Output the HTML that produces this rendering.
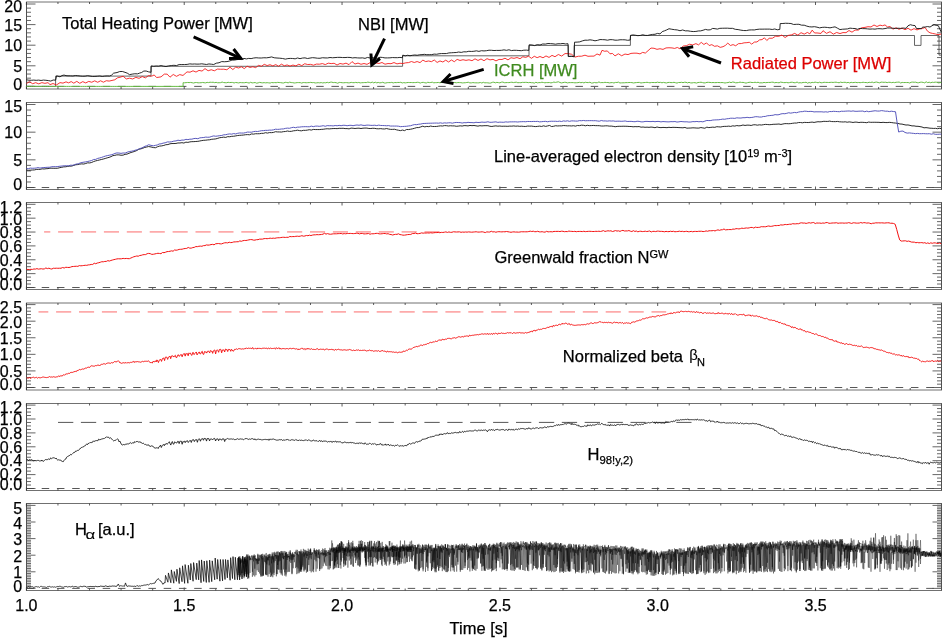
<!DOCTYPE html>
<html><head><meta charset="utf-8"><style>
html,body{margin:0;padding:0;background:#fff;}
svg{display:block;}
text{font-family:"Liberation Sans", sans-serif;stroke:currentColor;stroke-width:0.25px;}
</style></head><body>
<svg width="942" height="643" viewBox="0 0 942 643" font-family="Liberation Sans, sans-serif" style="will-change:transform">
<rect width="942" height="643" fill="#fff"/>
<path d="M26.00 2.00H942.00M26.00 89.00H942.00" fill="none" stroke="#707070" stroke-width="1"/>
<path d="M26.50 2.00V89.00M941.50 2.00V89.00" fill="none" stroke="#505050" stroke-width="1"/>
<path d="M26.50 86.40h9.00M941.50 86.40h-9.00M26.50 82.28h4.50M941.50 82.28h-4.50M26.50 78.16h4.50M941.50 78.16h-4.50M26.50 74.04h4.50M941.50 74.04h-4.50M26.50 69.92h4.50M941.50 69.92h-4.50M26.50 65.80h9.00M941.50 65.80h-9.00M26.50 61.68h4.50M941.50 61.68h-4.50M26.50 57.56h4.50M941.50 57.56h-4.50M26.50 53.44h4.50M941.50 53.44h-4.50M26.50 49.32h4.50M941.50 49.32h-4.50M26.50 45.20h9.00M941.50 45.20h-9.00M26.50 41.08h4.50M941.50 41.08h-4.50M26.50 36.96h4.50M941.50 36.96h-4.50M26.50 32.84h4.50M941.50 32.84h-4.50M26.50 28.72h4.50M941.50 28.72h-4.50M26.50 24.60h9.00M941.50 24.60h-9.00M26.50 20.48h4.50M941.50 20.48h-4.50M26.50 16.36h4.50M941.50 16.36h-4.50M26.50 12.24h4.50M941.50 12.24h-4.50M26.50 8.12h4.50M941.50 8.12h-4.50M26.50 4.00h9.00M941.50 4.00h-9.00" stroke="#555" stroke-width="0.9" fill="none"/>
<path d="M26.40 89.00v-3.00M26.40 2.00v3.00M57.96 89.00v-2.00M57.96 2.00v2.00M89.53 89.00v-2.00M89.53 2.00v2.00M121.09 89.00v-2.00M121.09 2.00v2.00M152.66 89.00v-2.00M152.66 2.00v2.00M184.22 89.00v-3.00M184.22 2.00v3.00M215.78 89.00v-2.00M215.78 2.00v2.00M247.35 89.00v-2.00M247.35 2.00v2.00M278.91 89.00v-2.00M278.91 2.00v2.00M310.48 89.00v-2.00M310.48 2.00v2.00M342.04 89.00v-3.00M342.04 2.00v3.00M373.60 89.00v-2.00M373.60 2.00v2.00M405.17 89.00v-2.00M405.17 2.00v2.00M436.73 89.00v-2.00M436.73 2.00v2.00M468.30 89.00v-2.00M468.30 2.00v2.00M499.86 89.00v-3.00M499.86 2.00v3.00M531.42 89.00v-2.00M531.42 2.00v2.00M562.99 89.00v-2.00M562.99 2.00v2.00M594.55 89.00v-2.00M594.55 2.00v2.00M626.12 89.00v-2.00M626.12 2.00v2.00M657.68 89.00v-3.00M657.68 2.00v3.00M689.24 89.00v-2.00M689.24 2.00v2.00M720.81 89.00v-2.00M720.81 2.00v2.00M752.37 89.00v-2.00M752.37 2.00v2.00M783.94 89.00v-2.00M783.94 2.00v2.00M815.50 89.00v-3.00M815.50 2.00v3.00M847.06 89.00v-2.00M847.06 2.00v2.00M878.63 89.00v-2.00M878.63 2.00v2.00M910.19 89.00v-2.00M910.19 2.00v2.00" stroke="#333" stroke-width="0.8" fill="none"/>
<path d="M26.00 102.50H942.00M26.00 189.50H942.00" fill="none" stroke="#707070" stroke-width="1"/>
<path d="M26.50 102.50V189.50M941.50 102.50V189.50" fill="none" stroke="#505050" stroke-width="1"/>
<path d="M26.50 187.50h9.00M941.50 187.50h-9.00M26.50 181.97h4.50M941.50 181.97h-4.50M26.50 176.43h4.50M941.50 176.43h-4.50M26.50 170.90h4.50M941.50 170.90h-4.50M26.50 165.37h4.50M941.50 165.37h-4.50M26.50 159.84h9.00M941.50 159.84h-9.00M26.50 154.30h4.50M941.50 154.30h-4.50M26.50 148.77h4.50M941.50 148.77h-4.50M26.50 143.24h4.50M941.50 143.24h-4.50M26.50 137.70h4.50M941.50 137.70h-4.50M26.50 132.17h9.00M941.50 132.17h-9.00M26.50 126.64h4.50M941.50 126.64h-4.50M26.50 121.10h4.50M941.50 121.10h-4.50M26.50 115.57h4.50M941.50 115.57h-4.50M26.50 110.04h4.50M941.50 110.04h-4.50M26.50 104.50h9.00M941.50 104.50h-9.00" stroke="#555" stroke-width="0.9" fill="none"/>
<path d="M26.40 189.50v-3.00M26.40 102.50v3.00M57.96 189.50v-2.00M57.96 102.50v2.00M89.53 189.50v-2.00M89.53 102.50v2.00M121.09 189.50v-2.00M121.09 102.50v2.00M152.66 189.50v-2.00M152.66 102.50v2.00M184.22 189.50v-3.00M184.22 102.50v3.00M215.78 189.50v-2.00M215.78 102.50v2.00M247.35 189.50v-2.00M247.35 102.50v2.00M278.91 189.50v-2.00M278.91 102.50v2.00M310.48 189.50v-2.00M310.48 102.50v2.00M342.04 189.50v-3.00M342.04 102.50v3.00M373.60 189.50v-2.00M373.60 102.50v2.00M405.17 189.50v-2.00M405.17 102.50v2.00M436.73 189.50v-2.00M436.73 102.50v2.00M468.30 189.50v-2.00M468.30 102.50v2.00M499.86 189.50v-3.00M499.86 102.50v3.00M531.42 189.50v-2.00M531.42 102.50v2.00M562.99 189.50v-2.00M562.99 102.50v2.00M594.55 189.50v-2.00M594.55 102.50v2.00M626.12 189.50v-2.00M626.12 102.50v2.00M657.68 189.50v-3.00M657.68 102.50v3.00M689.24 189.50v-2.00M689.24 102.50v2.00M720.81 189.50v-2.00M720.81 102.50v2.00M752.37 189.50v-2.00M752.37 102.50v2.00M783.94 189.50v-2.00M783.94 102.50v2.00M815.50 189.50v-3.00M815.50 102.50v3.00M847.06 189.50v-2.00M847.06 102.50v2.00M878.63 189.50v-2.00M878.63 102.50v2.00M910.19 189.50v-2.00M910.19 102.50v2.00" stroke="#333" stroke-width="0.8" fill="none"/>
<path d="M26.00 202.50H942.00M26.00 289.50H942.00" fill="none" stroke="#707070" stroke-width="1"/>
<path d="M26.50 202.50V289.50M941.50 202.50V289.50" fill="none" stroke="#505050" stroke-width="1"/>
<path d="M26.50 287.50h9.00M941.50 287.50h-9.00M26.50 284.03h4.50M941.50 284.03h-4.50M26.50 280.57h4.50M941.50 280.57h-4.50M26.50 277.10h4.50M941.50 277.10h-4.50M26.50 273.63h9.00M941.50 273.63h-9.00M26.50 270.17h4.50M941.50 270.17h-4.50M26.50 266.70h4.50M941.50 266.70h-4.50M26.50 263.23h4.50M941.50 263.23h-4.50M26.50 259.77h9.00M941.50 259.77h-9.00M26.50 256.30h4.50M941.50 256.30h-4.50M26.50 252.84h4.50M941.50 252.84h-4.50M26.50 249.37h4.50M941.50 249.37h-4.50M26.50 245.90h9.00M941.50 245.90h-9.00M26.50 242.44h4.50M941.50 242.44h-4.50M26.50 238.97h4.50M941.50 238.97h-4.50M26.50 235.50h4.50M941.50 235.50h-4.50M26.50 232.04h9.00M941.50 232.04h-9.00M26.50 228.57h4.50M941.50 228.57h-4.50M26.50 225.10h4.50M941.50 225.10h-4.50M26.50 221.64h4.50M941.50 221.64h-4.50M26.50 218.17h9.00M941.50 218.17h-9.00M26.50 214.70h4.50M941.50 214.70h-4.50M26.50 211.24h4.50M941.50 211.24h-4.50M26.50 207.77h4.50M941.50 207.77h-4.50M26.50 204.30h9.00M941.50 204.30h-9.00" stroke="#555" stroke-width="0.9" fill="none"/>
<path d="M26.40 289.50v-3.00M26.40 202.50v3.00M57.96 289.50v-2.00M57.96 202.50v2.00M89.53 289.50v-2.00M89.53 202.50v2.00M121.09 289.50v-2.00M121.09 202.50v2.00M152.66 289.50v-2.00M152.66 202.50v2.00M184.22 289.50v-3.00M184.22 202.50v3.00M215.78 289.50v-2.00M215.78 202.50v2.00M247.35 289.50v-2.00M247.35 202.50v2.00M278.91 289.50v-2.00M278.91 202.50v2.00M310.48 289.50v-2.00M310.48 202.50v2.00M342.04 289.50v-3.00M342.04 202.50v3.00M373.60 289.50v-2.00M373.60 202.50v2.00M405.17 289.50v-2.00M405.17 202.50v2.00M436.73 289.50v-2.00M436.73 202.50v2.00M468.30 289.50v-2.00M468.30 202.50v2.00M499.86 289.50v-3.00M499.86 202.50v3.00M531.42 289.50v-2.00M531.42 202.50v2.00M562.99 289.50v-2.00M562.99 202.50v2.00M594.55 289.50v-2.00M594.55 202.50v2.00M626.12 289.50v-2.00M626.12 202.50v2.00M657.68 289.50v-3.00M657.68 202.50v3.00M689.24 289.50v-2.00M689.24 202.50v2.00M720.81 289.50v-2.00M720.81 202.50v2.00M752.37 289.50v-2.00M752.37 202.50v2.00M783.94 289.50v-2.00M783.94 202.50v2.00M815.50 289.50v-3.00M815.50 202.50v3.00M847.06 289.50v-2.00M847.06 202.50v2.00M878.63 289.50v-2.00M878.63 202.50v2.00M910.19 289.50v-2.00M910.19 202.50v2.00" stroke="#333" stroke-width="0.8" fill="none"/>
<path d="M26.00 303.00H942.00M26.00 390.00H942.00" fill="none" stroke="#707070" stroke-width="1"/>
<path d="M26.50 303.00V390.00M941.50 303.00V390.00" fill="none" stroke="#505050" stroke-width="1"/>
<path d="M26.50 387.50h9.00M941.50 387.50h-9.00M26.50 384.18h4.50M941.50 384.18h-4.50M26.50 380.87h4.50M941.50 380.87h-4.50M26.50 377.55h4.50M941.50 377.55h-4.50M26.50 374.24h4.50M941.50 374.24h-4.50M26.50 370.92h9.00M941.50 370.92h-9.00M26.50 367.60h4.50M941.50 367.60h-4.50M26.50 364.29h4.50M941.50 364.29h-4.50M26.50 360.97h4.50M941.50 360.97h-4.50M26.50 357.66h4.50M941.50 357.66h-4.50M26.50 354.34h9.00M941.50 354.34h-9.00M26.50 351.02h4.50M941.50 351.02h-4.50M26.50 347.71h4.50M941.50 347.71h-4.50M26.50 344.39h4.50M941.50 344.39h-4.50M26.50 341.08h4.50M941.50 341.08h-4.50M26.50 337.76h9.00M941.50 337.76h-9.00M26.50 334.44h4.50M941.50 334.44h-4.50M26.50 331.13h4.50M941.50 331.13h-4.50M26.50 327.81h4.50M941.50 327.81h-4.50M26.50 324.50h4.50M941.50 324.50h-4.50M26.50 321.18h9.00M941.50 321.18h-9.00M26.50 317.86h4.50M941.50 317.86h-4.50M26.50 314.55h4.50M941.50 314.55h-4.50M26.50 311.23h4.50M941.50 311.23h-4.50M26.50 307.92h4.50M941.50 307.92h-4.50M26.50 304.60h9.00M941.50 304.60h-9.00" stroke="#555" stroke-width="0.9" fill="none"/>
<path d="M26.40 390.00v-3.00M26.40 303.00v3.00M57.96 390.00v-2.00M57.96 303.00v2.00M89.53 390.00v-2.00M89.53 303.00v2.00M121.09 390.00v-2.00M121.09 303.00v2.00M152.66 390.00v-2.00M152.66 303.00v2.00M184.22 390.00v-3.00M184.22 303.00v3.00M215.78 390.00v-2.00M215.78 303.00v2.00M247.35 390.00v-2.00M247.35 303.00v2.00M278.91 390.00v-2.00M278.91 303.00v2.00M310.48 390.00v-2.00M310.48 303.00v2.00M342.04 390.00v-3.00M342.04 303.00v3.00M373.60 390.00v-2.00M373.60 303.00v2.00M405.17 390.00v-2.00M405.17 303.00v2.00M436.73 390.00v-2.00M436.73 303.00v2.00M468.30 390.00v-2.00M468.30 303.00v2.00M499.86 390.00v-3.00M499.86 303.00v3.00M531.42 390.00v-2.00M531.42 303.00v2.00M562.99 390.00v-2.00M562.99 303.00v2.00M594.55 390.00v-2.00M594.55 303.00v2.00M626.12 390.00v-2.00M626.12 303.00v2.00M657.68 390.00v-3.00M657.68 303.00v3.00M689.24 390.00v-2.00M689.24 303.00v2.00M720.81 390.00v-2.00M720.81 303.00v2.00M752.37 390.00v-2.00M752.37 303.00v2.00M783.94 390.00v-2.00M783.94 303.00v2.00M815.50 390.00v-3.00M815.50 303.00v3.00M847.06 390.00v-2.00M847.06 303.00v2.00M878.63 390.00v-2.00M878.63 303.00v2.00M910.19 390.00v-2.00M910.19 303.00v2.00" stroke="#333" stroke-width="0.8" fill="none"/>
<path d="M26.00 403.50H942.00M26.00 490.50H942.00" fill="none" stroke="#707070" stroke-width="1"/>
<path d="M26.50 403.50V490.50M941.50 403.50V490.50" fill="none" stroke="#505050" stroke-width="1"/>
<path d="M26.50 488.50h9.00M941.50 488.50h-9.00M26.50 485.02h4.50M941.50 485.02h-4.50M26.50 481.55h4.50M941.50 481.55h-4.50M26.50 478.07h4.50M941.50 478.07h-4.50M26.50 474.60h9.00M941.50 474.60h-9.00M26.50 471.12h4.50M941.50 471.12h-4.50M26.50 467.65h4.50M941.50 467.65h-4.50M26.50 464.18h4.50M941.50 464.18h-4.50M26.50 460.70h9.00M941.50 460.70h-9.00M26.50 457.23h4.50M941.50 457.23h-4.50M26.50 453.75h4.50M941.50 453.75h-4.50M26.50 450.27h4.50M941.50 450.27h-4.50M26.50 446.80h9.00M941.50 446.80h-9.00M26.50 443.32h4.50M941.50 443.32h-4.50M26.50 439.85h4.50M941.50 439.85h-4.50M26.50 436.38h4.50M941.50 436.38h-4.50M26.50 432.90h9.00M941.50 432.90h-9.00M26.50 429.43h4.50M941.50 429.43h-4.50M26.50 425.95h4.50M941.50 425.95h-4.50M26.50 422.48h4.50M941.50 422.48h-4.50M26.50 419.00h9.00M941.50 419.00h-9.00M26.50 415.52h4.50M941.50 415.52h-4.50M26.50 412.05h4.50M941.50 412.05h-4.50M26.50 408.57h4.50M941.50 408.57h-4.50M26.50 405.10h9.00M941.50 405.10h-9.00" stroke="#555" stroke-width="0.9" fill="none"/>
<path d="M26.40 490.50v-3.00M26.40 403.50v3.00M57.96 490.50v-2.00M57.96 403.50v2.00M89.53 490.50v-2.00M89.53 403.50v2.00M121.09 490.50v-2.00M121.09 403.50v2.00M152.66 490.50v-2.00M152.66 403.50v2.00M184.22 490.50v-3.00M184.22 403.50v3.00M215.78 490.50v-2.00M215.78 403.50v2.00M247.35 490.50v-2.00M247.35 403.50v2.00M278.91 490.50v-2.00M278.91 403.50v2.00M310.48 490.50v-2.00M310.48 403.50v2.00M342.04 490.50v-3.00M342.04 403.50v3.00M373.60 490.50v-2.00M373.60 403.50v2.00M405.17 490.50v-2.00M405.17 403.50v2.00M436.73 490.50v-2.00M436.73 403.50v2.00M468.30 490.50v-2.00M468.30 403.50v2.00M499.86 490.50v-3.00M499.86 403.50v3.00M531.42 490.50v-2.00M531.42 403.50v2.00M562.99 490.50v-2.00M562.99 403.50v2.00M594.55 490.50v-2.00M594.55 403.50v2.00M626.12 490.50v-2.00M626.12 403.50v2.00M657.68 490.50v-3.00M657.68 403.50v3.00M689.24 490.50v-2.00M689.24 403.50v2.00M720.81 490.50v-2.00M720.81 403.50v2.00M752.37 490.50v-2.00M752.37 403.50v2.00M783.94 490.50v-2.00M783.94 403.50v2.00M815.50 490.50v-3.00M815.50 403.50v3.00M847.06 490.50v-2.00M847.06 403.50v2.00M878.63 490.50v-2.00M878.63 403.50v2.00M910.19 490.50v-2.00M910.19 403.50v2.00" stroke="#333" stroke-width="0.8" fill="none"/>
<path d="M26.00 503.50H942.00M26.00 590.50H942.00" fill="none" stroke="#707070" stroke-width="1"/>
<path d="M26.50 503.50V590.50M941.50 503.50V590.50" fill="none" stroke="#505050" stroke-width="1"/>
<path d="M26.50 588.40h9.00M941.50 588.40h-9.00M26.50 586.74h4.50M941.50 586.74h-4.50M26.50 585.08h4.50M941.50 585.08h-4.50M26.50 583.42h4.50M941.50 583.42h-4.50M26.50 581.76h4.50M941.50 581.76h-4.50M26.50 580.10h4.50M941.50 580.10h-4.50M26.50 578.44h4.50M941.50 578.44h-4.50M26.50 576.78h4.50M941.50 576.78h-4.50M26.50 575.12h4.50M941.50 575.12h-4.50M26.50 573.46h4.50M941.50 573.46h-4.50M26.50 571.80h9.00M941.50 571.80h-9.00M26.50 570.14h4.50M941.50 570.14h-4.50M26.50 568.48h4.50M941.50 568.48h-4.50M26.50 566.82h4.50M941.50 566.82h-4.50M26.50 565.16h4.50M941.50 565.16h-4.50M26.50 563.50h4.50M941.50 563.50h-4.50M26.50 561.84h4.50M941.50 561.84h-4.50M26.50 560.18h4.50M941.50 560.18h-4.50M26.50 558.52h4.50M941.50 558.52h-4.50M26.50 556.86h4.50M941.50 556.86h-4.50M26.50 555.20h9.00M941.50 555.20h-9.00M26.50 553.54h4.50M941.50 553.54h-4.50M26.50 551.88h4.50M941.50 551.88h-4.50M26.50 550.22h4.50M941.50 550.22h-4.50M26.50 548.56h4.50M941.50 548.56h-4.50M26.50 546.90h4.50M941.50 546.90h-4.50M26.50 545.24h4.50M941.50 545.24h-4.50M26.50 543.58h4.50M941.50 543.58h-4.50M26.50 541.92h4.50M941.50 541.92h-4.50M26.50 540.26h4.50M941.50 540.26h-4.50M26.50 538.60h9.00M941.50 538.60h-9.00M26.50 536.94h4.50M941.50 536.94h-4.50M26.50 535.28h4.50M941.50 535.28h-4.50M26.50 533.62h4.50M941.50 533.62h-4.50M26.50 531.96h4.50M941.50 531.96h-4.50M26.50 530.30h4.50M941.50 530.30h-4.50M26.50 528.64h4.50M941.50 528.64h-4.50M26.50 526.98h4.50M941.50 526.98h-4.50M26.50 525.32h4.50M941.50 525.32h-4.50M26.50 523.66h4.50M941.50 523.66h-4.50M26.50 522.00h9.00M941.50 522.00h-9.00M26.50 520.34h4.50M941.50 520.34h-4.50M26.50 518.68h4.50M941.50 518.68h-4.50M26.50 517.02h4.50M941.50 517.02h-4.50M26.50 515.36h4.50M941.50 515.36h-4.50M26.50 513.70h4.50M941.50 513.70h-4.50M26.50 512.04h4.50M941.50 512.04h-4.50M26.50 510.38h4.50M941.50 510.38h-4.50M26.50 508.72h4.50M941.50 508.72h-4.50M26.50 507.06h4.50M941.50 507.06h-4.50M26.50 505.40h9.00M941.50 505.40h-9.00M26.50 503.74h4.50M941.50 503.74h-4.50" stroke="#555" stroke-width="0.9" fill="none"/>
<path d="M26.40 590.50v-3.00M26.40 503.50v3.00M57.96 590.50v-2.00M57.96 503.50v2.00M89.53 590.50v-2.00M89.53 503.50v2.00M121.09 590.50v-2.00M121.09 503.50v2.00M152.66 590.50v-2.00M152.66 503.50v2.00M184.22 590.50v-3.00M184.22 503.50v3.00M215.78 590.50v-2.00M215.78 503.50v2.00M247.35 590.50v-2.00M247.35 503.50v2.00M278.91 590.50v-2.00M278.91 503.50v2.00M310.48 590.50v-2.00M310.48 503.50v2.00M342.04 590.50v-3.00M342.04 503.50v3.00M373.60 590.50v-2.00M373.60 503.50v2.00M405.17 590.50v-2.00M405.17 503.50v2.00M436.73 590.50v-2.00M436.73 503.50v2.00M468.30 590.50v-2.00M468.30 503.50v2.00M499.86 590.50v-3.00M499.86 503.50v3.00M531.42 590.50v-2.00M531.42 503.50v2.00M562.99 590.50v-2.00M562.99 503.50v2.00M594.55 590.50v-2.00M594.55 503.50v2.00M626.12 590.50v-2.00M626.12 503.50v2.00M657.68 590.50v-3.00M657.68 503.50v3.00M689.24 590.50v-2.00M689.24 503.50v2.00M720.81 590.50v-2.00M720.81 503.50v2.00M752.37 590.50v-2.00M752.37 503.50v2.00M783.94 590.50v-2.00M783.94 503.50v2.00M815.50 590.50v-3.00M815.50 503.50v3.00M847.06 590.50v-2.00M847.06 503.50v2.00M878.63 590.50v-2.00M878.63 503.50v2.00M910.19 590.50v-2.00M910.19 503.50v2.00" stroke="#333" stroke-width="0.8" fill="none"/>
<path d="M26.45 86.40H941.50" stroke="#444" stroke-width="0.9" stroke-dasharray="7.5 7.75" fill="none"/>
<path d="M26.45 187.50H941.50" stroke="#444" stroke-width="0.9" stroke-dasharray="7.5 7.75" fill="none"/>
<path d="M26.45 287.50H941.50" stroke="#444" stroke-width="0.9" stroke-dasharray="7.5 7.75" fill="none"/>
<path d="M26.45 387.50H941.50" stroke="#444" stroke-width="0.9" stroke-dasharray="7.5 7.75" fill="none"/>
<path d="M26.45 488.50H941.50" stroke="#444" stroke-width="0.9" stroke-dasharray="7.5 7.75" fill="none"/>
<path d="M26.45 588.40H941.50" stroke="#444" stroke-width="0.9" stroke-dasharray="7.5 7.75" fill="none"/>
<polyline points="26.50,86.40 55.60,86.40 55.60,76.10 151.00,76.10 151.00,66.30 402.60,66.30 402.60,55.80 529.00,55.80 529.00,45.40 568.30,45.40 568.30,56.30 574.20,56.30 574.20,45.40 630.40,45.40 630.40,35.50 914.50,35.50 914.50,45.40 921.00,45.40 921.00,35.50 939.00,35.50 939.00,55.10 941.20,55.10" fill="none" stroke="#333" stroke-width="0.75"/>
<polyline points="26.50,86.40 28.51,86.40 30.52,86.40 32.52,86.40 34.53,86.40 36.54,86.40 38.55,86.40 40.55,86.40 42.56,86.40 44.57,86.40 46.58,86.40 48.58,86.40 50.59,86.40 52.60,86.40 54.61,86.40 56.62,86.40 58.62,86.40 60.63,86.40 62.64,86.40 64.65,86.40 66.65,86.40 68.66,86.40 70.67,86.40 72.68,86.40 74.68,86.40 76.69,86.40 78.70,86.40 80.71,86.40 82.72,86.40 84.72,86.40 86.73,86.40 88.74,86.40 90.75,86.40 92.75,86.40 94.76,86.40 96.77,86.40 98.78,86.40 100.78,86.40 102.79,86.40 104.80,86.40 106.81,86.40 108.82,86.40 110.82,86.40 112.83,86.40 114.84,86.40 116.85,86.40 118.85,86.40 120.86,86.40 122.87,86.40 124.88,86.40 126.88,86.40 128.89,86.40 130.90,86.40 132.91,86.40 134.92,86.40 136.92,86.40 138.93,86.40 140.94,86.40 142.95,86.40 144.95,86.40 146.96,86.40 148.97,86.40 150.98,86.40 152.98,86.40 154.99,86.40 157.00,86.40 159.01,86.40 161.02,86.40 163.02,86.40 165.03,86.40 167.04,86.40 169.05,86.40 171.05,86.40 173.06,86.40 175.07,86.40 177.08,86.40 179.08,86.40 181.09,86.40 183.10,86.40 183.10,82.70 184.60,82.77 186.10,82.63 187.60,82.48 189.10,82.58 190.61,82.45 192.11,82.71 193.61,83.03 195.11,82.57 196.61,82.54 198.11,82.82 199.61,82.78 201.11,82.72 202.62,82.46 204.12,82.69 205.62,82.87 207.12,82.36 208.62,82.58 210.12,82.22 211.62,82.37 213.12,82.23 214.62,82.63 216.13,82.37 217.63,82.76 219.13,82.73 220.63,82.64 222.13,82.06 223.63,82.55 225.13,82.68 226.63,82.72 228.14,82.31 229.64,82.57 231.14,82.44 232.64,82.48 234.14,82.95 235.64,82.48 237.14,82.68 238.64,82.91 240.15,82.54 241.65,82.66 243.15,82.71 244.65,82.70 246.15,82.38 247.65,82.70 249.15,83.02 250.65,82.30 252.15,82.90 253.66,82.71 255.16,82.52 256.66,83.18 258.16,82.87 259.66,82.38 261.16,82.70 262.66,82.82 264.16,82.63 265.67,82.85 267.17,82.66 268.67,82.84 270.17,83.04 271.67,82.51 273.17,82.73 274.67,82.56 276.17,82.71 277.67,82.38 279.18,82.53 280.68,82.63 282.18,82.90 283.68,82.96 285.18,82.34 286.68,82.47 288.18,82.83 289.68,82.17 291.19,82.56 292.69,82.65 294.19,82.98 295.69,82.84 297.19,82.59 298.69,82.58 300.19,82.61 301.69,83.05 303.20,82.56 304.70,82.59 306.20,82.76 307.70,82.64 309.20,82.62 310.70,82.39 312.20,82.66 313.70,82.55 315.20,82.96 316.71,82.83 318.21,82.66 319.71,82.83 321.21,82.58 322.71,82.93 324.21,82.66 325.71,82.81 327.21,82.34 328.72,82.75 330.22,82.24 331.72,82.15 333.22,82.58 334.72,82.44 336.22,82.70 337.72,83.22 339.22,82.45 340.72,82.50 342.23,82.71 343.73,82.78 345.23,82.61 346.73,82.61 348.23,82.83 349.73,82.79 351.23,82.40 352.73,82.64 354.24,82.66 355.74,82.39 357.24,82.72 358.74,82.44 360.24,82.90 361.74,82.70 363.24,82.67 364.74,82.50 366.24,82.62 367.75,82.15 369.25,82.37 370.75,82.74 372.25,82.12 373.75,82.86 375.25,82.21 376.75,82.84 378.25,82.44 379.76,82.84 381.26,82.68 382.76,82.26 384.26,82.96 385.76,83.01 387.26,82.63 388.76,82.58 390.26,82.61 391.77,82.40 393.27,82.92 394.77,82.51 396.27,82.63 397.77,82.45 399.27,82.49 400.77,82.32 402.27,82.96 403.77,82.60 405.28,82.88 406.78,82.64 408.28,82.47 409.78,82.56 411.28,82.50 412.78,82.64 414.28,82.55 415.78,82.56 417.29,82.29 418.79,82.44 420.29,83.05 421.79,82.47 423.29,82.37 424.79,82.72 426.29,82.99 427.79,82.27 429.29,82.58 430.80,82.48 432.30,82.19 433.80,82.82 435.30,82.63 436.80,82.65 438.30,82.44 439.80,82.75 441.30,82.50 442.81,82.60 444.31,82.35 445.81,82.33 447.31,82.96 448.81,82.50 450.31,82.70 451.81,82.62 453.31,82.52 454.82,82.50 456.32,82.79 457.82,82.55 459.32,82.59 460.82,82.63 462.32,82.92 463.82,82.80 465.32,82.72 466.82,82.48 468.33,82.28 469.83,82.86 471.33,82.87 472.83,82.59 474.33,82.76 475.83,82.82 477.33,82.83 478.83,82.85 480.34,82.51 481.84,83.00 483.34,82.31 484.84,82.84 486.34,82.74 487.84,82.84 489.34,83.09 490.84,82.99 492.34,82.33 493.85,82.20 495.35,82.82 496.85,82.36 498.35,82.61 499.85,82.83 501.35,82.21 502.85,82.09 504.35,82.68 505.86,82.63 507.36,82.55 508.86,82.62 510.36,82.40 511.86,82.23 513.36,82.57 514.86,82.37 516.36,82.20 517.86,82.74 519.37,82.60 520.87,82.71 522.37,82.36 523.87,82.45 525.37,82.36 526.87,82.39 528.37,82.66 529.87,82.41 531.38,82.70 532.88,82.69 534.38,83.11 535.88,82.26 537.38,82.83 538.88,82.58 540.38,82.60 541.88,82.24 543.39,82.49 544.89,82.79 546.39,82.58 547.89,82.62 549.39,82.53 550.89,82.89 552.39,82.60 553.89,82.05 555.39,82.43 556.90,82.11 558.40,81.79 559.90,82.47 561.40,82.93 562.90,82.61 564.40,82.31 565.90,82.36 567.40,82.88 568.91,82.64 570.41,82.61 571.91,82.58 573.41,82.61 574.91,82.80 576.41,82.73 577.91,82.65 579.41,82.33 580.91,82.72 582.42,82.42 583.92,82.87 585.42,82.28 586.92,82.56 588.42,82.59 589.92,82.26 591.42,83.02 592.92,82.96 594.43,82.48 595.93,82.78 597.43,82.69 598.93,81.94 600.43,82.65 601.93,82.57 603.43,82.61 604.93,82.32 606.44,82.52 607.94,82.54 609.44,82.88 610.94,82.67 612.44,82.59 613.94,82.97 615.44,82.45 616.94,82.49 618.44,82.13 619.95,82.98 621.45,82.83 622.95,82.81 624.45,82.75 625.95,82.61 627.45,82.64 628.95,82.52 630.45,82.53 631.96,82.60 633.46,82.96 634.96,82.72 636.46,82.57 637.96,82.44 639.46,82.42 640.96,82.98 642.46,82.71 643.96,82.60 645.47,82.49 646.97,82.30 648.47,82.56 649.97,82.80 651.47,82.48 652.97,82.52 654.47,82.52 655.97,82.60 657.48,82.18 658.98,82.52 660.48,82.36 661.98,82.79 663.48,82.38 664.98,82.72 666.48,82.95 667.98,82.49 669.48,82.42 670.99,82.62 672.49,82.57 673.99,82.32 675.49,82.69 676.99,83.07 678.49,82.50 679.99,82.52 681.49,82.31 683.00,82.65 684.50,82.26 686.00,82.29 687.50,82.89 689.00,82.34 690.50,82.84 692.00,82.95 693.50,82.63 695.01,82.70 696.51,83.05 698.01,82.51 699.51,82.42 701.01,82.23 702.51,82.57 704.01,82.93 705.51,82.80 707.01,82.33 708.52,82.35 710.02,82.43 711.52,82.63 713.02,82.51 714.52,82.61 716.02,82.63 717.52,82.48 719.02,82.55 720.53,82.61 722.03,82.54 723.53,82.68 725.03,83.02 726.53,82.70 728.03,82.57 729.53,82.13 731.03,82.65 732.53,82.07 734.04,82.20 735.54,82.77 737.04,82.73 738.54,82.52 740.04,82.13 741.54,82.46 743.04,82.38 744.54,82.71 746.05,83.12 747.55,82.61 749.05,82.36 750.55,82.26 752.05,82.54 753.55,82.51 755.05,82.26 756.55,82.58 758.06,82.26 759.56,82.83 761.06,82.81 762.56,82.82 764.06,82.43 765.56,82.67 767.06,82.51 768.56,82.45 770.06,82.46 771.57,82.22 773.07,82.18 774.57,82.74 776.07,82.50 777.57,82.60 779.07,82.79 780.57,82.11 782.07,82.35 783.58,82.59 785.08,82.64 786.58,82.45 788.08,82.80 789.58,82.59 791.08,82.24 792.58,82.31 794.08,82.74 795.58,82.65 797.09,82.06 798.59,82.87 800.09,82.69 801.59,82.87 803.09,82.44 804.59,82.46 806.09,82.25 807.59,83.17 809.10,82.49 810.60,82.93 812.10,82.37 813.60,82.57 815.10,82.12 816.60,82.44 818.10,82.78 819.60,82.22 821.10,82.80 822.61,82.62 824.11,82.27 825.61,82.41 827.11,82.42 828.61,82.52 830.11,82.40 831.61,82.32 833.11,82.45 834.62,82.27 836.12,82.21 837.62,82.52 839.12,82.75 840.62,82.14 842.12,82.53 843.62,82.36 845.12,82.28 846.63,82.74 848.13,82.40 849.63,82.90 851.13,82.33 852.63,82.62 854.13,82.47 855.63,82.33 857.13,82.67 858.63,82.48 860.14,82.67 861.64,82.51 863.14,82.25 864.64,82.49 866.14,82.53 867.64,82.76 869.14,82.29 870.64,82.51 872.15,82.09 873.65,82.68 875.15,82.25 876.65,82.07 878.15,82.50 879.65,82.79 881.15,82.13 882.65,82.24 884.15,82.33 885.66,82.23 887.16,82.61 888.66,82.31 890.16,82.33 891.66,82.66 893.16,82.32 894.66,82.62 896.16,82.27 897.67,82.21 899.17,82.05 900.67,82.98 902.17,82.43 903.67,82.57 905.17,82.50 906.67,82.55 908.17,82.52 909.68,82.99 911.18,82.25 912.68,82.12 914.18,82.25 915.68,82.17 917.18,82.69 918.68,82.71 920.18,82.27 921.68,82.16 923.19,82.42 924.69,82.85 926.19,81.80 927.69,82.64 929.19,82.23 930.69,82.76 932.19,82.23 933.69,82.43 935.20,82.13 936.70,82.26 938.20,82.85 939.70,82.71 941.20,82.40" fill="none" stroke="#66bb44" stroke-width="1.0"/>
<polyline points="26.50,83.46 29.57,81.75 32.64,83.70 35.71,82.68 38.79,83.86 41.86,82.65 44.93,83.34 48.00,82.67 50.00,84.58 53.00,83.55 56.50,84.93 60.00,82.63 63.00,83.12 66.00,81.87 68.60,82.83 71.20,81.60 73.80,83.17 76.79,81.38 79.78,83.30 82.76,81.65 85.75,82.93 88.74,81.41 91.72,82.24 94.71,80.83 97.70,82.28 100.56,80.77 103.42,82.20 106.28,80.72 109.14,81.08 112.00,80.43 114.80,79.78 117.60,77.79 120.00,77.25 123.10,76.26 126.30,78.95 129.50,78.18 132.68,78.96 135.86,77.37 139.04,78.33 142.22,76.57 145.40,77.87 148.60,75.57 151.80,76.15 154.20,74.95 156.60,77.52 161.00,76.87 164.30,74.13 167.15,74.13 170.00,77.18 173.25,74.47 176.50,76.33 179.75,74.62 183.00,75.44 187.00,71.89 190.00,72.19 193.00,70.80 196.00,72.07 199.00,70.38 202.00,71.09 205.00,68.64 208.12,70.76 211.25,69.76 214.38,70.77 217.50,69.07 220.62,69.26 223.75,69.20 226.88,69.74 230.00,67.23 232.86,69.55 235.71,67.07 238.57,68.02 241.43,66.81 244.29,68.62 247.14,66.26 250.00,67.44 252.86,66.75 255.71,67.64 258.57,65.36 261.43,66.26 264.29,64.33 267.14,65.58 270.00,64.71 272.86,65.91 275.71,64.58 278.57,66.24 281.43,64.17 284.29,65.74 287.14,64.95 290.00,66.09 292.94,65.06 295.88,65.85 298.82,64.22 301.76,65.68 304.71,63.72 307.65,64.52 310.59,64.36 313.53,65.16 316.47,64.07 319.41,64.19 322.35,63.58 325.29,64.58 328.24,63.17 331.18,63.60 334.12,63.29 337.06,65.03 340.00,63.49 343.00,64.12 346.00,63.13 349.00,64.64 352.00,61.60 355.00,64.04 358.00,63.09 361.00,64.28 364.00,63.51 367.00,64.35 370.00,62.66 373.00,63.86 376.00,62.91 379.00,63.46 382.00,62.52 385.00,64.20 388.00,63.54 391.00,63.69 394.00,62.56 397.00,63.89 400.00,63.27 402.86,63.54 405.71,62.85 408.57,62.59 411.43,61.54 414.29,62.49 417.14,61.54 420.00,62.62 422.86,60.12 425.71,61.59 428.57,60.98 431.43,61.66 434.29,60.00 437.14,62.45 440.00,60.95 442.86,62.00 445.71,60.18 448.57,61.99 451.43,60.01 454.29,61.73 457.14,59.39 460.00,60.47 463.00,59.72 466.00,60.39 469.00,59.80 472.00,60.71 475.00,58.84 478.00,60.46 481.00,58.96 484.00,60.72 487.00,58.66 490.00,59.88 493.00,59.35 496.00,60.90 499.00,59.42 502.00,59.49 505.00,58.21 508.00,59.91 511.00,57.72 514.00,58.33 517.00,57.52 520.00,58.73 522.86,56.76 525.71,57.42 528.57,56.20 531.43,58.32 534.29,56.28 537.14,57.66 540.00,56.51 543.00,57.77 546.00,55.95 549.00,57.43 552.00,55.39 555.00,56.72 558.33,54.49 561.67,56.07 565.00,53.59 568.00,53.63 571.50,54.22 575.00,57.09 578.33,56.25 581.67,56.20 585.00,55.18 588.00,56.29 591.00,56.13 594.00,56.12 597.00,53.96 600.00,55.16 602.00,50.33 604.67,51.28 607.33,50.92 610.00,53.81 612.50,53.45 615.00,55.94 618.33,53.75 621.67,55.76 625.00,54.05 628.00,54.60 631.00,53.38 634.00,53.15 637.00,53.20 640.00,53.90 642.67,52.38 645.33,53.07 648.00,50.73 651.00,48.05 654.00,48.28 657.00,49.33 660.00,48.73 663.00,49.40 666.00,47.93 669.00,47.75 672.00,47.91 674.67,48.43 677.33,47.46 680.00,48.89 683.20,46.04 686.40,45.67 689.60,44.25 692.75,44.90 695.90,43.65 698.57,44.87 701.23,42.37 703.90,44.47 706.53,42.88 709.17,45.52 711.80,44.65 714.60,46.32 717.40,45.81 720.20,47.36 723.00,46.69 725.40,45.41 727.80,43.09 730.43,45.49 733.07,44.62 735.70,45.76 738.50,43.65 741.30,43.56 744.10,42.82 746.90,42.67 749.30,42.27 751.70,44.15 754.33,42.08 756.97,41.95 759.60,39.86 762.00,39.61 764.40,37.81 766.80,40.49 769.20,38.27 772.37,38.21 775.53,36.23 778.70,36.35 781.90,35.04 785.10,37.50 788.30,35.41 791.50,34.83 794.68,33.40 797.86,35.16 801.04,32.68 804.22,34.10 807.40,32.44 809.80,33.85 812.20,30.12 814.60,33.01 817.00,32.94 821.00,33.43 823.00,30.70 826.50,33.35 830.00,31.71 833.33,34.14 836.67,32.49 840.00,33.57 843.00,32.59 846.00,32.68 849.00,30.52 852.00,32.19 855.00,30.05 858.33,30.08 861.67,27.79 865.00,27.36 868.00,26.71 871.00,26.94 874.00,24.99 877.00,26.50 880.00,25.14 882.50,25.74 885.00,24.92 887.50,26.98 890.00,26.51 893.00,29.19 896.00,27.72 899.00,29.30 902.00,28.11 905.00,29.72 908.00,28.30 911.00,30.18 914.00,28.65 917.00,29.92 920.00,28.80 922.50,28.52 925.00,27.42 927.50,31.17 930.00,32.80 932.67,33.45 935.33,33.98 938.00,34.65 941.20,34.09" fill="none" stroke="#f41010" stroke-width="0.85"/>
<polyline points="26.50,79.79 28.93,80.22 31.35,80.27 33.77,80.08 36.20,80.33 38.62,80.11 41.05,80.47 43.48,80.08 45.90,80.29 48.33,80.59 50.75,81.07 53.17,80.00 55.60,80.16 56.60,75.85 60.00,76.84 62.00,75.56 64.00,75.05 66.00,75.64 68.00,75.81 70.45,75.82 72.89,75.98 75.34,75.51 77.79,75.71 80.24,76.03 82.68,76.22 85.13,76.13 87.58,75.66 90.02,76.07 92.47,76.46 94.92,76.40 97.36,76.22 99.81,75.99 102.26,76.45 104.71,76.10 107.15,75.94 109.60,76.06 111.60,75.13 113.60,73.17 117.00,72.55 119.65,71.56 122.30,71.48 125.00,72.32 127.25,73.15 129.50,74.65 132.17,74.13 134.83,73.75 137.50,73.87 139.60,73.10 141.70,72.46 143.80,71.05 146.20,71.04 148.60,71.85 151.00,72.30 151.20,65.93 153.67,66.30 156.13,66.00 158.60,66.14 161.07,65.57 163.53,66.16 166.00,66.53 168.63,65.92 171.27,65.54 173.90,65.30 176.53,65.57 179.17,64.54 181.80,64.57 184.47,64.54 187.13,64.42 189.80,63.87 192.19,64.12 194.58,63.98 196.97,64.13 199.36,64.08 201.75,63.81 204.14,64.17 206.53,64.47 208.92,63.95 211.31,64.20 213.70,64.50 216.37,63.18 219.03,62.75 221.70,61.58 224.33,61.74 226.97,61.59 229.60,61.01 232.00,60.07 234.40,60.09 236.80,59.64 239.20,59.36 241.60,59.53 244.00,58.40 246.38,58.92 248.75,58.39 251.12,58.62 253.50,58.06 256.09,57.74 258.68,57.96 261.26,58.03 263.85,57.76 266.44,57.83 269.02,57.47 271.61,56.92 274.20,57.77 277.00,58.03 279.80,58.19 282.60,58.50 285.40,59.11 287.83,58.58 290.27,58.42 292.70,58.49 295.13,58.82 297.57,57.97 300.00,58.66 302.50,58.06 305.00,57.87 307.50,58.53 310.00,58.07 312.50,57.66 315.00,57.89 317.50,58.23 320.00,58.26 322.50,57.72 325.00,57.92 327.50,57.96 330.00,57.51 332.50,57.76 335.00,57.59 337.50,57.39 340.00,57.35 342.50,57.54 345.00,57.55 347.50,57.39 350.00,57.45 352.50,57.93 355.00,57.68 357.50,57.90 360.00,58.01 362.50,57.85 365.00,58.37 367.50,57.46 370.00,57.97 372.50,57.65 375.00,58.32 377.50,58.29 380.00,57.21 382.49,57.46 384.98,57.91 387.47,57.90 389.96,57.84 392.44,57.56 394.93,57.67 397.42,57.68 399.91,57.42 402.40,57.71 402.80,55.12 405.20,55.88 407.60,55.27 410.00,55.76 412.40,55.29 414.80,54.98 417.20,55.25 419.60,54.76 422.00,54.65 424.40,54.34 426.80,54.69 429.25,54.66 431.71,54.64 434.16,54.10 436.62,54.28 439.07,53.78 441.52,53.56 443.98,53.58 446.43,53.54 448.88,52.94 451.34,52.78 453.79,52.62 456.25,52.51 458.70,52.03 461.23,52.42 463.76,51.80 466.29,51.87 468.82,51.29 471.35,51.46 473.88,51.28 476.41,50.84 478.94,51.39 481.47,50.70 484.00,50.93 486.50,50.69 489.00,50.20 491.50,50.29 494.00,50.53 496.50,50.42 499.00,50.41 501.50,50.31 504.00,49.86 506.50,50.33 508.98,49.77 511.46,50.58 513.93,50.28 516.41,50.32 518.89,50.50 521.37,50.68 523.84,50.20 526.32,50.14 528.80,50.38 529.20,44.79 531.90,44.96 534.60,45.58 537.30,44.63 540.00,45.00 542.67,43.99 545.33,44.09 548.00,43.50 550.50,43.61 553.00,43.82 555.50,44.20 558.00,43.76 560.50,43.76 563.00,43.46 565.50,43.95 568.00,43.73 568.30,56.55 571.25,56.29 574.20,56.82 574.50,42.21 577.12,42.11 579.75,41.86 582.38,40.89 585.00,40.16 587.50,40.24 590.00,39.82 592.50,40.19 595.00,40.80 597.50,40.33 600.00,39.57 602.50,39.64 605.00,39.78 607.50,40.20 610.00,39.65 612.50,39.69 615.00,40.17 617.50,40.16 620.00,39.79 622.55,39.76 625.10,39.84 627.65,40.29 630.20,40.03 630.60,35.32 633.02,34.91 635.45,35.24 637.88,35.66 640.30,35.45 642.73,34.75 645.15,35.36 647.58,35.45 650.00,34.88 652.50,34.41 655.00,34.27 657.50,33.42 660.00,33.94 662.25,31.60 664.50,30.82 666.75,29.89 669.00,28.73 671.75,29.25 674.50,29.68 677.25,29.94 680.00,30.74 682.65,29.97 685.30,30.83 687.95,30.84 690.60,31.31 693.25,31.55 695.90,31.43 698.30,30.98 700.70,30.89 703.10,30.23 705.50,29.40 707.88,29.96 710.27,29.79 712.65,28.41 715.03,28.69 717.42,29.10 719.80,28.34 722.34,28.25 724.88,28.20 727.42,28.18 729.96,28.36 732.50,28.33 735.30,29.32 738.10,29.58 740.90,30.17 743.70,30.54 746.35,30.57 749.00,30.00 751.65,29.90 754.30,29.95 756.95,29.43 759.60,29.15 762.12,29.16 764.65,29.12 767.17,29.11 769.70,29.11 772.23,29.48 774.75,28.97 777.27,29.75 779.80,29.41 780.20,23.58 782.90,23.49 785.60,23.26 788.30,23.35 790.95,23.50 793.60,24.48 796.25,24.32 798.90,24.28 801.55,25.16 804.20,25.20 806.76,26.11 809.32,26.76 811.88,26.95 814.44,26.68 817.00,27.17 819.60,27.87 822.20,27.38 824.80,27.22 827.40,27.48 830.00,27.84 832.50,27.34 835.00,26.84 837.50,28.21 840.00,29.59 842.50,29.22 845.00,29.08 847.50,28.92 850.00,28.12 852.50,28.43 855.00,28.53 857.50,29.25 860.00,28.34 862.50,28.61 865.00,28.65 867.50,28.88 870.00,29.11 872.50,28.95 875.00,29.15 877.50,28.69 880.00,28.69 882.50,28.91 885.00,28.55 887.50,28.01 890.00,27.99 892.67,28.21 895.33,28.45 898.00,28.22 900.67,28.42 903.33,28.05 906.00,28.35 908.00,25.79 910.33,24.71 912.67,25.33 915.00,25.57 916.50,28.59 919.00,28.46 921.50,28.68 922.50,27.10 925.00,27.08 927.50,26.54 930.00,27.06 932.00,25.74 934.00,24.74 936.20,25.32 938.40,25.79 941.20,32.07" fill="none" stroke="#111" stroke-width="0.9"/>
<polyline points="26.50,170.10 28.46,170.25 30.41,170.16 32.37,170.01 34.33,169.93 36.28,169.48 38.24,169.34 40.19,169.40 42.15,168.83 44.11,169.00 46.06,168.72 48.02,168.61 49.97,168.20 51.93,168.23 53.89,168.27 55.84,168.32 57.80,168.20 59.79,167.66 61.79,167.31 63.78,166.86 65.78,166.78 67.77,166.33 69.76,166.17 71.76,166.08 73.75,165.39 75.74,164.78 77.74,164.58 79.73,164.13 81.72,163.86 83.72,164.04 85.71,163.50 87.71,162.82 89.70,162.93 91.64,162.48 93.57,161.59 95.51,160.95 97.44,160.45 99.38,160.00 101.31,159.50 103.25,159.04 105.19,158.47 107.12,157.89 109.06,157.36 110.99,156.65 112.93,155.64 114.86,155.35 116.80,154.86 118.90,154.86 121.00,155.25 123.10,155.13 125.06,154.33 127.02,154.12 128.98,153.28 130.95,152.51 132.91,151.96 134.87,151.30 136.83,150.48 138.79,149.23 140.75,148.90 142.72,148.26 144.68,147.47 146.64,147.02 148.60,146.54 151.00,146.95 153.40,147.57 155.47,147.72 157.55,146.73 159.62,146.09 161.70,145.90 163.78,145.45 165.85,144.73 167.93,144.55 170.00,143.80 171.99,143.52 173.97,143.54 175.96,143.45 177.95,142.97 179.94,142.97 181.93,142.68 183.91,143.06 185.90,142.16 187.89,142.38 189.88,141.89 191.86,141.67 193.85,141.64 195.84,141.48 197.83,141.35 199.81,140.97 201.80,140.58 203.79,140.29 205.79,140.20 207.78,139.92 209.78,139.78 211.77,139.28 213.76,139.11 215.76,138.90 217.75,138.33 219.74,137.70 221.74,137.46 223.73,137.11 225.72,137.42 227.72,136.63 229.71,136.75 231.71,136.32 233.70,136.24 235.69,135.92 237.67,135.52 239.66,135.32 241.65,135.19 243.64,135.03 245.62,134.71 247.61,134.62 249.60,134.77 251.59,133.93 253.57,134.14 255.56,133.72 257.55,133.76 259.54,133.71 261.52,133.35 263.51,133.34 265.50,132.68 267.49,133.07 269.49,132.57 271.48,132.66 273.48,132.41 275.47,131.70 277.46,131.91 279.46,131.95 281.45,132.06 283.44,131.65 285.44,131.49 287.43,131.00 289.42,131.41 291.42,131.33 293.41,130.82 295.41,130.61 297.40,130.18 299.39,130.58 301.38,130.84 303.36,130.34 305.35,130.35 307.34,130.11 309.32,129.70 311.31,130.07 313.30,129.45 315.29,129.56 317.27,129.56 319.26,129.58 321.25,129.38 323.24,129.28 325.22,128.95 327.21,128.74 329.20,128.91 331.19,128.71 333.18,128.55 335.16,128.52 337.15,128.63 339.14,128.31 341.12,128.37 343.11,128.27 345.10,128.59 347.09,128.59 349.07,128.86 351.06,128.12 353.05,128.24 355.04,128.51 357.02,128.24 359.01,128.18 361.00,128.54 362.97,128.19 364.94,128.08 366.91,128.10 368.88,128.48 370.85,128.53 372.82,128.25 374.78,128.38 376.75,128.74 378.72,128.80 380.69,128.61 382.66,128.92 384.63,128.96 386.60,128.54 388.59,129.04 390.58,129.38 392.56,129.39 394.55,129.27 396.54,129.84 398.52,130.25 400.51,130.62 402.50,130.06 404.53,130.64 406.55,129.51 408.58,129.55 410.61,129.22 412.64,128.79 414.66,128.24 416.69,127.59 418.72,127.57 420.75,126.92 422.77,126.18 424.80,126.87 426.77,126.42 428.73,126.61 430.70,126.04 432.66,126.49 434.63,126.49 436.59,126.45 438.56,126.11 440.52,125.85 442.49,126.03 444.45,125.60 446.42,125.67 448.38,126.01 450.35,125.76 452.31,125.90 454.28,125.89 456.24,126.27 458.21,126.12 460.17,125.82 462.14,126.05 464.10,125.62 466.07,125.68 468.03,125.91 470.00,125.45 471.99,125.67 473.98,125.49 475.97,125.80 477.96,126.13 479.94,125.68 481.93,125.90 483.92,125.70 485.91,125.68 487.90,125.69 489.89,126.25 491.88,126.46 493.87,126.11 495.86,125.89 497.84,126.20 499.83,126.02 501.82,126.28 503.81,126.20 505.80,126.22 507.79,126.31 509.78,126.10 511.77,126.16 513.76,125.93 515.74,126.21 517.73,126.04 519.72,126.32 521.71,126.18 523.70,126.42 525.69,126.46 527.68,126.06 529.67,126.15 531.66,126.10 533.65,126.41 535.64,126.57 537.63,126.37 539.62,126.11 541.62,126.44 543.61,125.82 545.60,126.39 547.59,125.93 549.58,125.48 551.57,126.54 553.56,126.29 555.55,125.74 557.54,125.96 559.53,125.85 561.52,125.89 563.51,125.54 565.50,125.67 567.49,125.87 569.48,125.80 571.48,125.96 573.47,125.71 575.46,126.14 577.45,125.50 579.44,125.66 581.43,125.20 583.42,125.31 585.41,125.79 587.40,125.31 589.39,125.66 591.38,125.59 593.36,125.44 595.35,125.63 597.34,125.65 599.32,125.70 601.31,126.00 603.30,126.03 605.29,125.83 607.27,125.82 609.26,126.11 611.25,126.08 613.24,126.36 615.23,126.73 617.21,126.42 619.20,126.29 621.19,126.32 623.17,126.23 625.16,126.27 627.15,126.30 629.14,126.47 631.12,126.51 633.11,126.80 635.10,126.62 637.09,126.71 639.08,126.56 641.06,127.18 643.05,127.00 645.04,127.31 647.02,127.16 649.01,127.35 651.00,127.05 653.00,127.28 654.99,127.72 656.99,126.97 658.98,127.49 660.98,127.63 662.98,127.41 664.97,127.52 666.97,127.66 668.96,127.30 670.96,127.56 672.95,127.33 674.95,127.41 676.95,127.46 678.94,127.60 680.94,127.69 682.93,127.79 684.93,127.45 686.92,128.18 688.92,128.05 690.92,128.00 692.91,127.81 694.91,127.91 696.90,128.07 698.90,128.08 700.89,127.54 702.88,127.91 704.86,128.24 706.85,127.15 708.84,127.61 710.83,127.36 712.81,127.15 714.80,127.33 716.79,126.69 718.77,126.85 720.76,126.99 722.75,126.53 724.74,126.37 726.73,126.36 728.71,126.13 730.70,126.42 732.75,125.82 734.79,126.09 736.84,125.56 738.89,125.86 740.93,125.61 742.98,125.01 745.03,125.45 747.07,125.13 749.12,125.17 751.17,125.48 753.21,124.84 755.26,124.76 757.31,125.18 759.35,124.82 761.40,125.02 763.35,124.70 765.31,124.39 767.26,124.50 769.22,124.70 771.17,124.58 773.13,124.32 775.08,124.26 777.04,124.17 778.99,124.01 780.95,124.46 782.90,124.00 784.85,123.63 786.79,123.63 788.74,123.74 790.68,123.59 792.63,123.29 794.57,123.04 796.52,123.05 798.46,122.56 800.41,122.51 802.35,122.80 804.30,122.40 806.25,122.48 808.21,122.55 810.16,122.33 812.12,122.10 814.07,122.44 816.03,122.04 817.98,121.73 819.94,121.85 821.89,121.68 823.85,121.32 825.80,121.42 827.75,121.43 829.69,121.12 831.64,121.56 833.58,121.60 835.53,121.63 837.47,121.44 839.42,121.77 841.36,121.90 843.31,121.99 845.25,121.80 847.20,122.23 849.15,121.89 851.11,122.13 853.06,122.48 855.02,122.10 856.97,122.18 858.93,122.54 860.88,122.28 862.84,122.33 864.79,122.47 866.75,122.68 868.70,122.05 870.75,122.33 872.80,122.29 874.85,122.28 876.90,122.32 878.95,122.33 881.00,122.56 883.05,122.32 885.10,122.53 887.15,122.58 889.20,122.35 891.25,122.53 893.30,122.84 895.53,123.07 897.77,123.37 900.00,123.99 902.00,124.09 904.00,124.62 906.00,125.02 908.00,124.95 910.00,125.36 912.00,125.91 914.00,125.86 916.00,126.28 918.00,126.31 920.00,126.63 922.00,127.00 924.00,127.84 926.00,127.62 928.00,127.89 930.00,128.19 931.87,128.27 933.73,128.43 935.60,128.34 937.47,128.71 939.33,128.34 941.20,128.59" fill="none" stroke="#111" stroke-width="0.9"/>
<polyline points="26.50,168.66 28.43,168.62 30.35,168.11 32.27,168.27 34.20,168.19 36.12,168.05 38.05,167.57 39.97,168.08 41.90,167.72 43.89,167.55 45.88,167.42 47.86,167.27 49.85,167.23 51.84,166.73 53.82,166.64 55.81,166.72 57.80,166.53 59.93,166.24 62.07,166.02 64.20,165.78 66.33,165.75 68.47,165.82 70.60,165.19 72.51,165.27 74.42,164.71 76.33,164.02 78.24,163.84 80.15,162.96 82.06,162.47 83.97,162.13 85.88,161.88 87.79,161.46 89.70,161.00 91.69,160.52 93.67,159.47 95.66,159.40 97.65,158.42 99.64,157.97 101.62,157.42 103.61,156.67 105.60,156.03 107.47,155.57 109.33,155.23 111.20,154.82 113.07,154.28 114.93,153.43 116.80,152.94 118.90,153.02 121.00,153.39 123.10,152.99 125.16,153.09 127.21,152.19 129.27,151.57 131.33,151.24 133.39,150.82 135.44,150.13 137.50,149.71 139.35,148.73 141.20,148.15 143.05,147.35 144.90,146.28 146.75,145.79 148.60,144.73 151.00,145.37 153.40,145.82 155.32,145.36 157.24,145.00 159.16,144.00 161.08,143.81 163.00,143.17 165.17,142.79 167.33,141.93 169.50,141.98 171.67,141.76 173.83,141.11 176.00,140.92 177.98,140.19 179.97,140.56 181.95,140.05 183.94,140.12 185.92,139.34 187.91,139.61 189.89,139.18 191.88,139.15 193.86,138.57 195.85,138.39 197.83,138.73 199.82,137.87 201.80,137.66 203.79,137.49 205.79,137.08 207.78,137.27 209.78,137.12 211.77,136.38 213.76,135.92 215.76,136.24 217.75,135.97 219.74,135.66 221.74,135.47 223.73,134.81 225.72,134.69 227.72,134.19 229.71,133.93 231.71,134.15 233.70,133.57 235.69,133.96 237.67,133.31 239.66,132.97 241.65,133.06 243.64,133.06 245.62,132.60 247.61,132.06 249.60,132.17 251.59,132.18 253.57,131.60 255.56,131.35 257.55,131.50 259.54,131.13 261.52,130.68 263.51,130.62 265.50,130.35 267.49,130.36 269.49,130.12 271.48,130.13 273.48,129.84 275.47,129.19 277.46,129.38 279.46,129.28 281.45,128.99 283.44,128.91 285.44,128.39 287.43,128.11 289.42,128.29 291.42,127.69 293.41,127.27 295.41,127.71 297.40,127.16 299.39,127.14 301.38,126.82 303.36,126.73 305.35,126.67 307.34,126.73 309.32,126.77 311.31,126.14 313.30,126.65 315.29,126.16 317.27,126.09 319.26,126.34 321.25,126.09 323.24,125.69 325.22,126.27 327.21,125.63 329.20,125.75 331.19,125.70 333.18,125.91 335.16,125.50 337.15,125.75 339.14,125.36 341.12,125.70 343.11,125.28 345.10,125.33 347.09,125.74 349.07,125.39 351.06,125.31 353.05,125.70 355.04,125.28 357.02,125.01 359.01,125.28 361.00,124.86 362.97,125.37 364.94,125.43 366.91,125.12 368.88,125.16 370.85,125.37 372.82,125.38 374.78,125.23 376.75,125.58 378.72,125.11 380.69,125.47 382.66,125.53 384.63,125.60 386.60,125.76 388.59,125.58 390.58,126.07 392.56,126.04 394.55,126.07 396.54,126.05 398.52,126.21 400.51,126.65 402.50,126.51 404.53,126.39 406.55,126.28 408.58,125.95 410.61,125.74 412.64,125.05 414.66,124.57 416.69,124.68 418.72,124.22 420.75,124.06 422.77,123.52 424.80,123.44 426.77,123.34 428.73,123.28 430.70,123.21 432.66,123.16 434.63,123.09 436.59,123.06 438.56,123.18 440.52,122.85 442.49,123.27 444.45,122.87 446.42,123.06 448.38,122.82 450.35,122.76 452.31,123.18 454.28,122.68 456.24,122.46 458.21,122.54 460.17,122.59 462.14,123.05 464.10,122.63 466.07,122.75 468.03,122.33 470.00,122.57 471.99,122.60 473.98,122.80 475.97,122.27 477.96,122.50 479.94,122.41 481.93,122.12 483.92,122.29 485.91,122.21 487.90,121.77 489.89,122.32 491.88,122.28 493.87,122.06 495.86,121.85 497.84,122.38 499.83,122.11 501.82,122.23 503.81,122.28 505.80,121.86 507.79,122.10 509.78,121.86 511.77,121.87 513.76,121.83 515.74,121.82 517.73,122.01 519.72,121.78 521.71,121.70 523.70,121.64 525.69,121.74 527.68,121.46 529.67,121.51 531.66,121.56 533.65,121.43 535.64,121.49 537.63,121.36 539.62,121.85 541.62,121.68 543.61,121.48 545.60,121.35 547.59,121.76 549.58,121.36 551.57,121.25 553.56,121.29 555.55,121.26 557.54,121.45 559.53,121.13 561.52,121.53 563.51,120.90 565.50,121.18 567.49,120.81 569.48,121.34 571.48,120.88 573.47,120.91 575.46,121.07 577.45,121.11 579.44,120.60 581.43,120.72 583.42,120.48 585.41,120.76 587.40,120.68 589.39,120.66 591.38,120.63 593.36,120.72 595.35,120.68 597.34,120.96 599.32,121.19 601.31,120.53 603.30,120.93 605.29,120.90 607.27,121.11 609.26,120.85 611.25,121.05 613.24,120.90 615.23,121.28 617.21,121.19 619.20,121.17 621.19,121.31 623.17,121.21 625.16,120.98 627.15,121.44 629.14,121.41 631.12,121.36 633.11,121.62 635.10,121.69 637.09,121.26 639.08,121.36 641.06,121.85 643.05,121.86 645.04,121.46 647.02,121.40 649.01,121.54 651.00,121.60 653.00,121.38 654.99,121.71 656.99,121.44 658.98,121.46 660.98,121.88 662.98,121.56 664.97,121.69 666.97,121.83 668.96,121.86 670.96,121.63 672.95,121.71 674.95,121.53 676.95,122.05 678.94,121.83 680.94,121.48 682.93,121.70 684.93,121.84 686.92,121.80 688.92,122.07 690.92,121.97 692.91,121.59 694.91,121.68 696.90,121.44 698.90,121.75 700.89,121.53 702.88,121.84 704.86,121.12 706.85,120.48 708.84,120.57 710.83,120.52 712.81,120.05 714.80,119.93 716.79,119.83 718.77,119.77 720.76,119.47 722.75,119.12 724.74,119.26 726.73,118.79 728.71,118.60 730.70,118.22 732.75,118.22 734.79,118.39 736.84,117.82 738.89,118.01 740.93,118.04 742.98,117.70 745.03,117.71 747.07,117.32 749.12,117.68 751.17,117.52 753.21,117.23 755.26,116.71 757.31,116.73 759.35,117.02 761.40,117.04 763.35,116.50 765.31,116.44 767.26,115.81 769.22,115.64 771.17,115.43 773.13,115.26 775.08,114.61 777.04,114.85 778.99,114.67 780.95,113.92 782.90,113.63 784.85,113.74 786.79,113.31 788.74,112.74 790.68,113.15 792.63,112.79 794.57,112.44 796.52,112.73 798.46,112.11 800.41,111.70 802.35,111.65 804.30,111.19 806.25,111.28 808.21,111.55 810.16,111.40 812.12,111.46 814.07,111.92 816.03,111.79 817.98,111.82 819.94,111.80 821.89,111.82 823.85,112.05 825.80,111.80 827.75,112.12 829.69,111.50 831.64,111.59 833.58,111.31 835.53,111.46 837.47,111.58 839.42,111.71 841.36,111.23 843.31,111.31 845.25,111.18 847.20,111.05 849.15,110.98 851.11,111.25 853.06,110.91 855.02,111.29 856.97,111.30 858.93,111.18 860.88,111.13 862.84,111.07 864.79,111.74 866.75,111.11 868.70,111.71 870.84,111.38 872.98,111.05 875.12,110.75 877.26,111.05 879.40,111.05 881.39,110.61 883.37,110.84 885.36,111.21 887.34,111.17 889.33,111.60 891.31,111.19 893.30,111.51 895.50,111.75 897.10,122.52 898.70,132.05 900.85,131.21 903.00,131.07 905.00,132.47 907.20,133.12 909.40,132.90 911.60,133.20 913.57,133.39 915.55,133.66 917.52,133.41 919.49,133.70 921.47,133.67 923.44,133.58 925.41,133.73 927.39,133.79 929.36,133.68 931.33,134.18 933.31,133.73 935.28,134.31 937.25,134.34 939.23,134.21 941.20,134.15" fill="none" stroke="#4646b4" stroke-width="0.9"/>
<path d="M44.1 231.9H440" stroke="#fdaaaa" stroke-width="1.7" stroke-dasharray="15.1 7.8" stroke-dashoffset="8.9" fill="none"/>
<polyline points="26.50,269.34 27.99,269.46 29.48,269.47 30.97,269.30 32.46,269.42 33.95,268.97 35.44,269.12 36.93,268.61 38.42,269.13 39.91,268.92 41.40,268.72 42.90,269.06 44.39,268.89 45.88,267.95 47.37,268.61 48.86,268.18 50.35,268.75 51.84,269.05 53.33,268.24 54.82,268.33 56.31,268.19 57.80,268.29 59.40,268.22 61.00,268.24 62.60,267.52 64.20,268.02 65.80,267.25 67.40,267.41 69.00,267.49 70.48,267.19 71.96,266.59 73.44,266.47 74.91,266.34 76.39,266.26 77.87,266.37 79.35,265.58 80.83,265.83 82.31,265.68 83.79,265.48 85.26,265.27 86.74,265.35 88.22,264.91 89.70,264.81 91.21,264.44 92.72,264.45 94.23,263.23 95.74,263.72 97.25,263.03 98.76,262.73 100.27,262.26 101.78,261.73 103.29,261.80 104.81,261.43 106.32,261.42 107.83,260.63 109.34,261.06 110.85,260.47 112.36,260.04 113.87,259.62 115.38,259.30 116.89,258.92 118.40,258.76 119.98,258.85 121.57,258.76 123.15,258.40 124.73,258.63 126.32,258.43 127.90,258.64 129.38,258.70 130.86,258.03 132.34,257.43 133.81,256.74 135.29,256.42 136.77,255.99 138.25,256.23 139.73,255.49 141.21,255.34 142.69,254.80 144.16,254.62 145.64,254.58 147.12,253.69 148.60,253.41 150.20,253.63 151.80,254.39 153.40,254.24 154.91,253.93 156.43,253.57 157.94,253.28 159.46,253.46 160.97,253.69 162.49,252.51 164.00,252.70 165.51,252.24 167.03,251.61 168.54,251.53 170.06,251.25 171.57,250.84 173.09,251.21 174.60,249.96 176.11,250.24 177.63,249.94 179.14,249.42 180.66,249.31 182.17,249.20 183.69,248.73 185.20,248.50 186.72,248.36 188.24,247.46 189.76,248.13 191.28,248.11 192.80,247.57 194.31,247.37 195.83,246.55 197.35,246.66 198.87,246.27 200.39,246.11 201.91,246.28 203.43,245.63 204.95,245.58 206.47,244.92 207.99,245.15 209.50,244.99 211.02,244.58 212.54,244.36 214.06,244.80 215.58,243.81 217.10,243.64 218.61,243.52 220.13,243.84 221.64,243.88 223.16,243.26 224.67,242.82 226.19,242.71 227.70,242.90 229.21,242.22 230.73,242.63 232.24,242.44 233.76,241.93 235.27,241.89 236.79,241.74 238.30,241.76 239.81,240.92 241.33,241.30 242.84,240.73 244.36,240.45 245.87,240.49 247.39,240.23 248.90,239.85 250.42,239.58 251.94,239.63 253.46,240.11 254.98,240.11 256.50,239.67 258.01,239.68 259.53,239.14 261.05,239.13 262.57,239.10 264.09,238.64 265.61,238.54 267.13,238.70 268.65,238.47 270.17,238.17 271.69,238.41 273.20,238.13 274.72,238.33 276.24,237.96 277.76,237.76 279.28,237.75 280.80,237.56 282.31,237.32 283.81,237.27 285.32,237.44 286.83,237.29 288.33,237.34 289.84,236.48 291.35,236.69 292.85,236.56 294.36,236.59 295.87,236.32 297.37,236.19 298.88,236.40 300.39,236.13 301.89,235.68 303.40,236.18 304.91,235.98 306.41,235.47 307.92,235.71 309.43,235.20 310.93,235.55 312.44,235.10 313.95,234.83 315.45,234.82 316.96,234.61 318.47,234.73 319.97,234.61 321.48,234.46 322.99,234.19 324.49,233.30 326.00,234.12 327.52,233.58 329.04,234.08 330.55,234.26 332.07,234.00 333.59,233.80 335.11,233.81 336.62,233.78 338.14,233.63 339.66,233.58 341.18,233.46 342.69,233.94 344.21,233.60 345.73,233.80 347.25,233.46 348.76,233.50 350.28,233.40 351.80,233.52 353.32,233.63 354.84,233.50 356.36,233.29 357.88,233.28 359.40,233.91 360.91,233.44 362.43,233.46 363.95,233.92 365.47,233.84 366.99,233.72 368.51,233.51 370.03,234.22 371.55,233.75 373.07,233.80 374.59,233.64 376.10,233.35 377.62,233.39 379.14,233.84 380.66,233.86 382.18,233.72 383.70,233.51 385.18,233.53 386.66,233.89 388.14,233.69 389.61,234.37 391.09,234.52 392.57,235.02 394.05,234.62 395.53,234.34 397.01,234.35 398.49,233.79 399.96,234.59 401.44,234.78 402.92,235.16 404.40,235.15 405.99,234.92 407.57,234.60 409.16,234.48 410.74,234.45 412.33,233.59 413.91,233.51 415.50,233.05 417.02,233.75 418.54,233.61 420.06,233.42 421.58,232.87 423.10,233.16 424.61,233.00 426.13,233.02 427.65,232.90 429.17,233.02 430.69,232.73 432.21,232.99 433.73,232.77 435.25,232.58 436.77,232.57 438.29,232.43 439.80,232.69 441.32,232.36 442.84,232.45 444.36,232.22 445.88,231.89 447.40,232.43 448.91,231.93 450.43,232.35 451.94,232.28 453.46,231.75 454.97,231.92 456.49,232.01 458.00,231.93 459.51,231.83 461.03,232.30 462.54,232.04 464.06,232.19 465.57,231.98 467.09,232.15 468.60,231.88 470.11,232.05 471.63,232.19 473.14,232.05 474.66,231.91 476.17,231.75 477.69,232.05 479.20,232.09 480.71,231.93 482.23,231.79 483.74,232.11 485.26,232.58 486.77,231.88 488.29,232.03 489.80,232.03 491.31,231.28 492.83,231.95 494.34,231.73 495.86,232.24 497.37,231.82 498.89,231.68 500.40,231.81 501.91,231.90 503.43,231.71 504.94,231.82 506.46,231.49 507.97,231.76 509.49,232.00 511.00,232.29 512.48,231.97 513.97,231.85 515.45,232.08 516.93,232.03 518.42,232.18 519.90,232.03 521.39,231.72 522.87,231.81 524.35,231.78 525.84,231.81 527.32,231.77 528.80,231.52 530.29,231.18 531.77,231.53 533.26,231.19 534.74,231.71 536.22,231.68 537.71,231.26 539.19,231.84 540.67,231.88 542.16,231.68 543.64,232.06 545.13,232.11 546.61,231.33 548.09,231.88 549.58,231.73 551.06,231.72 552.54,231.84 554.03,231.42 555.51,231.44 557.00,231.38 558.48,231.39 559.96,231.55 561.45,231.20 562.93,231.29 564.41,231.69 565.90,231.52 567.38,231.63 568.87,231.06 570.35,231.32 571.83,231.38 573.32,231.52 574.80,231.35 576.31,231.71 577.81,231.45 579.32,231.44 580.83,231.42 582.33,231.58 583.84,231.26 585.35,231.64 586.85,231.46 588.36,231.36 589.87,231.31 591.37,231.41 592.88,231.51 594.39,231.48 595.89,231.31 597.40,231.42 598.91,231.21 600.41,231.47 601.92,231.13 603.43,230.60 604.93,231.43 606.44,231.11 607.95,230.77 609.45,230.99 610.96,230.80 612.47,231.53 613.97,231.10 615.48,230.57 616.99,231.08 618.49,230.82 620.00,231.38 621.49,230.66 622.97,230.39 624.46,230.99 625.95,230.92 627.43,230.93 628.92,230.52 630.41,231.19 631.90,231.53 633.38,230.66 634.87,231.45 636.36,231.04 637.84,231.80 639.33,231.35 640.82,231.22 642.30,231.57 643.79,231.45 645.28,231.20 646.77,231.55 648.25,231.27 649.74,230.97 651.23,231.96 652.71,231.39 654.20,231.35 655.68,231.58 657.16,231.11 658.64,231.16 660.12,231.38 661.60,231.37 663.08,231.52 664.56,231.78 666.04,231.38 667.52,231.62 669.00,231.65 670.48,231.23 671.96,231.56 673.44,231.26 674.92,231.77 676.40,231.61 677.88,231.50 679.36,231.17 680.84,231.53 682.32,231.31 683.80,231.68 685.28,231.47 686.76,231.30 688.24,231.73 689.72,231.68 691.20,231.35 692.68,231.79 694.16,231.43 695.64,231.42 697.12,231.53 698.60,231.31 700.09,231.28 701.58,231.25 703.08,231.57 704.57,231.45 706.06,230.91 707.55,231.27 709.05,230.75 710.54,230.75 712.03,230.77 713.52,230.52 715.02,230.95 716.51,230.30 718.00,229.83 719.49,230.35 720.98,229.82 722.48,229.74 723.97,228.96 725.46,229.86 726.95,229.71 728.45,229.60 729.94,229.54 731.43,229.61 732.92,229.07 734.42,229.21 735.91,228.69 737.40,228.68 738.89,228.93 740.38,228.65 741.88,228.12 743.37,228.44 744.86,228.20 746.35,227.93 747.85,228.14 749.34,227.82 750.83,227.43 752.32,227.44 753.82,228.05 755.31,227.13 756.80,227.46 758.29,227.41 759.79,227.28 761.28,226.67 762.77,226.76 764.27,226.73 765.76,226.76 767.26,226.25 768.75,225.98 770.24,226.39 771.74,226.27 773.23,225.95 774.73,225.56 776.22,225.67 777.71,225.46 779.21,225.50 780.70,224.84 782.19,225.04 783.69,224.83 785.18,224.45 786.67,224.64 788.17,224.46 789.66,224.20 791.16,224.26 792.65,223.67 794.14,223.87 795.64,223.85 797.13,223.67 798.62,223.73 800.12,223.02 801.61,222.80 803.11,223.10 804.60,223.01 806.12,223.43 807.64,223.05 809.16,222.68 810.68,223.10 812.20,222.69 813.72,222.53 815.24,223.55 816.76,222.98 818.27,223.08 819.79,223.04 821.31,223.35 822.83,222.97 824.35,223.20 825.87,222.64 827.39,222.55 828.91,223.26 830.43,223.27 831.95,223.03 833.47,222.96 834.99,222.94 836.51,222.73 838.03,223.28 839.55,223.06 841.07,223.03 842.59,222.99 844.11,223.16 845.62,223.03 847.14,223.09 848.66,222.61 850.18,223.03 851.70,223.45 853.22,222.77 854.74,222.87 856.26,223.12 857.78,223.14 859.30,223.06 860.79,222.51 862.27,223.05 863.76,222.64 865.25,222.75 866.73,223.10 868.22,222.90 869.71,223.19 871.20,223.79 872.68,223.21 874.17,223.21 875.66,222.82 877.14,222.90 878.63,222.80 880.12,222.95 881.60,222.82 883.09,222.94 884.58,223.07 886.07,222.88 887.55,222.79 889.04,222.82 890.53,223.29 892.01,223.20 893.50,223.46 895.20,224.26 896.70,229.35 898.20,235.03 899.70,239.94 901.18,241.07 902.65,241.00 904.12,240.85 905.60,240.81 907.08,241.40 908.55,241.03 910.02,241.51 911.50,242.09 912.98,242.12 914.45,242.18 915.92,242.74 917.40,242.44 918.89,242.81 920.38,242.66 921.86,242.62 923.35,242.99 924.84,242.67 926.33,243.44 927.81,242.86 929.30,243.55 930.79,242.82 932.27,243.29 933.76,242.88 935.25,242.89 936.74,243.31 938.23,243.48 939.71,243.04 941.20,243.70" fill="none" stroke="#f41010" stroke-width="1.0"/>
<path d="M38.5 311.9H666.2" stroke="#fdaaaa" stroke-width="1.7" stroke-dasharray="15.1 7.8" stroke-dashoffset="5.3" fill="none"/>
<polyline points="26.50,377.72 27.25,378.02 27.99,378.09 28.73,378.14 29.48,377.28 30.23,378.45 30.97,378.06 31.71,377.69 32.46,377.46 33.20,377.20 33.95,377.30 34.70,377.94 35.44,377.61 36.19,377.31 36.93,377.50 37.67,378.21 38.42,377.52 39.16,377.41 39.91,378.07 40.66,377.73 41.40,377.57 42.14,377.31 42.89,376.96 43.63,377.07 44.38,377.29 45.12,377.36 45.87,377.54 46.61,377.59 47.36,377.45 48.10,377.42 48.85,376.97 49.59,376.55 50.34,377.10 51.08,376.92 51.83,377.01 52.57,377.12 53.32,376.75 54.06,376.78 54.81,377.11 55.55,377.16 56.30,376.87 57.04,377.05 57.78,376.57 58.53,376.06 59.27,376.21 60.01,376.63 60.75,375.50 61.50,375.92 62.24,375.77 62.98,375.58 63.72,374.55 64.46,375.31 65.21,374.42 65.95,374.06 66.69,373.85 67.43,373.91 68.18,373.49 68.92,373.18 69.66,373.47 70.40,372.54 71.14,372.20 71.89,372.62 72.63,372.36 73.37,372.27 74.11,371.28 74.86,371.81 75.60,371.38 76.34,371.60 77.08,370.32 77.82,370.60 78.57,370.20 79.31,369.52 80.05,369.60 80.79,370.01 81.54,369.23 82.28,368.91 83.02,369.24 83.76,369.06 84.50,368.83 85.25,367.98 85.99,368.01 86.73,368.17 87.47,367.35 88.22,367.09 88.96,367.42 89.70,367.45 90.45,366.36 91.20,365.71 91.95,365.97 92.70,365.98 93.45,366.15 94.20,366.27 94.95,365.86 95.70,365.53 96.45,365.68 97.20,365.15 97.95,365.33 98.70,364.98 99.45,366.00 100.20,365.21 100.95,364.49 101.70,364.29 102.45,364.35 103.20,363.78 103.95,363.96 104.70,363.82 105.45,364.24 106.20,363.64 106.95,363.38 107.70,363.04 108.45,362.96 109.20,363.21 109.95,363.01 110.70,363.34 111.45,362.59 112.20,363.04 112.95,362.61 113.70,362.38 114.45,361.54 115.20,361.65 116.00,361.96 116.80,361.79 117.60,360.97 118.40,360.77 119.20,361.66 120.00,362.97 120.75,362.82 121.51,363.34 122.26,363.06 123.01,362.81 123.76,362.72 124.52,362.98 125.27,362.84 126.02,362.39 126.77,363.23 127.53,362.66 128.28,362.52 129.03,362.99 129.78,362.77 130.54,362.33 131.29,362.50 132.04,361.88 132.79,361.98 133.55,361.36 134.30,362.53 135.05,361.38 135.81,362.23 136.56,361.65 137.31,361.55 138.06,361.77 138.82,361.88 139.57,361.95 140.32,362.30 141.07,361.75 141.83,361.88 142.58,361.31 143.33,361.72 144.08,361.47 144.84,361.20 145.59,361.28 146.34,361.24 147.09,361.27 147.85,361.29 148.60,360.92 149.33,361.51 150.07,362.69 150.80,362.51 151.56,362.59 152.33,363.06 153.09,361.28 153.86,361.70 154.62,361.89 155.39,360.78 156.16,361.98 156.92,359.87 157.69,360.99 158.45,362.55 159.22,360.23 159.98,359.54 160.75,359.46 161.51,361.38 162.28,359.03 163.04,358.07 163.81,358.07 164.57,360.62 165.33,357.20 166.10,357.17 166.86,357.21 167.63,359.40 168.39,357.25 169.16,356.81 169.92,356.01 170.68,358.70 171.45,355.96 172.21,355.85 172.98,355.96 173.74,357.05 174.50,355.97 175.27,355.23 176.03,357.55 176.80,357.53 177.56,355.32 178.32,354.68 179.09,356.36 179.85,355.83 180.62,354.61 181.38,354.59 182.14,356.79 182.91,354.41 183.67,353.89 184.44,353.58 185.20,356.13 185.94,353.42 186.68,353.86 187.43,353.61 188.17,355.81 188.91,352.89 189.65,353.53 190.39,353.09 191.13,354.77 191.88,355.42 192.62,352.62 193.36,352.58 194.10,354.62 194.84,353.42 195.59,352.76 196.33,351.96 197.07,354.93 197.81,353.79 198.55,352.41 199.30,352.06 200.04,353.97 200.78,353.75 201.52,351.83 202.26,351.27 203.00,354.20 203.75,354.37 204.49,351.56 205.23,352.21 205.97,351.60 206.71,353.08 207.46,351.32 208.20,351.13 208.94,351.46 209.68,352.95 210.42,350.51 211.17,351.26 211.91,351.00 212.65,353.33 213.39,350.84 214.13,350.16 214.87,350.11 215.62,353.95 216.36,350.46 217.10,349.80 217.86,350.38 218.61,352.27 219.37,349.52 220.13,349.32 220.89,349.51 221.64,352.82 222.40,349.97 223.16,349.85 223.91,349.99 224.67,352.01 225.43,349.07 226.19,349.65 226.94,349.42 227.70,351.54 228.46,349.43 229.21,349.53 229.97,349.44 230.73,351.30 231.49,349.27 232.24,350.10 233.00,351.30 233.76,350.88 234.51,349.36 235.27,349.42 236.03,349.33 236.79,348.73 237.54,349.43 238.30,348.76 239.06,348.59 239.81,348.73 240.57,348.86 241.33,349.10 242.09,349.03 242.84,348.75 243.60,349.04 244.36,348.70 245.11,348.94 245.87,348.09 246.63,347.98 247.39,348.76 248.14,347.96 248.90,348.29 249.64,348.37 250.38,348.23 251.13,348.24 251.87,348.89 252.61,347.51 253.35,348.71 254.09,349.20 254.83,348.41 255.58,348.39 256.32,348.65 257.06,349.04 257.80,347.98 258.54,348.43 259.29,348.33 260.03,348.60 260.77,348.46 261.51,348.63 262.25,348.25 263.00,348.42 263.74,348.17 264.48,348.17 265.22,348.35 265.96,348.35 266.70,347.99 267.45,348.95 268.19,348.35 268.93,347.92 269.67,348.79 270.41,348.14 271.16,348.58 271.90,348.39 272.64,348.49 273.38,348.46 274.12,348.20 274.87,348.41 275.61,349.11 276.35,347.62 277.09,348.42 277.83,348.55 278.57,348.03 279.32,347.92 280.06,349.16 280.80,348.27 281.55,349.14 282.31,348.62 283.06,348.48 283.81,348.63 284.57,348.71 285.32,348.91 286.07,348.67 286.83,348.58 287.58,348.61 288.33,349.04 289.09,348.87 289.84,348.25 290.59,348.39 291.35,348.75 292.10,348.43 292.85,348.53 293.61,348.35 294.36,348.61 295.11,348.86 295.87,349.08 296.62,348.75 297.37,349.49 298.13,348.76 298.88,349.92 299.63,349.17 300.39,349.01 301.14,348.68 301.89,347.88 302.65,348.83 303.40,348.96 304.15,349.59 304.91,348.45 305.66,349.62 306.41,348.88 307.17,349.24 307.92,348.11 308.67,349.07 309.43,348.91 310.18,349.29 310.93,349.10 311.69,348.68 312.44,349.43 313.19,349.36 313.95,349.34 314.70,349.50 315.45,349.55 316.21,349.18 316.96,348.72 317.71,348.73 318.47,349.71 319.22,349.50 319.97,349.30 320.73,349.13 321.48,349.31 322.23,349.33 322.99,349.22 323.74,349.11 324.49,350.12 325.25,349.46 326.00,349.19 326.76,348.96 327.52,349.18 328.28,349.70 329.04,349.74 329.79,349.41 330.55,349.52 331.31,349.42 332.07,349.15 332.83,350.01 333.59,349.71 334.35,350.46 335.11,349.35 335.86,349.58 336.62,349.96 337.38,349.58 338.14,349.20 338.90,349.37 339.66,349.75 340.42,349.86 341.18,349.72 341.94,350.12 342.69,350.14 343.45,349.92 344.21,349.83 344.97,349.75 345.73,350.05 346.49,350.20 347.25,349.92 348.01,350.07 348.76,349.82 349.52,349.45 350.28,349.61 351.04,350.25 351.80,350.16 352.54,350.58 353.28,350.07 354.03,350.37 354.77,350.56 355.51,350.46 356.25,349.93 356.99,350.10 357.73,350.23 358.48,349.86 359.22,350.40 359.96,350.61 360.70,350.11 361.44,350.99 362.19,350.22 362.93,350.28 363.67,350.29 364.41,350.15 365.15,350.56 365.90,350.45 366.64,351.05 367.38,350.70 368.12,350.70 368.86,350.46 369.60,350.06 370.35,350.55 371.09,350.31 371.83,350.96 372.57,350.64 373.31,351.26 374.06,350.96 374.80,351.01 375.54,350.82 376.28,350.84 377.02,351.02 377.77,351.14 378.51,350.59 379.25,351.03 379.99,351.80 380.73,350.88 381.47,350.84 382.22,350.71 382.96,350.47 383.70,351.42 384.46,351.09 385.22,351.24 385.98,351.84 386.74,352.14 387.50,351.02 388.27,351.76 389.03,351.67 389.79,351.66 390.55,351.75 391.31,351.64 392.07,352.27 392.83,352.00 393.59,351.97 394.35,352.35 395.11,352.29 395.87,352.21 396.63,352.22 397.40,352.79 398.16,352.42 398.92,352.27 399.68,352.07 400.44,352.32 401.20,352.13 401.95,352.25 402.71,352.02 403.46,350.93 404.21,351.37 404.96,351.31 405.72,350.85 406.47,350.18 407.22,350.67 407.97,349.70 408.73,349.23 409.48,349.00 410.23,349.09 410.98,349.15 411.74,348.93 412.49,348.31 413.24,347.54 413.99,347.44 414.75,347.07 415.50,347.04 416.25,346.26 417.00,346.71 417.75,346.68 418.50,346.19 419.25,346.19 420.00,345.48 420.75,345.09 421.50,345.16 422.25,345.57 423.00,345.31 423.75,344.58 424.50,344.95 425.25,344.20 426.00,344.62 426.75,344.05 427.50,343.51 428.25,343.73 429.00,342.96 429.75,342.69 430.50,342.30 431.25,342.68 432.00,342.36 432.75,342.13 433.50,341.80 434.25,342.24 435.00,341.37 435.75,341.05 436.50,341.52 437.25,341.37 438.00,340.78 438.75,339.84 439.50,340.02 440.25,340.23 441.00,339.81 441.75,340.24 442.50,339.11 443.25,339.72 444.00,339.16 444.75,339.73 445.49,339.14 446.24,339.42 446.99,338.73 447.74,338.35 448.49,338.35 449.24,338.42 449.99,338.17 450.74,338.84 451.49,338.79 452.24,338.31 452.98,337.74 453.73,337.96 454.48,337.65 455.23,338.30 455.98,337.79 456.73,337.75 457.48,337.33 458.23,336.66 458.98,336.99 459.73,336.76 460.47,337.18 461.22,336.97 461.97,336.55 462.72,336.59 463.47,337.17 464.22,336.18 464.97,336.09 465.72,336.23 466.47,335.96 467.22,335.94 467.96,336.17 468.71,336.49 469.46,335.15 470.21,335.66 470.96,335.58 471.71,335.43 472.46,335.29 473.21,335.13 473.96,335.49 474.71,334.87 475.45,334.88 476.20,334.82 476.95,334.76 477.70,334.55 478.45,334.86 479.20,334.40 479.94,334.42 480.68,334.31 481.43,333.94 482.17,333.96 482.91,333.85 483.65,334.24 484.39,333.89 485.13,333.73 485.88,334.15 486.62,334.21 487.36,333.37 488.10,334.54 488.84,333.93 489.59,333.84 490.33,334.22 491.07,333.83 491.81,333.56 492.55,334.50 493.30,333.32 494.04,333.62 494.78,333.92 495.52,333.21 496.26,333.51 497.00,333.64 497.75,334.31 498.49,333.12 499.23,333.38 499.97,333.59 500.71,333.35 501.46,332.86 502.20,333.39 502.94,333.25 503.68,333.33 504.42,333.53 505.17,333.45 505.91,333.20 506.65,333.13 507.39,332.60 508.13,332.90 508.87,332.99 509.62,332.73 510.36,332.87 511.10,332.51 511.86,333.34 512.61,333.55 513.37,332.66 514.13,332.94 514.89,332.72 515.64,333.24 516.40,332.95 517.16,332.83 517.91,332.72 518.67,332.84 519.43,332.45 520.19,333.04 520.94,332.55 521.70,332.99 522.46,332.85 523.21,333.18 523.97,332.79 524.73,333.16 525.49,332.48 526.24,333.01 527.00,332.72 527.76,332.67 528.51,332.43 529.27,332.54 530.03,331.31 530.79,331.94 531.54,331.11 532.30,331.86 533.06,330.55 533.81,330.69 534.57,330.26 535.33,331.23 536.09,330.01 536.84,330.30 537.60,329.88 538.36,329.24 539.11,329.56 539.87,329.71 540.63,329.22 541.39,329.42 542.14,328.77 542.90,328.70 543.64,328.38 544.39,328.45 545.13,328.81 545.87,328.09 546.62,327.85 547.36,327.38 548.10,327.15 548.85,327.75 549.59,326.66 550.33,326.55 551.08,326.65 551.82,326.35 552.56,327.00 553.31,325.31 554.05,326.08 554.79,326.02 555.54,325.19 556.28,325.17 557.02,325.37 557.77,325.60 558.51,324.53 559.25,324.11 560.00,324.82 560.74,324.83 561.48,324.00 562.23,323.16 562.97,324.26 563.71,323.50 564.46,323.78 565.20,323.18 565.94,323.25 566.68,323.40 567.42,324.25 568.15,324.41 568.89,323.34 569.63,323.93 570.37,325.06 571.11,324.49 571.85,324.32 572.58,324.97 573.32,325.11 574.06,325.29 574.80,325.33 575.55,325.30 576.30,325.15 577.05,325.33 577.80,324.84 578.55,324.93 579.30,324.88 580.05,325.30 580.80,324.88 581.55,324.61 582.30,324.75 583.05,324.61 583.80,324.75 584.55,324.45 585.30,324.81 586.05,324.56 586.80,323.98 587.55,323.75 588.30,324.11 589.05,323.89 589.80,323.58 590.55,323.01 591.30,322.79 592.05,323.46 592.80,323.51 593.55,323.43 594.30,322.60 595.05,323.32 595.80,322.68 596.55,322.91 597.30,322.82 598.05,322.30 598.80,322.28 599.55,321.67 600.30,321.98 601.06,321.69 601.82,322.50 602.57,322.39 603.33,322.71 604.09,322.54 604.85,322.22 605.60,322.58 606.36,322.35 607.12,322.72 607.88,322.64 608.63,322.21 609.39,322.58 610.15,322.62 610.91,322.52 611.67,322.96 612.42,323.27 613.18,322.56 613.94,322.59 614.70,321.95 615.45,322.72 616.21,322.63 616.97,322.05 617.73,322.93 618.48,323.06 619.24,322.62 620.00,322.77 620.74,322.58 621.47,323.21 622.21,322.43 622.94,322.88 623.68,323.69 624.41,323.05 625.15,323.21 625.89,323.02 626.62,322.68 627.36,323.10 628.09,323.28 628.83,322.80 629.56,323.30 630.30,323.64 631.04,323.34 631.79,322.18 632.53,322.15 633.27,321.70 634.02,322.40 634.76,322.00 635.50,321.80 636.25,321.01 636.99,320.68 637.73,320.88 638.48,320.65 639.22,320.08 639.97,320.20 640.71,320.14 641.45,319.76 642.20,319.08 642.94,318.47 643.68,318.88 644.43,318.80 645.17,318.41 645.91,318.12 646.66,317.79 647.40,318.05 648.16,317.65 648.91,317.58 649.67,317.06 650.42,317.05 651.18,317.19 651.93,316.65 652.69,316.43 653.44,316.62 654.20,317.02 654.96,316.53 655.71,316.84 656.47,316.15 657.22,315.96 657.98,315.45 658.73,315.60 659.49,316.17 660.24,315.65 661.00,315.66 661.76,315.49 662.52,315.09 663.28,314.87 664.04,314.83 664.80,314.88 665.56,314.65 666.31,314.51 667.07,314.24 667.83,313.76 668.59,313.79 669.35,313.40 670.11,313.93 670.87,312.69 671.63,313.20 672.39,313.96 673.15,312.85 673.91,312.42 674.67,312.66 675.43,312.97 676.19,312.31 676.94,312.43 677.70,312.09 678.46,311.78 679.22,312.86 679.98,311.63 680.74,311.26 681.50,311.13 682.25,311.49 683.00,311.55 683.75,311.73 684.50,311.56 685.25,311.06 686.00,311.80 686.75,311.56 687.50,311.62 688.25,311.26 689.00,311.63 689.75,311.63 690.50,311.92 691.25,311.48 692.00,312.06 692.75,312.14 693.50,311.76 694.25,311.98 695.00,311.96 695.75,312.63 696.50,311.48 697.25,312.30 698.00,311.89 698.75,312.37 699.50,312.87 700.25,312.41 701.00,312.73 701.75,312.44 702.50,313.47 703.25,313.16 704.00,313.29 704.75,312.48 705.50,312.61 706.25,313.40 706.99,312.98 707.74,312.98 708.49,313.20 709.23,312.67 709.98,313.40 710.73,313.16 711.48,313.34 712.22,312.96 712.97,313.40 713.72,312.99 714.46,313.60 715.21,313.68 715.96,313.63 716.70,313.51 717.45,313.57 718.20,312.42 718.94,313.69 719.69,313.32 720.44,313.47 721.18,313.36 721.93,312.99 722.68,313.31 723.42,313.76 724.17,314.04 724.92,313.35 725.67,313.27 726.41,314.12 727.16,313.33 727.91,314.38 728.65,313.70 729.40,313.39 730.14,314.11 730.88,314.42 731.62,313.39 732.36,314.51 733.10,313.93 733.84,314.61 734.58,314.02 735.32,313.67 736.06,314.46 736.81,314.67 737.55,315.15 738.29,315.08 739.03,314.79 739.77,314.52 740.51,314.49 741.25,314.63 741.99,314.51 742.73,314.77 743.47,314.04 744.21,315.06 744.95,315.05 745.69,316.03 746.43,315.46 747.17,315.09 747.91,315.52 748.65,314.96 749.39,315.24 750.14,314.86 750.88,316.08 751.62,315.85 752.36,315.30 753.10,315.75 753.84,316.17 754.58,316.08 755.32,316.10 756.06,315.73 756.80,315.88 757.54,316.32 758.28,316.80 759.02,316.38 759.76,316.47 760.50,317.46 761.23,316.92 761.97,317.82 762.71,317.72 763.45,318.13 764.19,318.62 764.93,318.45 765.67,318.67 766.41,318.27 767.15,318.53 767.89,319.19 768.63,319.70 769.37,319.84 770.10,320.35 770.84,319.84 771.58,320.00 772.32,320.47 773.06,320.32 773.80,320.48 774.55,320.40 775.30,321.39 776.04,320.93 776.79,321.76 777.54,321.35 778.29,322.50 779.03,322.03 779.78,322.95 780.53,322.37 781.28,323.04 782.03,323.88 782.77,323.45 783.52,324.03 784.27,324.11 785.02,323.74 785.77,324.92 786.51,325.23 787.26,324.96 788.01,325.82 788.76,325.61 789.50,325.81 790.25,326.43 791.00,326.46 791.76,327.74 792.52,326.63 793.27,327.67 794.03,327.99 794.79,327.19 795.55,327.51 796.31,328.55 797.07,328.42 797.83,328.96 798.58,329.46 799.34,329.17 800.10,329.16 800.86,328.81 801.62,330.08 802.38,329.92 803.13,330.59 803.89,330.79 804.65,330.47 805.41,331.79 806.17,331.80 806.92,331.96 807.68,331.48 808.44,331.99 809.20,332.18 809.96,332.46 810.72,332.45 811.47,333.23 812.23,333.39 812.99,333.68 813.75,333.61 814.51,334.47 815.27,334.32 816.02,333.53 816.78,334.50 817.54,334.94 818.30,335.54 819.05,335.35 819.79,335.62 820.54,335.74 821.29,336.46 822.03,336.32 822.78,336.53 823.53,336.73 824.27,337.44 825.02,337.32 825.77,337.18 826.52,338.24 827.26,338.03 828.01,338.66 828.76,338.92 829.50,339.47 830.25,339.67 831.00,339.35 831.74,339.75 832.49,339.62 833.24,340.91 833.98,340.74 834.73,341.33 835.48,340.98 836.23,340.63 836.97,342.14 837.72,341.90 838.47,342.17 839.21,342.39 839.96,342.86 840.71,343.07 841.45,342.59 842.20,343.78 842.94,343.33 843.69,343.48 844.43,344.36 845.17,344.20 845.92,343.88 846.66,343.47 847.40,344.29 848.15,344.55 848.89,344.45 849.63,344.16 850.38,344.44 851.12,344.40 851.87,345.03 852.61,345.36 853.35,345.55 854.10,345.06 854.84,345.51 855.58,345.75 856.33,345.49 857.07,345.74 857.81,346.65 858.56,346.10 859.30,346.46 860.04,346.12 860.79,346.40 861.53,345.91 862.27,346.62 863.02,347.17 863.76,347.60 864.50,347.41 865.25,347.35 865.99,347.24 866.73,347.14 867.48,347.41 868.22,347.80 868.97,347.43 869.71,348.15 870.45,347.60 871.20,347.44 871.94,347.83 872.68,347.72 873.43,347.94 874.17,348.94 874.91,348.59 875.66,348.86 876.40,349.31 877.14,349.56 877.89,349.17 878.63,350.03 879.37,349.92 880.12,350.01 880.86,350.39 881.60,349.95 882.35,350.40 883.09,350.86 883.83,351.33 884.58,351.21 885.32,351.52 886.07,352.12 886.81,352.50 887.55,352.49 888.30,352.89 889.04,352.53 889.78,352.78 890.53,353.22 891.27,353.23 892.01,353.38 892.76,354.36 893.50,353.93 894.25,353.81 894.99,354.47 895.74,355.09 896.49,354.63 897.23,355.18 897.98,354.75 898.73,354.88 899.48,354.96 900.22,355.30 900.97,356.14 901.72,355.25 902.46,356.37 903.21,355.60 903.96,356.02 904.70,356.54 905.45,356.62 906.20,356.65 906.94,356.12 907.69,356.98 908.44,356.64 909.18,358.05 909.93,357.23 910.68,357.52 911.42,357.20 912.17,357.58 912.92,357.45 913.67,358.39 914.41,358.11 915.16,358.55 915.91,358.26 916.65,358.47 917.40,359.25 918.10,359.00 918.80,359.25 919.50,360.56 920.20,360.56 920.90,361.35 921.65,361.80 922.40,361.17 923.16,361.74 923.91,361.17 924.66,361.91 925.41,361.83 926.16,361.18 926.91,361.25 927.67,361.01 928.42,361.35 929.17,361.66 929.92,360.73 930.67,361.53 931.43,360.73 932.18,360.87 932.93,360.52 933.68,361.86 934.43,361.12 935.19,361.16 935.94,360.82 936.69,361.41 937.44,360.27 938.19,361.00 938.94,361.74 939.70,360.81 940.45,360.93 941.20,361.14" fill="none" stroke="#f41010" stroke-width="0.95"/>
<path d="M58 422.4H691.5" stroke="#555" stroke-width="1" stroke-dasharray="15.3 7.6" fill="none"/>
<polyline points="26.50,459.87 27.23,459.66 27.97,459.64 28.70,460.77 29.43,459.61 30.17,459.87 30.90,460.12 31.63,459.60 32.37,460.17 33.10,460.89 33.83,460.60 34.57,460.53 35.30,460.57 36.03,460.43 36.77,460.82 37.50,460.42 38.23,460.37 38.97,460.63 39.70,461.01 40.43,460.83 41.17,461.02 41.90,459.99 42.63,461.10 43.35,461.37 44.08,460.79 44.81,459.95 45.54,459.55 46.26,459.82 46.99,459.13 47.72,459.64 48.45,458.95 49.17,459.37 49.90,459.34 50.70,457.85 51.50,458.65 52.30,458.12 53.10,457.70 53.90,457.89 54.70,457.91 55.42,458.71 56.14,457.99 56.85,459.32 57.57,460.01 58.29,459.74 59.01,460.02 59.73,460.09 60.45,459.93 61.16,460.91 61.88,461.15 62.60,461.59 63.40,461.60 64.20,460.14 65.00,459.30 65.80,459.02 66.60,457.21 67.40,456.64 68.20,456.30 69.00,455.54 69.80,455.43 70.60,454.37 71.32,454.76 72.04,454.24 72.75,453.50 73.47,452.60 74.19,452.56 74.91,452.21 75.63,451.02 76.35,451.15 77.06,450.86 77.78,450.22 78.50,450.33 79.25,449.71 79.99,448.41 80.74,448.31 81.49,447.45 82.23,447.53 82.98,446.47 83.73,446.71 84.47,446.02 85.22,445.77 85.97,444.84 86.71,443.84 87.46,444.65 88.21,443.39 88.95,443.53 89.70,442.67 90.44,442.56 91.18,442.81 91.92,442.00 92.66,442.21 93.40,440.84 94.14,441.57 94.88,440.91 95.62,440.74 96.36,440.58 97.10,440.51 97.84,440.82 98.58,439.20 99.32,439.74 100.06,439.23 100.80,439.77 101.52,438.89 102.24,439.00 102.96,438.42 103.68,438.61 104.40,438.51 105.12,437.70 105.84,437.64 106.56,436.81 107.28,437.26 108.00,437.24 108.80,437.25 109.60,438.49 110.40,437.78 111.20,438.45 112.00,439.20 112.80,440.13 113.60,440.91 114.40,440.55 115.20,440.23 116.00,440.23 116.80,439.43 117.60,438.79 118.38,439.74 119.17,442.01 119.95,441.16 120.73,442.96 121.52,444.55 122.30,445.09 123.02,444.41 123.74,444.58 124.46,444.77 125.18,444.74 125.90,443.74 126.62,444.24 127.34,443.88 128.06,444.06 128.78,444.02 129.50,443.16 130.23,442.55 130.95,443.11 131.68,443.49 132.41,442.88 133.14,442.53 133.86,443.22 134.59,441.67 135.32,442.28 136.05,441.52 136.77,441.59 137.50,441.44 138.22,442.28 138.94,441.57 139.65,442.00 140.37,441.85 141.09,442.96 141.81,442.85 142.53,443.48 143.25,443.15 143.96,443.71 144.68,444.54 145.40,444.33 146.20,444.91 147.00,445.13 147.80,445.04 148.60,444.82 149.40,446.09 150.11,446.03 150.82,446.63 151.53,445.69 152.24,446.10 152.96,446.18 153.67,446.95 154.38,447.98 155.09,448.06 155.80,448.09 156.59,447.80 157.38,447.69 158.17,448.57 158.96,446.84 159.74,446.38 160.53,445.09 161.32,447.51 162.11,445.80 162.90,444.74 163.61,444.58 164.32,445.70 165.03,443.91 165.74,444.28 166.46,443.46 167.17,444.37 167.88,443.27 168.59,442.54 169.30,441.71 170.06,443.70 170.81,445.07 171.57,442.63 172.33,441.52 173.09,443.89 173.84,444.23 174.60,441.82 175.36,442.37 176.11,442.88 176.87,442.97 177.63,441.35 178.39,441.43 179.14,443.60 179.90,441.23 180.66,441.25 181.41,441.28 182.17,444.28 182.93,441.42 183.69,441.85 184.44,441.17 185.20,442.68 185.96,441.08 186.72,441.18 187.49,440.67 188.25,442.52 189.01,441.53 189.77,440.45 190.53,440.58 191.30,442.48 192.06,440.07 192.82,439.87 193.58,439.65 194.34,441.58 195.10,440.05 195.87,439.67 196.63,439.62 197.39,442.28 198.15,439.72 198.91,438.69 199.68,439.13 200.44,441.23 201.20,439.18 201.96,438.80 202.71,438.63 203.47,440.25 204.23,438.18 204.99,438.88 205.74,438.65 206.50,441.10 207.26,438.48 208.01,438.71 208.77,438.50 209.53,440.88 210.29,439.17 211.04,438.70 211.80,439.06 212.56,439.92 213.31,438.92 214.07,438.21 214.83,438.69 215.59,441.01 216.34,439.12 217.10,438.96 217.86,438.82 218.61,440.75 219.37,438.98 220.13,439.13 220.89,439.23 221.64,440.28 222.40,438.82 223.16,439.07 223.91,438.78 224.67,441.54 225.43,439.40 226.19,439.31 226.94,438.82 227.70,438.47 228.46,438.97 229.21,438.95 229.97,439.44 230.73,438.86 231.49,438.93 232.24,439.32 233.00,438.84 233.76,438.97 234.51,439.73 235.27,439.65 236.03,439.31 236.79,439.17 237.54,438.69 238.30,439.30 239.06,439.11 239.81,439.18 240.57,438.90 241.33,439.10 242.09,439.04 242.84,439.25 243.60,439.70 244.36,439.28 245.11,438.48 245.87,438.77 246.63,438.53 247.39,438.85 248.14,439.40 248.90,439.34 249.64,438.96 250.38,439.32 251.13,438.92 251.87,438.67 252.61,438.69 253.35,438.92 254.09,439.85 254.83,438.76 255.58,439.80 256.32,439.85 257.06,439.26 257.80,439.33 258.54,439.12 259.29,439.37 260.03,439.65 260.77,439.41 261.51,439.82 262.25,439.90 263.00,439.58 263.74,439.59 264.48,439.45 265.22,439.62 265.96,439.06 266.70,439.68 267.45,439.61 268.19,439.20 268.93,440.42 269.67,439.18 270.41,439.24 271.16,439.71 271.90,438.84 272.64,439.31 273.38,439.03 274.12,439.27 274.87,439.61 275.61,439.81 276.35,440.14 277.09,440.03 277.83,440.20 278.57,439.97 279.32,439.56 280.06,440.21 280.80,439.58 281.55,439.55 282.31,440.43 283.06,440.15 283.82,439.94 284.57,440.17 285.32,440.24 286.08,439.37 286.83,439.89 287.58,439.48 288.34,440.02 289.09,439.72 289.85,440.55 290.60,440.24 291.35,439.72 292.11,440.06 292.86,439.60 293.62,440.12 294.37,440.34 295.12,440.25 295.88,439.39 296.63,440.05 297.38,440.40 298.14,440.34 298.89,440.70 299.65,439.74 300.40,440.49 301.15,440.04 301.91,440.39 302.66,440.50 303.42,440.63 304.17,440.14 304.92,440.47 305.68,439.94 306.43,439.87 307.18,440.67 307.94,440.45 308.69,439.84 309.45,440.17 310.20,440.53 310.95,441.17 311.71,440.98 312.46,440.90 313.22,439.89 313.97,440.58 314.72,440.83 315.48,440.82 316.23,440.85 316.98,440.61 317.74,441.42 318.49,441.33 319.25,440.72 320.00,440.38 320.76,441.65 321.51,440.66 322.27,441.41 323.03,441.75 323.79,440.66 324.54,441.21 325.30,441.00 326.06,441.40 326.81,441.38 327.57,442.08 328.33,441.59 329.09,441.40 329.84,441.91 330.60,441.40 331.36,441.42 332.11,442.51 332.87,441.34 333.63,441.52 334.39,441.79 335.14,441.40 335.90,441.03 336.66,442.35 337.41,441.67 338.17,441.82 338.93,441.94 339.69,441.75 340.44,441.76 341.20,442.31 341.96,443.25 342.71,442.64 343.47,442.70 344.23,441.85 344.99,442.50 345.74,442.08 346.50,442.92 347.26,442.57 348.01,442.73 348.77,442.73 349.53,442.59 350.29,442.26 351.04,443.16 351.80,442.42 352.54,442.54 353.28,442.93 354.03,442.81 354.77,443.23 355.51,443.57 356.25,443.30 356.99,443.32 357.73,443.28 358.48,443.65 359.22,442.61 359.96,443.53 360.70,443.05 361.44,442.97 362.19,443.50 362.93,443.38 363.67,443.81 364.41,444.05 365.15,442.72 365.90,443.65 366.64,444.50 367.38,444.10 368.12,444.37 368.86,443.87 369.60,443.30 370.35,443.46 371.09,444.23 371.83,444.36 372.57,443.73 373.31,443.95 374.06,444.20 374.80,443.43 375.54,444.03 376.28,444.85 377.02,445.12 377.77,444.24 378.51,445.05 379.25,444.14 379.99,444.07 380.73,443.53 381.47,444.85 382.22,444.35 382.96,445.48 383.70,444.71 384.46,444.72 385.23,443.98 385.99,445.37 386.76,444.69 387.52,444.83 388.28,444.08 389.05,445.40 389.81,445.48 390.58,444.91 391.34,445.25 392.10,445.44 392.87,445.73 393.63,445.45 394.40,446.16 395.16,445.44 395.92,445.36 396.69,445.48 397.45,444.71 398.22,445.47 398.98,446.26 399.74,446.03 400.51,445.66 401.27,446.19 402.04,445.31 402.80,446.06 403.55,446.16 404.29,446.01 405.04,445.20 405.79,445.65 406.54,445.81 407.28,444.67 408.03,444.91 408.78,443.77 409.52,443.38 410.27,444.19 411.02,443.74 411.76,443.58 412.51,443.04 413.26,442.93 414.01,443.15 414.75,443.29 415.50,442.29 416.26,441.44 417.02,442.34 417.79,441.79 418.55,441.55 419.31,441.07 420.07,441.65 420.83,440.48 421.60,440.38 422.36,439.15 423.12,439.39 423.88,439.07 424.64,439.05 425.40,438.93 426.17,438.21 426.93,438.93 427.69,437.53 428.45,437.50 429.21,437.50 429.98,436.63 430.74,437.08 431.50,436.83 432.26,436.31 433.01,437.04 433.77,436.16 434.53,436.08 435.29,435.43 436.04,435.00 436.80,435.26 437.56,435.23 438.31,435.03 439.07,435.36 439.83,433.95 440.59,434.30 441.34,433.87 442.10,434.98 442.86,434.07 443.61,433.94 444.37,433.55 445.13,434.20 445.89,433.52 446.64,433.62 447.40,432.57 448.16,433.77 448.91,433.39 449.67,433.38 450.43,433.58 451.19,432.93 451.94,432.87 452.70,433.15 453.46,432.96 454.21,432.62 454.97,432.66 455.73,432.37 456.49,432.78 457.24,432.79 458.00,432.35 458.76,433.03 459.51,431.58 460.27,432.03 461.03,432.74 461.79,431.81 462.54,431.26 463.30,432.39 464.06,431.98 464.81,431.20 465.57,431.92 466.33,431.13 467.09,430.92 467.84,431.33 468.60,431.12 469.36,430.80 470.11,431.02 470.87,430.69 471.63,431.04 472.39,430.94 473.14,431.17 473.90,430.62 474.66,430.19 475.41,430.12 476.17,430.48 476.93,431.12 477.69,430.77 478.44,430.10 479.20,430.66 479.94,429.80 480.68,430.65 481.43,430.08 482.17,430.52 482.91,430.45 483.65,430.07 484.39,430.30 485.13,429.72 485.88,430.11 486.62,430.55 487.36,431.75 488.10,430.37 488.84,430.10 489.59,429.65 490.33,430.46 491.07,429.36 491.81,429.68 492.55,430.13 493.30,429.49 494.04,430.57 494.78,430.38 495.52,429.70 496.26,429.68 497.00,429.36 497.75,429.31 498.49,430.04 499.23,430.09 499.97,429.97 500.71,429.92 501.46,429.57 502.20,429.92 502.94,429.17 503.68,429.75 504.42,430.32 505.17,430.24 505.91,429.51 506.65,429.55 507.39,430.22 508.13,430.36 508.87,429.03 509.62,429.44 510.36,429.69 511.10,430.07 511.86,429.21 512.61,429.76 513.37,429.35 514.13,430.38 514.89,429.56 515.64,429.30 516.40,429.18 517.16,429.70 517.91,429.51 518.67,428.77 519.43,429.25 520.19,428.59 520.94,428.78 521.70,428.53 522.46,428.48 523.21,428.70 523.97,428.54 524.73,429.11 525.49,429.18 526.24,428.72 527.00,428.33 527.76,429.07 528.51,427.89 529.27,427.89 530.03,428.92 530.79,428.86 531.54,428.94 532.30,428.43 533.06,427.97 533.81,428.23 534.57,428.63 535.33,428.06 536.09,428.04 536.84,427.73 537.60,427.78 538.36,428.55 539.11,428.36 539.87,427.67 540.63,427.66 541.39,427.83 542.14,428.24 542.90,427.51 543.65,427.77 544.40,426.84 545.15,427.05 545.90,427.59 546.65,427.64 547.40,426.67 548.15,426.68 548.90,427.17 549.65,426.55 550.40,426.35 551.15,426.64 551.90,426.37 552.65,426.59 553.40,426.32 554.15,425.63 554.90,425.68 555.65,425.56 556.40,424.90 557.15,424.91 557.90,425.55 558.65,424.38 559.40,425.28 560.15,424.85 560.90,424.54 561.65,424.67 562.40,424.50 563.15,424.66 563.90,423.87 564.65,423.80 565.40,423.65 566.15,424.36 566.90,423.85 567.65,422.95 568.40,423.05 569.11,423.04 569.82,423.48 570.53,423.70 571.24,424.68 571.96,423.17 572.67,424.46 573.38,424.37 574.09,424.06 574.80,424.42 575.59,424.52 576.38,424.98 577.16,425.60 577.95,424.82 578.74,426.20 579.52,425.76 580.31,426.75 581.10,426.55 581.84,426.78 582.58,426.42 583.32,426.53 584.05,426.02 584.79,425.57 585.53,426.08 586.27,426.00 587.01,426.46 587.75,424.72 588.48,425.35 589.22,425.75 589.96,424.73 590.70,425.04 591.44,425.89 592.18,425.51 592.92,424.50 593.65,425.32 594.39,425.13 595.13,424.87 595.87,424.62 596.61,424.46 597.35,423.92 598.08,423.97 598.82,424.37 599.56,424.04 600.30,424.63 601.03,423.88 601.76,423.17 602.49,424.12 603.22,424.49 603.95,424.66 604.68,424.65 605.42,424.42 606.15,425.47 606.88,424.73 607.61,425.40 608.34,425.13 609.07,424.89 609.80,426.06 610.53,424.42 611.26,425.02 611.99,425.47 612.71,425.09 613.44,425.47 614.17,425.06 614.90,424.86 615.63,425.84 616.36,424.82 617.09,424.78 617.81,424.35 618.54,424.42 619.27,424.92 620.00,424.82 620.74,424.61 621.49,424.35 622.23,424.92 622.97,423.98 623.72,424.54 624.46,424.60 625.20,424.38 625.95,424.79 626.69,424.48 627.43,424.45 628.18,425.51 628.92,425.10 629.67,425.30 630.41,424.86 631.15,425.24 631.90,425.19 632.64,425.38 633.38,425.86 634.13,424.83 634.87,425.05 635.61,424.94 636.36,423.57 637.10,424.44 637.86,424.85 638.62,424.94 639.38,424.30 640.14,424.83 640.91,424.73 641.67,423.90 642.43,424.48 643.19,424.45 643.95,423.78 644.71,423.05 645.47,423.87 646.23,423.07 646.99,422.83 647.76,422.87 648.52,422.45 649.28,422.94 650.04,422.67 650.80,422.69 651.56,422.47 652.31,421.96 653.07,422.25 653.82,422.71 654.58,422.23 655.33,423.60 656.09,422.38 656.84,422.28 657.60,423.01 658.36,422.89 659.11,422.62 659.87,422.57 660.62,422.88 661.38,423.08 662.13,423.09 662.89,422.70 663.64,423.03 664.40,423.24 665.14,423.06 665.89,421.37 666.63,422.10 667.37,422.00 668.12,422.07 668.86,422.08 669.60,422.23 670.35,421.96 671.09,421.52 671.83,421.43 672.58,421.98 673.32,420.88 674.07,421.10 674.81,421.46 675.55,420.82 676.30,419.72 677.04,420.54 677.78,420.08 678.53,420.05 679.27,420.36 680.01,419.98 680.76,419.54 681.50,419.86 682.24,419.69 682.99,419.57 683.73,419.66 684.47,419.65 685.22,419.43 685.96,419.39 686.70,419.60 687.45,419.22 688.19,419.11 688.93,420.15 689.68,419.55 690.42,419.65 691.17,419.62 691.91,419.69 692.65,419.70 693.40,419.73 694.14,419.40 694.88,420.11 695.63,419.47 696.37,420.17 697.11,419.01 697.86,419.36 698.60,420.20 699.35,419.83 700.10,419.71 700.85,420.21 701.60,419.73 702.35,420.27 703.10,419.44 703.85,420.23 704.60,420.24 705.35,420.80 706.10,421.03 706.85,420.42 707.60,421.49 708.35,420.70 709.10,420.20 709.85,420.16 710.60,421.82 711.35,421.25 712.10,421.12 712.85,421.16 713.60,421.11 714.35,422.18 715.10,421.69 715.85,422.53 716.60,421.82 717.35,421.05 718.10,422.41 718.85,422.02 719.60,422.16 720.35,422.96 721.10,422.32 721.85,422.98 722.60,422.60 723.34,422.33 724.09,422.86 724.83,422.44 725.57,423.20 726.32,423.13 727.06,422.79 727.80,423.04 728.55,423.05 729.29,422.74 730.03,423.24 730.78,422.82 731.52,423.19 732.27,422.59 733.01,423.04 733.75,423.19 734.50,422.74 735.24,422.91 735.98,422.90 736.73,423.43 737.47,422.88 738.21,423.37 738.96,423.83 739.70,423.39 740.44,422.64 741.19,423.36 741.93,423.75 742.67,423.25 743.42,423.84 744.16,423.67 744.90,423.62 745.65,423.37 746.39,423.30 747.13,423.43 747.88,423.59 748.62,423.80 749.37,423.79 750.11,423.53 750.85,423.70 751.60,423.86 752.34,423.08 753.08,423.46 753.83,423.47 754.57,423.74 755.31,423.74 756.06,423.77 756.80,423.56 757.54,424.40 758.28,424.47 759.02,423.93 759.76,424.82 760.50,424.59 761.23,425.94 761.97,425.31 762.71,425.56 763.45,425.97 764.19,426.09 764.93,426.37 765.67,427.24 766.41,426.94 767.15,427.41 767.89,427.75 768.63,427.13 769.37,428.43 770.10,428.25 770.84,428.59 771.58,428.08 772.32,428.98 773.06,429.05 773.80,428.89 774.57,430.59 775.33,430.47 776.10,430.71 776.87,431.45 777.63,432.30 778.40,432.96 779.17,433.31 779.93,434.13 780.70,434.80 781.46,433.90 782.22,434.39 782.98,434.40 783.73,435.00 784.49,435.73 785.25,435.60 786.01,435.11 786.77,435.60 787.53,436.32 788.28,435.88 789.04,436.25 789.80,436.60 790.56,435.93 791.32,437.16 792.08,437.18 792.83,437.46 793.59,437.03 794.35,437.30 795.11,437.56 795.87,438.09 796.62,438.20 797.38,438.41 798.14,439.27 798.90,439.26 799.66,438.64 800.42,438.86 801.17,439.99 801.93,439.37 802.69,440.24 803.45,440.51 804.21,439.85 804.97,440.14 805.73,440.47 806.48,440.28 807.24,440.43 808.00,440.85 808.74,441.54 809.48,441.20 810.22,441.48 810.96,441.57 811.70,441.39 812.44,442.72 813.18,441.38 813.92,442.24 814.66,442.91 815.41,442.31 816.15,443.30 816.89,443.75 817.63,443.09 818.37,443.70 819.11,443.36 819.85,444.19 820.59,444.21 821.33,444.45 822.07,445.10 822.81,444.93 823.55,445.46 824.29,445.36 825.03,444.82 825.77,445.59 826.51,445.87 827.25,445.28 827.99,446.58 828.74,446.26 829.48,446.56 830.22,446.24 830.96,446.82 831.70,447.10 832.44,447.03 833.18,447.38 833.92,446.69 834.66,448.27 835.40,447.46 836.14,447.17 836.89,447.79 837.63,447.97 838.37,448.66 839.12,448.21 839.86,448.82 840.60,448.45 841.35,449.85 842.09,449.32 842.83,450.02 843.58,448.96 844.32,449.76 845.07,449.25 845.81,450.00 846.55,450.17 847.30,449.39 848.04,449.71 848.78,449.83 849.53,449.82 850.27,450.27 851.01,450.31 851.76,450.25 852.50,451.00 853.24,451.31 853.99,450.70 854.73,451.13 855.47,451.49 856.22,451.53 856.96,451.47 857.70,452.21 858.45,452.35 859.19,452.42 859.93,452.20 860.68,453.21 861.42,453.24 862.17,452.52 862.91,452.76 863.65,453.42 864.40,452.76 865.14,453.37 865.88,453.36 866.63,453.19 867.37,453.51 868.11,453.11 868.86,453.65 869.60,453.21 870.34,455.02 871.09,454.81 871.83,454.81 872.57,454.54 873.32,454.92 874.06,455.14 874.80,455.14 875.55,455.21 876.29,454.58 877.03,455.22 877.78,454.94 878.52,454.78 879.27,454.90 880.01,455.63 880.75,455.99 881.50,455.12 882.24,456.47 882.98,456.47 883.73,455.83 884.47,455.90 885.21,456.16 885.96,456.69 886.70,456.25 887.44,456.06 888.19,456.75 888.93,455.89 889.67,456.87 890.42,457.39 891.16,457.15 891.90,457.44 892.65,457.43 893.39,457.63 894.13,457.50 894.88,457.22 895.62,457.56 896.37,457.73 897.11,458.36 897.85,458.62 898.60,458.24 899.34,457.87 900.08,457.99 900.83,458.31 901.57,459.04 902.31,458.73 903.06,458.67 903.80,458.49 904.54,459.34 905.29,459.30 906.03,459.35 906.77,459.61 907.52,460.43 908.26,459.88 909.00,460.81 909.75,460.83 910.49,460.54 911.23,461.07 911.98,460.85 912.72,460.76 913.47,461.18 914.21,461.12 914.95,461.87 915.70,461.87 916.44,462.28 917.18,462.57 917.93,461.19 918.67,462.75 919.41,462.10 920.16,463.08 920.90,462.85 921.65,463.22 922.40,463.70 923.16,462.45 923.91,463.19 924.66,463.06 925.41,462.31 926.16,463.30 926.91,463.04 927.67,462.80 928.42,462.69 929.17,464.24 929.92,462.78 930.67,462.19 931.43,462.52 932.18,462.72 932.93,462.69 933.68,462.79 934.43,462.38 935.19,462.99 935.94,462.56 936.69,462.19 937.44,462.38 938.19,462.54 938.94,463.01 939.70,462.84 940.45,462.49 941.20,462.61" fill="none" stroke="#111" stroke-width="0.85"/>
<polyline points="330.00,550.73 332.00,550.15 334.00,549.19 336.00,550.27 338.00,549.82 340.00,550.40 342.00,549.22 344.00,549.39 346.00,550.38 348.00,550.21 350.00,550.29 352.00,549.63 354.00,549.84 356.00,550.22 358.00,549.74 360.00,548.79 362.00,548.86 364.00,548.58 366.00,548.72 368.00,548.55 370.00,549.08 372.00,549.42 374.00,549.77 376.00,549.01 378.00,548.58 380.00,549.74 382.00,549.72 384.00,549.78 386.00,548.21 388.00,549.08 390.00,549.11 392.00,548.92 394.00,548.33 396.00,549.47 398.00,548.81 400.00,547.98 402.00,548.44 404.00,549.01 406.00,548.13 408.00,549.02 410.00,548.07 412.00,548.39" fill="none" stroke="#999" stroke-width="3" stroke-linejoin="round"/>
<polyline points="842.00,546.67 844.00,546.50 846.00,547.81 848.00,547.04 850.00,547.80 852.00,548.13 854.00,547.25 856.00,546.91 858.00,547.84 860.00,547.48 862.00,548.60 864.00,547.56 866.00,548.55 868.00,547.54 870.00,548.03 872.00,548.01 874.00,549.16 876.00,548.86 878.00,549.06 880.00,548.23 882.00,548.69 884.00,549.73 886.00,549.38 888.00,549.71 890.00,549.40 892.00,549.03 894.00,550.26 896.00,549.32 898.00,549.27 900.00,550.14 902.00,549.34 904.00,550.52 906.00,550.54 908.00,550.11 910.00,550.42 912.00,550.48 914.00,549.92 916.00,550.03 918.00,550.56 920.00,550.11" fill="none" stroke="#999" stroke-width="4" stroke-linejoin="round"/>
<polyline points="26.50,587.15 27.49,587.25 28.49,586.51 29.48,587.15 30.47,586.80 31.47,586.72 32.46,586.70 33.45,587.32 34.45,587.19 35.44,586.72 36.43,586.59 37.43,586.93 38.42,586.78 39.41,587.41 40.41,586.47 41.40,586.35 42.39,586.82 43.39,586.89 44.38,586.92 45.37,587.10 46.36,587.49 47.36,586.76 48.35,586.69 49.34,586.32 50.34,586.91 51.33,587.09 52.32,586.75 53.32,587.17 54.31,586.82 55.30,587.26 56.30,586.90 57.29,586.47 58.28,586.59 59.28,586.32 60.27,586.25 61.26,586.84 62.26,587.02 63.25,587.34 64.24,586.73 65.24,586.67 66.23,586.40 67.22,587.02 68.22,586.83 69.21,586.53 70.20,586.91 71.20,586.86 72.19,586.13 73.18,586.91 74.18,586.72 75.17,586.55 76.16,586.54 77.16,587.18 78.15,587.11 79.14,587.19 80.14,586.29 81.13,586.43 82.12,586.89 83.11,586.25 84.11,586.39 85.10,586.06 86.09,587.15 87.09,586.91 88.08,586.72 89.07,586.64 90.07,586.44 91.06,586.44 92.05,586.74 93.05,586.33 94.04,586.91 95.03,586.39 96.03,586.26 97.02,586.91 98.01,586.47 99.01,586.67 100.00,586.38 101.00,585.81 102.00,586.63 103.00,586.04 104.00,586.75 105.00,585.95 106.00,585.83 107.00,586.47 108.00,586.49 109.00,586.37 110.00,585.96 111.00,586.57 112.00,585.85 113.00,586.13 114.00,586.02 115.00,586.12 116.00,586.47 117.00,586.01 118.30,583.97 119.50,586.41 120.50,585.69 121.50,585.85 122.50,586.08 123.50,586.02 124.50,586.29 125.50,582.92 126.25,585.07 127.00,586.42 127.98,586.15 128.97,585.79 129.95,586.20 130.94,586.04 131.92,586.37 132.91,586.17 133.89,586.42 134.88,586.07 135.86,586.63 136.85,585.51 137.83,585.90 138.82,586.35 139.80,585.75 140.80,586.22 141.80,585.43 142.80,585.63 143.80,585.13 144.80,585.07 145.80,585.05 146.80,584.77 147.80,584.49 148.74,584.99 149.68,584.08 150.62,583.53 151.56,583.84 152.50,583.55 153.75,583.27 155.00,583.04 156.03,580.78 157.07,579.95 158.10,578.54 159.07,579.47 160.03,580.81 161.00,581.10 161.95,582.73 162.90,584.34 163.95,582.86 165.00,582.84 165.00,583.00 165.50,575.37 167.92,582.20 168.42,572.94 170.87,582.74 171.37,569.89 173.78,583.21 174.28,571.54 176.43,581.37 176.93,569.23 179.19,583.56 179.69,567.80 182.03,581.71 182.53,565.84 184.61,583.34 185.11,564.57 187.88,583.24 188.38,565.25 190.31,579.94 190.81,563.53 193.08,581.24 193.58,562.58 196.24,579.63 196.74,563.12 198.68,579.85 199.18,560.54 201.05,582.69 201.55,559.91 203.72,581.44 204.22,561.06 206.30,582.46 206.80,560.74 209.11,582.32 209.61,560.17 211.74,581.63 212.24,560.84 214.69,579.77 215.19,558.06 217.17,579.16 217.67,559.49 219.92,581.17 220.42,559.49 222.55,580.83 223.05,559.50 225.02,579.50 225.52,559.51 227.36,577.83 227.86,559.88 230.14,580.29 230.64,557.72 232.51,578.56 233.01,556.61 234.84,579.75 235.34,557.27 237.46,579.75 237.96,558.18 239.62,579.95 240.12,558.25 242.03,578.91 242.53,556.22 244.43,576.37 244.93,557.14 246.42,576.60 246.92,554.54 248.76,578.44" fill="none" stroke="#111" stroke-width="0.8"/>
<polyline points="238.00,575.00 238.60,556.69 239.20,573.03 239.80,556.46 240.40,563.80 241.00,559.16 241.60,559.31 242.20,560.02 242.80,577.21 243.40,558.63 244.00,578.21 244.60,559.07 245.20,571.74 245.80,560.37 246.40,566.58 247.00,557.82 247.60,578.84 248.20,556.99 248.80,574.62 249.40,556.75 250.00,560.25 250.60,557.95 251.20,556.11 251.80,555.24 252.40,576.81 253.00,558.16 253.60,556.87 254.20,554.33 254.80,559.42 255.40,555.37 256.00,560.87 256.60,559.22 257.20,570.39 257.80,554.73 258.40,572.00 259.00,557.21 259.60,557.11 260.20,554.84 260.80,558.14 261.40,554.96 262.00,559.27 262.60,555.95 263.20,575.90 263.80,557.29 264.40,561.80 265.00,554.38 265.60,573.97 266.20,552.97 266.80,574.88 267.40,554.72 268.00,560.55 268.60,555.36 269.20,557.95 269.80,553.90 270.40,577.01 271.00,556.74 271.60,563.39 272.20,555.48 272.80,559.43 273.40,552.42 274.00,575.11 274.60,555.76 275.20,556.45 275.80,554.98 276.40,576.34 277.00,551.54 277.60,565.03 278.20,551.43 278.80,561.44 279.40,553.38 280.00,553.54 280.60,555.13 281.20,569.73 281.80,552.94 282.40,558.24 283.00,553.03 283.60,569.44 284.20,555.86 284.80,572.29 285.40,552.89 286.00,574.51 286.60,554.62 287.20,557.78 287.80,554.22 288.40,571.80 289.00,551.66 289.60,571.83 290.20,550.10 290.80,559.69 291.40,553.52 292.00,573.52 292.60,553.31 293.20,557.40 293.80,555.42 294.40,552.55 295.00,552.52 295.60,552.60 296.20,549.74 296.80,574.16 297.40,553.83 298.00,568.46 298.60,551.27 299.20,552.56 299.80,551.19 300.40,571.62 301.00,552.29 301.60,569.01 302.20,553.83 302.80,567.20 303.40,551.81 304.00,570.47 304.60,549.76 305.20,570.12 305.80,549.87 306.40,572.72 307.00,551.03 307.60,571.90 308.20,551.31 308.80,553.06 309.40,549.67 310.00,557.71 310.60,549.29 311.20,555.03 311.80,553.54 312.40,553.67 313.00,553.68 313.60,569.40 314.20,549.53 314.80,559.73 315.40,550.83 316.00,571.65 316.60,549.41 317.20,568.73 317.80,553.32 318.40,553.87 319.00,549.31 319.60,568.92 320.20,552.34 320.80,554.21 321.40,552.86 322.00,554.66 322.60,552.43 323.20,555.68 323.80,552.89 324.40,561.69 325.00,550.22 325.60,557.16 326.20,552.84 326.80,556.08 327.40,552.39 328.00,569.33 328.60,551.59 329.20,554.98 329.80,550.45 330.40,554.80 330.75,550.21 331.10,548.06 331.45,550.22 331.80,550.46 332.15,548.27 332.50,543.27 332.85,547.24 333.20,547.73 333.55,551.85 333.90,569.04 334.25,548.01 334.60,565.45 334.95,551.83 335.30,562.26 335.65,551.04 336.00,560.95 336.35,550.35 336.70,557.22 337.05,552.74 337.40,544.93 337.75,552.28 338.10,567.92 338.45,546.80 338.80,548.83 339.15,548.44 339.50,546.61 339.85,552.36 340.20,543.39 340.55,548.31 340.90,568.55 341.25,551.88 341.60,541.53 341.95,549.70 342.30,546.33 342.65,552.32 343.00,552.97 343.35,547.68 343.70,566.88 344.05,549.85 344.40,555.24 344.75,547.75 345.10,551.37 345.45,548.70 345.80,549.79 346.15,549.83 346.50,560.60 346.85,548.71 347.20,549.28 347.55,547.80 347.90,567.69 348.25,550.65 348.60,542.10 348.95,549.43 349.30,544.81 349.65,552.56 350.00,542.76 350.35,548.32 350.70,558.66 351.05,546.50 351.40,548.69 351.75,551.01 352.10,550.12 352.45,548.50 352.80,543.26 353.15,550.81 353.50,547.05 353.85,546.39 354.20,550.31 354.55,546.72 354.90,546.45 355.25,550.47 355.60,551.05 355.95,546.69 356.30,552.61 356.65,552.91 357.00,548.20 357.35,552.86 357.70,551.04 358.05,550.62 358.40,565.50 358.75,550.51 359.10,559.62 359.45,546.97 359.80,566.99 360.15,548.64 360.50,564.66 360.85,546.52 361.20,543.73 361.55,546.84 361.90,551.65 362.25,549.86 362.60,541.03 362.95,549.69 363.30,550.48 363.65,550.77 364.00,548.17 364.35,550.13 364.70,542.07 365.05,551.55 365.40,562.66 365.75,550.90 366.10,565.12 366.45,547.55 366.80,548.25 367.15,550.11 367.50,551.57 367.85,549.21 368.20,562.20 368.55,549.92 368.90,541.91 369.25,552.23 369.60,557.11 369.95,550.28 370.30,565.63 370.65,549.19 371.00,540.81 371.35,546.98 371.70,548.27 372.05,548.18 372.40,547.18 372.75,550.08 373.10,552.09 373.45,546.83 373.80,557.90 374.15,550.60 374.50,557.03 374.85,547.59 375.20,543.58 375.55,547.63 375.90,558.14 376.25,548.32 376.60,559.03 376.95,550.61 377.30,562.80 377.65,548.07 378.00,540.60 378.35,551.93 378.70,541.38 379.05,551.65 379.40,541.05 379.75,547.48 380.10,546.41 380.45,552.20 380.80,542.83 381.15,550.98 381.50,549.12 381.85,548.62 382.20,566.09 382.55,548.37 382.90,549.62 383.25,552.27 383.60,556.72 383.95,551.81 384.30,562.11 384.65,549.88 385.00,551.37 385.35,550.40 385.70,544.19 386.05,545.78 386.40,545.49 386.75,550.89 387.10,545.65 387.45,550.73 387.80,546.30 388.15,551.58 388.50,548.68 388.85,552.05 389.20,556.92 389.55,551.66 389.90,563.89 390.25,546.87 390.60,548.26 390.95,549.71 391.30,548.15 391.65,549.01 392.00,546.33 392.35,551.78 392.70,546.82 393.05,546.93 393.40,563.29 393.75,548.96 394.10,563.23 394.45,546.70 394.80,550.60 395.15,546.03 395.50,549.47 395.85,552.10 396.20,559.89 396.55,551.84 396.90,544.49 397.25,547.84 397.60,565.53 397.95,548.00 398.30,557.19 398.65,550.12 399.00,546.92 399.35,548.70 399.70,563.79 400.05,547.73 400.40,551.62 400.75,546.88 401.10,548.61 401.45,549.68 401.80,562.24 402.15,550.25 402.50,551.22 402.85,548.48 403.20,544.57 403.55,549.14 403.90,549.35 404.25,545.44 404.60,555.93 404.95,549.68 405.30,549.76 405.65,550.82 406.00,555.32 406.35,547.98 406.70,558.12 407.05,546.77 407.40,562.02 407.75,549.27 408.10,551.97 408.45,546.73 408.80,550.45 409.15,549.00 409.50,548.65 409.85,545.24 410.20,541.56 410.55,549.91 410.90,549.82 411.25,545.15 411.60,560.57 411.95,549.59 412.30,557.19 412.90,545.32 413.50,551.24 414.10,544.97 414.70,545.87 415.30,544.91 415.90,564.56 416.50,547.50 417.10,548.49 417.70,544.63 418.30,571.34 418.90,543.81 419.50,553.49 420.10,549.05 420.70,568.10 421.30,549.38 421.90,567.24 422.50,544.49 423.10,571.30 423.70,546.71 424.30,548.29 424.90,547.46 425.50,549.85 426.10,547.27 426.70,562.66 427.30,549.03 427.90,568.22 428.50,543.77 429.10,548.61 429.70,546.69 430.30,563.21 430.90,547.46 431.50,570.51 432.10,549.54 432.70,561.25 433.30,547.59 433.90,562.27 434.50,548.44 435.10,572.27 435.70,544.42 436.30,550.66 436.90,549.51 437.50,557.75 438.10,544.32 438.70,570.28 439.30,546.58 439.90,559.04 440.50,545.57 441.10,551.32 441.70,548.14 442.30,552.70 442.90,545.18 443.50,550.06 444.10,547.18 444.70,569.36 445.30,544.13 445.90,548.72 446.50,547.99 447.10,550.89 447.70,544.40 448.30,571.20 448.90,548.14 449.50,556.78 450.10,548.77 450.70,553.20 451.30,548.73 451.90,564.93 452.50,545.20 453.10,567.14 453.70,548.77 454.30,571.84 454.90,546.80 455.50,547.31 456.10,545.95 456.70,571.62 457.30,549.23 457.90,564.61 458.50,545.03 459.10,549.97 459.70,543.94 460.30,570.16 460.90,544.82 461.50,569.82 462.10,543.67 462.70,550.14 463.30,547.98 463.90,549.62 464.50,546.10 465.10,568.09 465.70,545.07 466.30,549.91 466.90,546.78 467.50,569.80 468.10,544.96 468.70,558.56 469.30,547.48 469.90,550.73 470.50,546.59 471.10,548.34 471.70,548.78 472.30,570.83 472.90,547.27 473.50,550.34 474.10,546.27 474.70,570.10 475.30,546.80 475.90,549.92 476.50,544.32 477.10,558.77 477.70,547.13 478.30,552.62 478.90,546.30 479.50,548.28 480.10,548.52 480.70,545.66 481.30,547.72 481.90,553.91 482.50,547.34 483.10,565.74 483.70,547.97 484.30,570.89 484.90,543.17 485.50,545.47 486.10,547.30 486.70,545.86 487.30,547.86 487.90,569.88 488.50,544.88 489.10,569.55 489.70,548.33 490.30,568.89 490.90,547.43 491.50,571.57 492.10,544.83 492.70,560.46 493.30,544.61 493.90,548.19 494.50,546.13 495.10,559.63 495.70,546.87 496.30,563.17 496.90,547.25 497.50,557.56 498.10,545.61 498.70,545.71 499.30,545.30 499.90,545.74 500.50,544.92 501.10,547.47 501.70,542.18 502.30,569.38 502.90,545.84 503.50,546.90 504.10,547.14 504.70,544.63 505.30,545.71 505.90,549.04 506.50,547.47 507.10,569.03 507.70,543.46 508.30,547.18 508.90,545.47 509.50,549.49 510.10,542.20 510.70,565.07 511.30,542.43 511.90,570.55 512.50,546.95 513.10,566.41 513.70,544.70 514.30,548.98 514.90,543.06 515.50,569.55 516.10,546.85 516.70,549.36 517.30,541.89 517.90,549.00 518.50,543.74 519.10,551.44 519.70,543.92 520.30,568.66 520.90,543.57 521.50,550.16 522.10,545.50 522.70,547.06 523.30,542.58 523.90,543.93 524.50,544.42 525.10,543.81 525.70,542.08 526.30,549.74 526.90,543.11 527.50,563.42 528.10,543.48 528.70,548.45 529.30,545.40 529.90,554.97 530.50,541.71 531.10,544.55 531.70,543.40 532.30,544.02 532.90,544.89 533.50,568.65 534.10,545.80 534.70,547.15 535.30,544.26 535.90,568.08 536.50,541.47 537.10,544.65 537.70,545.46 538.30,567.58 538.90,543.06 539.50,549.37 540.10,544.80 540.70,567.53 541.30,543.76 541.90,570.60 542.50,546.99 543.10,568.02 543.70,544.92 544.30,550.32 544.90,545.84 545.50,548.92 546.10,547.51 546.70,545.56 547.30,545.56 547.90,547.28 548.50,542.95 549.10,556.40 549.70,542.12 550.30,551.83 550.90,547.22 551.50,549.97 552.10,545.44 552.70,550.19 553.30,544.22 553.90,565.07 554.50,548.17 555.10,567.59 555.70,542.55 556.30,568.06 556.90,543.20 557.50,558.91 558.10,542.89 558.70,545.81 559.30,545.25 559.90,550.94 560.50,548.37 561.10,567.98 561.70,546.62 562.30,572.04 562.90,544.99 563.50,570.80 564.10,547.43 564.70,563.51 565.30,544.80 565.90,550.32 566.50,548.12 567.10,566.41 567.70,545.46 568.30,571.51 568.90,544.49 569.50,571.68 570.10,543.69 570.70,571.38 571.30,545.25 571.90,546.73 572.50,548.76 573.10,550.51 573.70,543.95 574.30,569.74 574.90,549.49 575.50,552.87 576.10,544.40 576.70,571.98 577.30,547.21 577.90,555.29 578.50,545.74 579.10,572.54 579.70,546.19 580.30,548.66 580.90,546.91 581.50,571.73 582.10,547.44 582.70,572.86 583.30,544.25 583.90,546.57 584.50,546.60 585.10,547.54 585.70,544.50 586.30,562.04 586.90,545.56 587.50,550.99 588.10,546.34 588.70,564.80 589.30,546.62 589.90,569.68 590.50,549.67 591.10,563.21 591.70,549.01 592.30,563.99 592.90,545.91 593.50,553.09 594.10,547.45 594.70,552.17 595.30,550.00 595.90,570.13 596.50,550.10 597.10,573.02 597.70,548.56 598.30,572.63 598.90,548.59 599.50,571.33 600.10,545.81 600.70,556.41 601.30,546.23 601.90,547.07 602.50,545.43 603.10,552.19 603.70,547.58 604.30,548.49 604.90,544.89 605.50,551.96 606.10,546.87 606.70,571.53 607.30,548.26 607.90,549.47 608.50,545.33 609.10,574.09 609.70,549.14 610.30,554.01 610.90,549.04 611.50,551.81 612.10,548.99 612.70,554.90 613.30,546.18 613.90,548.13 614.50,546.38 615.10,550.41 615.70,548.53 616.30,573.20 616.90,548.65 617.50,552.75 618.10,549.18 618.70,573.48 619.30,547.60 619.90,571.23 620.50,549.66 621.10,548.39 621.70,550.14 622.30,566.61 622.90,550.04 623.50,573.63 624.10,546.67 624.70,548.42 625.30,546.07 625.90,571.81 626.50,547.49 627.10,568.90 627.70,547.27 628.30,572.90 628.90,551.28 629.50,572.30 630.10,547.90 630.70,553.47 631.30,550.60 631.90,570.74 632.50,546.71 633.10,572.93 633.70,549.66 634.30,553.86 634.90,551.59 635.50,570.22 636.10,549.44 636.70,571.46 637.30,548.90 637.90,572.61 638.50,552.98 639.10,566.83 639.70,553.23 640.30,559.32 640.90,551.03 641.50,555.60 642.10,548.23 642.70,554.37 643.30,551.64 643.90,554.93 644.50,549.75 645.10,565.56 645.70,549.64 646.30,570.95 646.90,549.57 647.50,574.19 648.10,553.39 648.70,561.88 649.30,552.90 649.90,571.98 650.50,552.88 651.10,570.22 651.70,551.73 652.30,552.96 652.90,554.41 653.50,575.72 654.10,550.75 654.70,575.73 655.30,553.97 655.90,572.66 656.50,556.32 657.10,554.90 657.70,553.16 658.30,559.47 658.90,555.80 659.50,571.54 660.10,554.68 660.70,556.60 661.30,552.54 661.90,555.32 662.50,553.15 663.10,574.67 663.70,551.24 664.30,571.57 664.90,551.80 665.50,552.39 666.10,551.43 666.70,559.14 667.30,553.89 667.90,572.95 668.50,549.48 669.10,551.13 669.70,549.54 670.30,570.03 670.90,550.09 671.50,562.56 672.10,549.09 672.70,551.56 673.30,551.81 673.90,573.94 674.50,552.81 675.10,568.74 675.70,549.70 676.30,571.42 676.90,549.57 677.50,550.79 678.10,552.87 678.70,574.15 679.30,551.69 679.90,573.99 680.50,553.14 681.10,555.01 681.70,552.98 682.30,572.00 682.90,550.01 683.50,576.11 684.10,552.48 684.70,552.86 685.30,551.28 685.90,572.86 686.50,551.00 687.10,555.06 687.70,548.45 688.30,551.69 688.90,551.59 689.50,572.09 690.10,547.14 690.70,572.28 691.30,550.36 691.90,555.06 692.50,549.75 693.10,573.04 693.70,546.65 694.30,559.47 694.90,551.11 695.50,552.34 696.10,551.50 696.70,574.22 697.30,551.55 697.90,574.00 698.50,546.63 699.10,553.30 699.70,547.76 700.30,564.94 700.90,548.20 701.50,571.24 702.10,545.71 702.70,555.18 703.30,550.08 703.90,552.21 704.50,546.95 705.10,558.02 705.70,549.57 706.30,573.54 706.90,546.57 707.50,553.08 708.10,545.16 708.70,554.19 709.30,548.79 709.90,548.78 710.50,548.64 711.10,569.01 711.70,546.31 712.30,552.62 712.90,545.48 713.50,573.15 714.10,544.68 714.70,560.53 715.30,545.73 715.90,570.34 716.50,544.74 717.10,546.14 717.70,545.66 718.30,569.57 718.90,544.34 719.50,570.95 720.10,547.94 720.70,549.48 721.30,546.15 721.90,571.65 722.50,547.87 723.10,547.20 723.70,544.45 724.30,552.78 724.90,547.45 725.50,548.74 726.10,548.11 726.70,548.48 727.30,546.91 727.90,569.90 728.50,545.67 729.10,571.51 729.70,543.98 730.30,548.40 730.90,544.13 731.50,556.72 732.10,546.10 732.70,573.28 733.30,543.16 733.90,572.41 734.50,544.89 735.10,546.17 735.70,546.50 736.30,570.53 736.90,542.89 737.50,547.50 738.10,543.64 738.70,573.00 739.30,545.10 739.90,553.51 740.50,547.33 741.10,569.51 741.70,544.91 742.30,567.73 742.90,546.71 743.50,562.42 744.10,547.92 744.70,568.64 745.30,544.93 745.90,572.68 746.50,543.85 747.10,550.01 747.70,546.37 748.30,545.80 748.90,546.04 749.50,572.93 750.10,542.86 750.70,564.68 751.30,542.12 751.90,570.73 752.50,545.10 753.10,569.47 753.70,544.65 754.30,571.84 754.90,544.17 755.50,545.03 756.10,544.22 756.70,572.01 757.30,547.22 757.90,571.23 758.50,546.73 759.10,571.37 759.70,544.38 760.30,568.12 760.90,541.43 761.50,546.98 762.10,542.34 762.70,546.64 763.30,545.24 763.90,544.79 764.50,546.93 765.10,571.75 765.70,541.23 766.30,548.45 766.90,543.28 767.50,549.41 768.10,545.10 768.70,568.93 769.30,546.15 769.90,571.59 770.50,542.51 771.10,547.15 771.70,544.99 772.30,569.42 772.90,541.64 773.50,573.44 774.10,545.99 774.70,545.79 775.30,542.69 775.90,545.44 776.50,545.12 777.10,543.60 777.70,545.31 778.30,568.86 778.90,544.38 779.50,549.98 780.10,542.08 780.70,545.51 781.30,540.87 781.90,572.01 782.50,544.21 783.10,544.82 783.70,544.88 784.30,571.13 784.90,542.68 785.50,544.92 786.10,541.74 786.70,549.33 787.30,541.26 787.90,571.16 788.50,542.44 789.10,548.42 789.70,541.11 790.30,570.05 790.90,540.97 791.50,543.13 792.10,543.26 792.70,549.75 793.30,543.72 793.90,546.38 794.50,541.38 795.10,562.20 795.70,544.63 796.30,571.35 796.90,543.06 797.50,569.70 798.10,544.15 798.70,561.46 799.30,542.11 799.90,570.97 800.50,544.17 801.10,561.42 801.70,545.28 802.30,560.50 802.90,544.84 803.50,569.45 804.10,542.92 804.70,571.05 805.30,543.04 805.90,571.05 806.50,543.71 807.10,559.18 807.70,541.19 808.30,543.43 808.90,540.00 809.50,567.64 810.10,545.20 810.70,570.18 811.30,540.41 811.90,570.67 812.50,543.36 813.10,552.18 813.70,542.90 814.30,547.80 814.90,545.00 815.50,562.80 816.10,543.97 816.70,556.78 817.30,544.76 817.90,570.50 818.50,542.51 819.10,545.68 819.70,543.66 820.30,568.22 820.90,542.76 821.50,569.78 822.10,541.17 822.70,569.23 823.30,542.21 823.90,546.82 824.50,542.21 825.10,544.75 825.70,539.45 826.30,546.82 826.90,543.00 827.50,547.42 828.10,544.00 828.70,562.45 829.30,542.61 829.90,569.54 830.50,544.26 831.10,553.82 831.70,542.54 832.30,570.54 832.90,541.35 833.50,565.98 834.10,543.03 834.70,547.82 835.30,544.81 835.90,546.68 836.50,540.71 837.10,568.13 837.70,540.84 838.30,550.40 838.90,544.16 839.50,567.62 840.10,539.25 840.70,568.81 841.30,543.84 841.90,562.44 842.50,541.08 843.10,551.39 843.55,549.82 844.00,546.61 844.45,542.91 844.90,558.23 845.35,549.78 845.80,543.50 846.25,547.29 846.70,567.97 847.15,544.13 847.60,561.98 848.05,552.00 848.50,546.31 848.95,550.27 849.40,560.63 849.85,551.34 850.30,542.76 850.75,552.01 851.20,543.16 851.65,550.26 852.10,540.66 852.55,545.11 853.00,563.35 853.45,546.50 853.90,539.63 854.35,545.50 854.80,549.55 855.25,550.14 855.70,551.58 856.15,548.25 856.60,558.56 857.05,550.00 857.50,544.36 857.95,547.89 858.40,548.83 858.85,545.91 859.30,546.77 859.75,543.01 860.20,543.77 860.65,543.85 861.10,543.22 861.55,547.19 862.00,562.82 862.45,543.91 862.90,568.63 863.35,548.29 863.80,569.28 864.25,551.80 864.70,563.03 865.15,543.31 865.60,540.25 866.05,544.31 866.50,549.62 866.95,546.35 867.40,544.91 867.85,552.44 868.30,550.27 868.75,545.14 869.20,567.99 869.65,547.23 870.10,540.81 870.55,551.65 871.00,571.72 871.45,549.05 871.90,543.78 872.35,549.81 872.80,547.07 873.25,552.56 873.70,537.37 874.15,546.65 874.60,551.40 875.05,545.64 875.50,533.21 875.95,545.47 876.40,552.40 876.85,551.72 877.30,564.75 877.75,549.52 878.20,543.81 878.65,545.62 879.10,545.22 879.55,553.24 880.00,541.76 880.45,546.05 880.90,563.94 881.35,550.32 881.80,548.71 882.25,552.97 882.70,553.83 883.15,547.63 883.60,558.30 884.05,547.92 884.50,559.74 884.95,552.45 885.40,559.83 885.85,545.32 886.30,539.80 886.75,549.53 887.20,548.35 887.65,553.90 888.10,564.65 888.55,551.21 889.00,552.89 889.45,553.17 889.90,571.22 890.35,552.63 890.80,569.28 891.25,553.97 891.70,551.83 892.15,552.87 892.60,552.30 893.05,545.31 893.50,559.69 893.95,549.23 894.40,537.96 894.85,553.86 895.30,544.99 895.75,551.49 896.20,570.07 896.65,545.02 897.10,535.91 897.55,544.81 898.00,546.81 898.45,552.00 898.90,549.50 899.35,549.55 899.80,547.98 900.25,553.75 900.70,544.98 901.15,547.91 901.60,545.39 902.05,553.55 902.50,552.57 902.95,553.14 903.40,553.11 903.85,549.75 904.30,567.84 904.75,549.77 905.20,561.71 905.65,549.53 906.10,568.56 906.55,553.05 907.00,553.65 907.45,548.87 907.90,569.73 908.35,547.10 908.80,550.54 909.25,552.00 909.70,552.03 910.15,547.74 910.60,541.57 911.05,554.41 911.50,552.04 911.95,546.39 912.40,566.23 912.85,552.52 913.30,559.30 913.75,555.18 914.20,547.35 914.65,553.84 915.10,547.43 915.55,553.70 916.00,562.68 916.45,547.31 916.90,551.83 917.35,550.86 917.80,540.16 918.25,548.96 918.70,566.98 919.15,547.68 919.60,552.32 920.05,553.77 920.50,564.00 920.85,552.31 921.20,552.31 921.55,553.29 921.90,555.52 922.25,553.82 922.60,555.80 922.95,551.47 923.30,552.54 923.65,551.02 924.00,556.28 924.35,551.18 924.70,554.05 925.05,554.84 925.40,552.02 925.75,556.68 926.10,556.68 926.45,552.23 926.80,551.64 927.15,554.70 927.50,553.89 927.85,554.43 928.20,554.51 928.55,556.54 928.90,555.41 929.25,552.68 929.60,555.28 929.95,553.50 930.30,556.65 930.65,553.66 931.00,550.87 931.35,556.30 931.70,552.46 932.05,555.73 932.40,554.47 932.75,555.27 933.10,555.23 933.45,556.23 933.80,555.80 934.15,554.67 934.50,552.76 934.85,553.76 935.20,552.47 935.55,552.82 935.90,553.56 936.25,553.34 936.60,552.54 936.95,552.63 937.30,552.67 937.65,551.95 938.00,554.30 938.35,551.36 938.70,552.29 939.05,551.82 939.40,555.04 939.75,552.48 940.10,551.40 940.45,555.73 940.80,553.43 941.15,555.63" fill="none" stroke="#000" stroke-opacity="0.6" stroke-width="0.6"/>
<polyline points="238.00,575.00 238.60,557.48 239.20,576.61 239.80,561.15 240.40,574.97 241.00,559.75 241.60,573.06 242.20,557.54 242.80,573.22 243.40,560.63 244.00,575.19 244.60,557.69 245.20,574.20 245.80,559.00 246.40,577.07 247.00,560.19 247.60,574.27 248.20,556.34 248.80,556.61 249.40,555.76 250.00,572.98 250.60,558.16 251.20,556.15 251.80,557.16 252.40,571.80 253.00,555.80 253.60,575.30 254.20,555.61 254.80,568.71 255.40,558.50 256.00,575.15 256.60,558.68 257.20,563.47 257.80,558.87 258.40,563.95 259.00,558.17 259.60,560.64 260.20,555.33 260.80,576.70 261.40,556.57 262.00,576.55 262.60,553.79 263.20,575.69 263.80,556.08 264.40,555.52 265.00,556.61 265.60,562.52 266.20,556.61 266.80,564.44 267.40,556.96 268.00,560.13 268.60,554.28 269.20,574.12 269.80,553.91 270.40,555.05 271.00,556.72 271.60,576.46 272.20,553.91 272.80,573.84 273.40,557.40 274.00,572.79 274.60,553.54 275.20,555.95 275.80,552.60 276.40,574.06 277.00,555.03 277.60,574.15 278.20,555.50 278.80,569.67 279.40,552.15 280.00,560.76 280.60,551.35 281.20,574.64 281.80,551.44 282.40,554.53 283.00,554.51 283.60,558.84 284.20,550.95 284.80,575.65 285.40,551.47 286.00,569.55 286.60,551.88 287.20,572.21 287.80,553.95 288.40,557.21 289.00,555.92 289.60,558.83 290.20,552.76 290.80,554.03 291.40,554.98 292.00,560.14 292.60,554.46 293.20,568.29 293.80,554.56 294.40,556.79 295.00,555.13 295.60,568.10 296.20,553.58 296.80,554.57 297.40,552.40 298.00,555.23 298.60,554.56 299.20,573.20 299.80,551.39 300.40,571.49 301.00,551.20 301.60,571.75 302.20,553.77 302.80,553.00 303.40,552.47 304.00,571.54 304.60,552.67 305.20,554.51 305.80,550.80 306.40,555.69 307.00,550.96 307.60,555.83 308.20,552.86 308.80,565.07 309.40,553.56 310.00,571.07 310.60,549.58 311.20,559.19 311.80,553.80 312.40,553.64 313.00,552.09 313.60,572.21 314.20,548.09 314.80,552.58 315.40,550.34 316.00,556.39 316.60,550.18 317.20,550.19 317.80,551.72 318.40,558.13 319.00,549.65 319.60,571.02 320.20,552.65 320.80,550.85 321.40,550.58 322.00,550.19 322.60,551.66 323.20,566.23 323.80,552.70 324.40,563.41 325.00,548.00 325.60,565.56 326.20,550.77 326.80,566.10 327.40,552.54 328.00,552.71 328.60,550.08 329.20,569.55 329.80,552.70 330.40,568.23 330.75,553.13 331.10,561.16 331.45,553.30 331.80,549.00 332.15,547.62 332.50,560.88 332.85,552.72 333.20,569.49 333.55,553.34 333.90,549.29 334.25,549.16 334.60,565.52 334.95,552.36 335.30,548.61 335.65,551.55 336.00,566.88 336.35,546.48 336.70,551.28 337.05,547.40 337.40,559.70 337.75,549.96 338.10,553.16 338.45,550.57 338.80,544.89 339.15,553.06 339.50,543.33 339.85,550.99 340.20,551.40 340.55,546.35 340.90,559.94 341.25,550.85 341.60,541.38 341.95,547.51 342.30,542.37 342.65,547.70 343.00,557.96 343.35,551.81 343.70,543.86 344.05,550.85 344.40,560.36 344.75,548.91 345.10,564.50 345.45,546.33 345.80,564.77 346.15,546.86 346.50,548.80 346.85,546.45 347.20,547.91 347.55,553.17 347.90,552.38 348.25,552.36 348.60,540.13 348.95,548.97 349.30,560.53 349.65,550.32 350.00,551.67 350.35,552.65 350.70,552.28 351.05,546.76 351.40,542.26 351.75,552.29 352.10,556.46 352.45,546.98 352.80,566.27 353.15,548.44 353.50,552.68 353.85,551.49 354.20,547.86 354.55,547.42 354.90,555.23 355.25,552.56 355.60,562.99 355.95,548.02 356.30,560.49 356.65,551.07 357.00,558.61 357.35,546.98 357.70,565.34 358.05,552.74 358.40,544.23 358.75,551.12 359.10,540.80 359.45,552.03 359.80,566.01 360.15,549.73 360.50,549.49 360.85,546.86 361.20,549.06 361.55,546.43 361.90,552.22 362.25,552.66 362.60,550.00 362.95,547.27 363.30,551.05 363.65,550.57 364.00,551.78 364.35,548.28 364.70,544.96 365.05,546.09 365.40,560.81 365.75,546.13 366.10,565.26 366.45,550.22 366.80,545.97 367.15,548.82 367.50,541.94 367.85,548.53 368.20,558.70 368.55,551.27 368.90,565.61 369.25,548.20 369.60,541.78 369.95,551.88 370.30,564.54 370.65,550.61 371.00,557.22 371.35,546.54 371.70,563.04 372.05,547.80 372.40,545.84 372.75,551.22 373.10,566.50 373.45,546.40 373.80,548.52 374.15,547.70 374.50,541.10 374.85,548.37 375.20,552.46 375.55,546.23 375.90,545.90 376.25,546.39 376.60,549.35 376.95,551.95 377.30,546.77 377.65,550.07 378.00,551.04 378.35,549.59 378.70,561.46 379.05,548.50 379.40,551.85 379.75,548.03 380.10,559.93 380.45,551.65 380.80,559.93 381.15,550.83 381.50,564.58 381.85,549.32 382.20,541.83 382.55,546.57 382.90,559.06 383.25,547.91 383.60,551.81 383.95,550.81 384.30,551.77 384.65,551.93 385.00,564.93 385.35,546.62 385.70,563.73 386.05,546.48 386.40,552.00 386.75,545.47 387.10,551.95 387.45,549.24 387.80,561.43 388.15,549.31 388.50,550.21 388.85,552.12 389.20,541.17 389.55,545.46 389.90,541.01 390.25,551.72 390.60,561.52 390.95,547.58 391.30,546.74 391.65,548.14 392.00,557.31 392.35,545.88 392.70,557.17 393.05,545.52 393.40,547.76 393.75,545.42 394.10,548.69 394.45,550.16 394.80,556.50 395.15,549.79 395.50,564.35 395.85,547.59 396.20,556.98 396.55,547.08 396.90,560.54 397.25,547.88 397.60,546.70 397.95,551.85 398.30,560.10 398.65,551.97 399.00,551.88 399.35,549.01 399.70,562.09 400.05,550.02 400.40,540.54 400.75,551.84 401.10,550.97 401.45,546.52 401.80,547.31 402.15,546.17 402.50,558.65 402.85,545.58 403.20,551.26 403.55,546.54 403.90,551.26 404.25,547.79 404.60,557.52 404.95,548.41 405.30,563.48 405.65,546.24 406.00,544.50 406.35,546.32 406.70,562.25 407.05,547.38 407.40,547.46 407.75,546.46 408.10,544.50 408.45,546.58 408.80,548.27 409.15,551.59 409.50,544.28 409.85,551.90 410.20,545.98 410.55,552.02 410.90,546.50 411.25,551.81 411.60,540.65 411.95,545.11 412.30,547.83 412.90,544.01 413.50,555.30 414.10,547.26 414.70,568.95 415.30,545.15 415.90,569.80 416.50,547.60 417.10,553.94 417.70,544.71 418.30,546.64 418.90,545.11 419.50,570.44 420.10,545.45 420.70,545.78 421.30,548.82 421.90,552.83 422.50,544.86 423.10,554.12 423.70,548.57 424.30,551.95 424.90,544.61 425.50,550.20 426.10,544.55 426.70,561.45 427.30,545.28 427.90,556.35 428.50,544.66 429.10,552.86 429.70,547.66 430.30,547.99 430.90,545.81 431.50,570.97 432.10,548.39 432.70,569.28 433.30,549.60 433.90,560.16 434.50,548.47 435.10,571.22 435.70,545.78 436.30,572.22 436.90,548.09 437.50,564.93 438.10,546.06 438.70,571.06 439.30,545.89 439.90,566.01 440.50,547.22 441.10,566.73 441.70,544.37 442.30,567.55 442.90,547.34 443.50,546.24 444.10,547.01 444.70,564.81 445.30,544.32 445.90,565.87 446.50,547.85 447.10,571.82 447.70,548.95 448.30,555.37 448.90,548.52 449.50,554.56 450.10,547.36 450.70,571.37 451.30,544.79 451.90,550.08 452.50,545.25 453.10,570.56 453.70,548.05 454.30,553.18 454.90,549.36 455.50,565.66 456.10,544.12 456.70,548.00 457.30,546.26 457.90,549.81 458.50,545.37 459.10,546.49 459.70,547.22 460.30,571.82 460.90,547.83 461.50,551.79 462.10,547.44 462.70,552.90 463.30,544.85 463.90,547.01 464.50,546.23 465.10,565.85 465.70,548.78 466.30,546.02 466.90,544.47 467.50,560.11 468.10,549.12 468.70,567.95 469.30,547.84 469.90,557.87 470.50,548.42 471.10,550.19 471.70,547.17 472.30,568.73 472.90,545.11 473.50,568.67 474.10,545.35 474.70,565.56 475.30,546.44 475.90,551.60 476.50,543.72 477.10,568.85 477.70,548.49 478.30,558.41 478.90,548.18 479.50,548.06 480.10,546.41 480.70,563.54 481.30,543.42 481.90,570.87 482.50,545.78 483.10,566.26 483.70,544.53 484.30,569.48 484.90,542.99 485.50,570.83 486.10,547.16 486.70,568.57 487.30,547.62 487.90,546.77 488.50,545.52 489.10,568.30 489.70,544.12 490.30,549.90 490.90,547.25 491.50,568.25 492.10,545.16 492.70,570.09 493.30,544.94 493.90,569.99 494.50,543.92 495.10,544.79 495.70,546.32 496.30,567.80 496.90,542.71 497.50,560.53 498.10,547.74 498.70,561.08 499.30,547.92 499.90,567.50 500.50,542.49 501.10,559.37 501.70,547.12 502.30,555.85 502.90,543.53 503.50,569.21 504.10,546.59 504.70,569.28 505.30,546.38 505.90,569.00 506.50,543.63 507.10,568.68 507.70,542.28 508.30,544.69 508.90,542.63 509.50,548.79 510.10,543.49 510.70,544.80 511.30,546.71 511.90,563.93 512.50,544.85 513.10,548.17 513.70,541.95 514.30,571.04 514.90,547.23 515.50,558.82 516.10,541.40 516.70,567.60 517.30,542.86 517.90,567.08 518.50,545.72 519.10,550.06 519.70,545.38 520.30,570.03 520.90,541.19 521.50,544.30 522.10,546.11 522.70,570.00 523.30,545.18 523.90,547.33 524.50,546.38 525.10,571.00 525.70,544.74 526.30,549.41 526.90,546.27 527.50,570.92 528.10,546.23 528.70,571.18 529.30,544.52 529.90,550.26 530.50,544.78 531.10,549.26 531.70,545.57 532.30,570.23 532.90,540.97 533.50,565.39 534.10,541.82 534.70,543.72 535.30,544.23 535.90,567.97 536.50,541.67 537.10,568.74 537.70,545.73 538.30,550.34 538.90,545.65 539.50,544.06 540.10,547.09 540.70,568.95 541.30,542.58 541.90,569.52 542.50,544.49 543.10,564.03 543.70,546.07 544.30,549.22 544.90,544.33 545.50,566.95 546.10,542.46 546.70,571.12 547.30,546.70 547.90,554.88 548.50,547.35 549.10,551.74 549.70,547.81 550.30,569.98 550.90,543.97 551.50,572.18 552.10,544.88 552.70,571.20 553.30,547.68 553.90,550.10 554.50,546.74 555.10,555.21 555.70,543.43 556.30,571.00 556.90,546.66 557.50,564.42 558.10,546.67 558.70,550.91 559.30,545.50 559.90,572.70 560.50,543.30 561.10,552.21 561.70,543.29 562.30,571.16 562.90,545.75 563.50,561.32 564.10,545.40 564.70,571.59 565.30,548.12 565.90,571.99 566.50,548.36 567.10,569.36 567.70,548.32 568.30,570.63 568.90,543.84 569.50,568.36 570.10,546.76 570.70,552.48 571.30,545.85 571.90,558.57 572.50,548.71 573.10,552.36 573.70,547.40 574.30,563.91 574.90,544.83 575.50,573.34 576.10,544.63 576.70,553.44 577.30,549.73 577.90,571.70 578.50,544.69 579.10,550.56 579.70,547.35 580.30,552.54 580.90,548.23 581.50,568.75 582.10,548.91 582.70,550.27 583.30,547.21 583.90,572.13 584.50,549.56 585.10,546.69 585.70,545.06 586.30,557.63 586.90,548.80 587.50,561.25 588.10,546.66 588.70,573.17 589.30,547.35 589.90,569.97 590.50,546.23 591.10,552.19 591.70,546.19 592.30,564.74 592.90,547.97 593.50,571.97 594.10,546.96 594.70,574.31 595.30,545.27 595.90,572.80 596.50,547.62 597.10,549.52 597.70,546.42 598.30,551.89 598.90,546.45 599.50,572.54 600.10,549.56 600.70,554.81 601.30,550.05 601.90,548.47 602.50,546.78 603.10,571.77 603.70,547.02 604.30,572.97 604.90,548.96 605.50,573.51 606.10,548.62 606.70,553.14 607.30,546.90 607.90,550.47 608.50,545.33 609.10,549.72 609.70,548.73 610.30,571.01 610.90,549.20 611.50,559.74 612.10,549.72 612.70,572.23 613.30,548.63 613.90,572.75 614.50,547.74 615.10,554.56 615.70,545.46 616.30,551.25 616.90,549.58 617.50,548.76 618.10,547.53 618.70,551.44 619.30,550.58 619.90,555.32 620.50,549.23 621.10,559.07 621.70,546.32 622.30,573.69 622.90,549.18 623.50,549.56 624.10,547.67 624.70,549.89 625.30,548.41 625.90,548.46 626.50,548.69 627.10,559.71 627.70,550.36 628.30,562.83 628.90,548.70 629.50,572.43 630.10,551.25 630.70,572.76 631.30,546.75 631.90,570.94 632.50,549.73 633.10,574.35 633.70,547.38 634.30,571.95 634.90,551.55 635.50,554.68 636.10,550.35 636.70,550.87 637.30,550.87 637.90,563.68 638.50,548.84 639.10,555.92 639.70,551.85 640.30,551.18 640.90,551.39 641.50,565.14 642.10,549.49 642.70,572.27 643.30,552.34 643.90,553.99 644.50,550.78 645.10,554.06 645.70,549.39 646.30,552.27 646.90,551.14 647.50,558.98 648.10,552.88 648.70,569.65 649.30,552.29 649.90,571.92 650.50,551.53 651.10,575.34 651.70,549.97 652.30,554.43 652.90,555.36 653.50,570.08 654.10,553.95 654.70,552.67 655.30,554.61 655.90,572.64 656.50,553.82 657.10,559.38 657.70,552.85 658.30,574.02 658.90,554.42 659.50,552.61 660.10,552.97 660.70,557.21 661.30,552.39 661.90,555.33 662.50,551.64 663.10,574.99 663.70,552.58 664.30,569.63 664.90,553.69 665.50,574.67 666.10,551.55 666.70,573.73 667.30,550.79 667.90,563.35 668.50,550.96 669.10,565.57 669.70,549.34 670.30,568.31 670.90,552.23 671.50,560.30 672.10,550.87 672.70,561.77 673.30,554.08 673.90,574.90 674.50,551.44 675.10,570.79 675.70,549.37 676.30,572.99 676.90,549.25 677.50,553.74 678.10,549.30 678.70,573.25 679.30,548.16 679.90,550.69 680.50,552.64 681.10,557.03 681.70,548.60 682.30,554.35 682.90,552.96 683.50,568.95 684.10,548.40 684.70,572.45 685.30,552.16 685.90,563.28 686.50,551.49 687.10,573.70 687.70,550.96 688.30,557.00 688.90,548.43 689.50,550.68 690.10,551.58 690.70,557.70 691.30,551.88 691.90,574.07 692.50,548.17 693.10,573.36 693.70,551.96 694.30,554.06 694.90,547.31 695.50,570.22 696.10,550.61 696.70,574.10 697.30,546.82 697.90,573.55 698.50,546.82 699.10,570.46 699.70,550.16 700.30,572.19 700.90,547.92 701.50,555.95 702.10,548.76 702.70,554.71 703.30,550.70 703.90,571.33 704.50,546.75 705.10,574.91 705.70,546.91 706.30,572.13 706.90,547.84 707.50,571.35 708.10,549.58 708.70,572.27 709.30,545.26 709.90,572.50 710.50,547.80 711.10,553.83 711.70,544.96 712.30,549.73 712.90,548.87 713.50,568.48 714.10,544.29 714.70,546.53 715.30,546.94 715.90,571.18 716.50,547.50 717.10,550.68 717.70,548.71 718.30,563.20 718.90,549.04 719.50,553.97 720.10,548.57 720.70,555.71 721.30,548.01 721.90,568.01 722.50,546.69 723.10,551.65 723.70,543.75 724.30,571.27 724.90,544.13 725.50,545.28 726.10,547.47 726.70,548.06 727.30,545.16 727.90,573.46 728.50,543.83 729.10,572.10 729.70,543.38 730.30,571.31 730.90,544.45 731.50,544.83 732.10,546.56 732.70,550.74 733.30,547.11 733.90,572.57 734.50,543.97 735.10,559.92 735.70,545.29 736.30,556.17 736.90,543.98 737.50,561.18 738.10,548.23 738.70,551.80 739.30,546.38 739.90,570.86 740.50,543.49 741.10,563.73 741.70,543.22 742.30,551.97 742.90,544.96 743.50,564.03 744.10,546.86 744.70,552.45 745.30,545.88 745.90,556.89 746.50,545.44 747.10,553.78 747.70,542.88 748.30,549.86 748.90,543.38 749.50,569.03 750.10,542.67 750.70,545.54 751.30,546.17 751.90,549.68 752.50,543.51 753.10,573.85 753.70,543.95 754.30,571.05 754.90,543.65 755.50,545.56 756.10,544.19 756.70,544.84 757.30,542.36 757.90,550.45 758.50,546.63 759.10,570.79 759.70,542.80 760.30,571.25 760.90,542.35 761.50,571.86 762.10,541.36 762.70,566.06 763.30,544.26 763.90,572.34 764.50,543.08 765.10,569.13 765.70,543.71 766.30,567.32 766.90,546.31 767.50,572.08 768.10,543.28 768.70,548.04 769.30,542.61 769.90,570.60 770.50,543.38 771.10,572.15 771.70,546.50 772.30,567.17 772.90,546.29 773.50,547.88 774.10,543.82 774.70,571.90 775.30,543.94 775.90,548.23 776.50,544.61 777.10,548.85 777.70,545.36 778.30,545.17 778.90,542.11 779.50,561.64 780.10,540.53 780.70,571.48 781.30,545.99 781.90,543.91 782.50,543.47 783.10,547.60 783.70,542.52 784.30,568.16 784.90,545.45 785.50,569.34 786.10,544.18 786.70,542.62 787.30,540.94 787.90,549.38 788.50,542.34 789.10,543.71 789.70,543.63 790.30,570.24 790.90,542.44 791.50,567.66 792.10,543.71 792.70,555.67 793.30,540.77 793.90,568.60 794.50,543.95 795.10,570.51 795.70,545.76 796.30,546.63 796.90,541.77 797.50,562.86 798.10,542.76 798.70,545.70 799.30,544.50 799.90,571.02 800.50,543.29 801.10,542.40 801.70,545.28 802.30,563.07 802.90,540.54 803.50,569.96 804.10,542.65 804.70,557.83 805.30,543.99 805.90,549.55 806.50,540.80 807.10,545.83 807.70,543.52 808.30,569.79 808.90,544.93 809.50,565.74 810.10,539.72 810.70,542.51 811.30,540.87 811.90,552.65 812.50,541.28 813.10,568.35 813.70,542.87 814.30,568.41 814.90,542.06 815.50,544.09 816.10,543.14 816.70,563.20 817.30,545.20 817.90,544.13 818.50,541.82 819.10,544.30 819.70,544.74 820.30,552.75 820.90,543.87 821.50,565.85 822.10,539.59 822.70,561.19 823.30,541.19 823.90,569.18 824.50,541.89 825.10,569.08 825.70,544.34 826.30,548.66 826.90,540.48 827.50,565.00 828.10,540.59 828.70,567.62 829.30,544.62 829.90,569.11 830.50,539.79 831.10,570.58 831.70,540.07 832.30,564.21 832.90,539.25 833.50,547.66 834.10,544.61 834.70,561.54 835.30,543.21 835.90,541.73 836.50,543.99 837.10,546.22 837.70,541.40 838.30,566.85 838.90,542.26 839.50,551.28 840.10,539.30 840.70,566.02 841.30,539.79 841.90,554.70 842.50,544.33 843.10,544.13 843.55,547.92 844.00,551.87 844.45,549.03 844.90,558.61 845.35,548.56 845.80,549.08 846.25,545.67 846.70,548.12 847.15,546.04 847.60,558.43 848.05,549.40 848.50,569.96 848.95,545.54 849.40,568.97 849.85,546.17 850.30,548.03 850.75,551.79 851.20,538.28 851.65,542.59 852.10,547.23 852.55,549.84 853.00,552.18 853.45,550.65 853.90,560.53 854.35,546.44 854.80,563.04 855.25,549.79 855.70,550.94 856.15,544.65 856.60,567.39 857.05,550.06 857.50,551.77 857.95,546.14 858.40,540.22 858.85,546.06 859.30,542.08 859.75,547.98 860.20,551.56 860.65,548.67 861.10,551.05 861.55,548.23 862.00,547.66 862.45,546.88 862.90,549.01 863.35,546.74 863.80,548.40 864.25,544.20 864.70,548.06 865.15,552.42 865.60,544.27 866.05,545.84 866.50,545.18 866.95,551.47 867.40,552.73 867.85,546.78 868.30,549.29 868.75,550.13 869.20,546.84 869.65,545.67 870.10,544.87 870.55,548.92 871.00,551.87 871.45,550.36 871.90,541.82 872.35,548.02 872.80,558.94 873.25,544.98 873.70,538.04 874.15,547.39 874.60,569.46 875.05,544.43 875.50,569.24 875.95,551.97 876.40,548.92 876.85,545.31 877.30,568.21 877.75,551.57 878.20,552.75 878.65,549.46 879.10,552.86 879.55,545.54 880.00,571.83 880.45,546.86 880.90,563.93 881.35,552.43 881.80,537.42 882.25,548.61 882.70,537.02 883.15,552.78 883.60,535.25 884.05,550.16 884.50,551.68 884.95,547.55 885.40,536.33 885.85,552.47 886.30,563.55 886.75,552.03 887.20,545.58 887.65,548.06 888.10,544.55 888.55,551.93 889.00,568.48 889.45,545.99 889.90,552.95 890.35,545.06 890.80,545.46 891.25,544.57 891.70,549.57 892.15,544.84 892.60,549.57 893.05,554.48 893.50,553.32 893.95,549.81 894.40,551.94 894.85,547.35 895.30,547.58 895.75,548.87 896.20,534.23 896.65,549.72 897.10,552.65 897.55,546.32 898.00,547.82 898.45,546.85 898.90,567.52 899.35,554.10 899.80,535.64 900.25,552.37 900.70,548.77 901.15,552.95 901.60,541.52 902.05,547.70 902.50,553.33 902.95,553.40 903.40,551.51 903.85,545.55 904.30,566.76 904.75,547.85 905.20,550.64 905.65,551.83 906.10,548.50 906.55,551.45 907.00,540.18 907.45,553.40 907.90,552.16 908.35,550.90 908.80,569.16 909.25,546.66 909.70,546.42 910.15,552.84 910.60,551.72 911.05,547.13 911.50,567.24 911.95,549.89 912.40,546.32 912.85,549.10 913.30,539.65 913.75,549.51 914.20,553.13 914.65,545.99 915.10,553.65 915.55,554.81 916.00,533.83 916.45,550.14 916.90,546.82 917.35,555.71 917.80,545.89 918.25,553.23 918.70,560.46 919.15,552.46 919.60,552.05 920.05,548.41 920.50,558.84 920.85,551.81 921.20,552.96 921.55,552.83 921.90,551.22 922.25,555.87 922.60,551.92 922.95,551.28 923.30,552.05 923.65,553.45 924.00,554.55 924.35,551.29 924.70,551.71 925.05,550.96 925.40,553.19 925.75,556.80 926.10,555.49 926.45,555.92 926.80,556.28 927.15,552.13 927.50,554.68 927.85,553.30 928.20,552.98 928.55,555.35 928.90,554.17 929.25,554.53 929.60,552.42 929.95,556.44 930.30,554.74 930.65,554.58 931.00,555.36 931.35,556.28 931.70,551.85 932.05,552.38 932.40,556.63 932.75,554.84 933.10,556.13 933.45,552.79 933.80,556.72 934.15,553.39 934.50,555.63 934.85,556.27 935.20,553.90 935.55,553.30 935.90,553.79 936.25,551.57 936.60,551.23 936.95,556.47 937.30,554.71 937.65,551.31 938.00,554.34 938.35,552.29 938.70,555.84 939.05,552.95 939.40,550.90 939.75,554.79 940.10,556.77 940.45,555.22 940.80,556.57 941.15,551.41" fill="none" stroke="#000" stroke-opacity="0.6" stroke-width="0.6"/>
<polyline points="238.00,575.00 238.60,557.31 239.20,561.30 239.80,556.48 240.40,576.67 241.00,559.80 241.60,562.62 242.20,559.49 242.80,559.23 243.40,556.59 244.00,564.00 244.60,558.69 245.20,561.94 245.80,556.44 246.40,573.50 247.00,556.46 247.60,557.59 248.20,554.59 248.80,577.45 249.40,555.76 250.00,559.98 250.60,558.02 251.20,559.56 251.80,558.80 252.40,559.65 253.00,555.52 253.60,561.36 254.20,555.77 254.80,576.50 255.40,558.28 256.00,559.60 256.60,558.71 257.20,564.38 257.80,553.75 258.40,561.16 259.00,554.68 259.60,573.52 260.20,558.22 260.80,575.32 261.40,554.00 262.00,576.07 262.60,558.31 263.20,574.85 263.80,554.62 264.40,556.48 265.00,556.10 265.60,575.09 266.20,556.11 266.80,575.19 267.40,557.89 268.00,576.71 268.60,556.77 269.20,565.38 269.80,555.57 270.40,572.51 271.00,556.06 271.60,575.25 272.20,552.46 272.80,577.24 273.40,555.97 274.00,562.47 274.60,551.81 275.20,560.95 275.80,555.23 276.40,558.66 277.00,551.86 277.60,569.20 278.20,555.40 278.80,569.54 279.40,552.33 280.00,572.58 280.60,553.35 281.20,573.31 281.80,550.95 282.40,575.61 283.00,551.46 283.60,559.28 284.20,556.40 284.80,556.69 285.40,552.82 286.00,576.46 286.60,552.36 287.20,560.01 287.80,555.86 288.40,557.20 289.00,555.99 289.60,561.46 290.20,551.43 290.80,562.95 291.40,554.71 292.00,574.21 292.60,552.13 293.20,559.61 293.80,554.12 294.40,562.23 295.00,551.88 295.60,554.26 296.20,551.36 296.80,567.11 297.40,549.83 298.00,573.36 298.60,554.79 299.20,571.54 299.80,551.81 300.40,569.42 301.00,549.48 301.60,569.88 302.20,551.21 302.80,565.53 303.40,548.84 304.00,556.54 304.60,554.28 305.20,568.71 305.80,552.31 306.40,558.13 307.00,554.40 307.60,571.22 308.20,548.60 308.80,559.67 309.40,551.85 310.00,554.69 310.60,548.36 311.20,572.42 311.80,552.12 312.40,571.30 313.00,552.47 313.60,551.69 314.20,550.10 314.80,554.11 315.40,552.73 316.00,561.32 316.60,551.76 317.20,557.84 317.80,550.07 318.40,554.67 319.00,551.52 319.60,558.75 320.20,553.49 320.80,569.30 321.40,551.57 322.00,568.39 322.60,548.52 323.20,554.60 323.80,549.19 324.40,555.02 325.00,550.30 325.60,555.70 326.20,552.51 326.80,550.15 327.40,552.25 328.00,553.08 328.60,552.43 329.20,565.67 329.80,547.75 330.40,565.89 330.75,550.13 331.10,550.05 331.45,549.72 331.80,540.42 332.15,552.59 332.50,550.41 332.85,552.69 333.20,548.43 333.55,552.50 333.90,547.00 334.25,552.25 334.60,568.09 334.95,552.20 335.30,547.21 335.65,551.55 336.00,568.12 336.35,547.19 336.70,553.20 337.05,549.99 337.40,564.23 337.75,552.65 338.10,544.26 338.45,548.79 338.80,568.03 339.15,547.19 339.50,543.40 339.85,551.43 340.20,565.22 340.55,548.81 340.90,541.31 341.25,547.43 341.60,561.59 341.95,548.98 342.30,548.98 342.65,547.61 343.00,550.76 343.35,552.93 343.70,563.63 344.05,548.55 344.40,548.18 344.75,552.76 345.10,565.81 345.45,550.75 345.80,547.65 346.15,553.20 346.50,556.04 346.85,550.98 347.20,543.24 347.55,551.20 347.90,556.59 348.25,547.12 348.60,551.40 348.95,552.60 349.30,556.32 349.65,550.55 350.00,551.23 350.35,549.57 350.70,564.72 351.05,552.12 351.40,564.41 351.75,551.51 352.10,548.74 352.45,548.85 352.80,540.80 353.15,551.29 353.50,566.81 353.85,548.30 354.20,548.59 354.55,551.35 354.90,557.70 355.25,547.48 355.60,556.51 355.95,552.10 356.30,551.61 356.65,546.05 357.00,551.58 357.35,551.90 357.70,547.46 358.05,548.08 358.40,557.27 358.75,546.18 359.10,548.71 359.45,550.23 359.80,544.29 360.15,551.22 360.50,541.01 360.85,551.15 361.20,540.12 361.55,546.76 361.90,543.87 362.25,551.39 362.60,548.05 362.95,551.39 363.30,546.33 363.65,547.21 364.00,549.85 364.35,548.64 364.70,557.88 365.05,549.97 365.40,544.94 365.75,551.62 366.10,566.53 366.45,550.58 366.80,550.37 367.15,550.74 367.50,551.31 367.85,547.48 368.20,544.60 368.55,550.97 368.90,549.23 369.25,552.43 369.60,540.78 369.95,548.00 370.30,550.64 370.65,549.97 371.00,556.83 371.35,545.87 371.70,540.87 372.05,549.31 372.40,566.30 372.75,552.17 373.10,546.89 373.45,547.93 373.80,543.31 374.15,548.39 374.50,547.91 374.85,551.65 375.20,562.48 375.55,548.16 375.90,547.24 376.25,546.78 376.60,541.91 376.95,550.78 377.30,564.58 377.65,549.74 378.00,560.65 378.35,545.90 378.70,546.96 379.05,546.19 379.40,540.83 379.75,549.94 380.10,558.32 380.45,548.48 380.80,547.39 381.15,547.68 381.50,558.53 381.85,547.64 382.20,552.41 382.55,548.30 382.90,546.29 383.25,548.91 383.60,546.16 383.95,552.51 384.30,560.54 384.65,552.13 385.00,546.97 385.35,548.69 385.70,548.71 386.05,552.06 386.40,565.74 386.75,549.82 387.10,550.25 387.45,547.31 387.80,557.40 388.15,551.08 388.50,556.57 388.85,551.66 389.20,565.36 389.55,548.53 389.90,550.92 390.25,549.02 390.60,551.07 390.95,551.63 391.30,556.40 391.65,546.59 392.00,542.67 392.35,552.02 392.70,548.37 393.05,546.14 393.40,556.98 393.75,548.54 394.10,565.01 394.45,548.10 394.80,545.62 395.15,547.74 395.50,548.44 395.85,545.85 396.20,560.89 396.55,551.98 396.90,555.95 397.25,550.58 397.60,547.72 397.95,548.00 398.30,562.00 398.65,551.31 399.00,564.58 399.35,548.17 399.70,557.69 400.05,545.83 400.40,557.63 400.75,548.28 401.10,563.82 401.45,547.72 401.80,546.98 402.15,548.53 402.50,544.46 402.85,547.64 403.20,549.11 403.55,548.58 403.90,563.52 404.25,548.46 404.60,540.50 404.95,548.66 405.30,547.07 405.65,546.77 406.00,549.91 406.35,546.12 406.70,545.51 407.05,551.00 407.40,545.96 407.75,552.02 408.10,546.34 408.45,549.65 408.80,556.47 409.15,546.50 409.50,561.80 409.85,549.05 410.20,547.19 410.55,548.40 410.90,558.85 411.25,549.11 411.60,549.81 411.95,545.81 412.30,561.28 412.90,547.96 413.50,548.39 414.10,546.20 414.70,568.14 415.30,546.61 415.90,569.03 416.50,547.72 417.10,553.45 417.70,546.51 418.30,569.50 418.90,547.88 419.50,570.51 420.10,548.14 420.70,553.02 421.30,547.46 421.90,561.09 422.50,547.94 423.10,569.39 423.70,545.37 424.30,549.78 424.90,549.09 425.50,571.91 426.10,544.81 426.70,566.89 427.30,548.20 427.90,570.88 428.50,546.15 429.10,546.25 429.70,545.78 430.30,553.17 430.90,544.92 431.50,551.14 432.10,544.93 432.70,566.93 433.30,548.00 433.90,568.01 434.50,547.55 435.10,568.88 435.70,543.91 436.30,568.37 436.90,548.51 437.50,566.66 438.10,546.20 438.70,547.79 439.30,549.10 439.90,568.06 440.50,546.31 441.10,552.48 441.70,547.86 442.30,571.15 442.90,545.72 443.50,569.39 444.10,547.09 444.70,570.53 445.30,544.38 445.90,572.05 446.50,547.96 447.10,572.19 447.70,544.44 448.30,567.90 448.90,544.88 449.50,547.10 450.10,546.98 450.70,546.25 451.30,545.56 451.90,567.27 452.50,547.81 453.10,567.90 453.70,544.76 454.30,554.76 454.90,548.87 455.50,548.95 456.10,545.22 456.70,557.74 457.30,545.22 457.90,561.86 458.50,546.14 459.10,550.01 459.70,548.30 460.30,550.08 460.90,546.20 461.50,552.32 462.10,544.46 462.70,570.01 463.30,545.47 463.90,568.30 464.50,543.56 465.10,562.35 465.70,545.65 466.30,546.35 466.90,543.55 467.50,552.02 468.10,546.56 468.70,556.45 469.30,545.87 469.90,571.46 470.50,546.02 471.10,560.60 471.70,546.41 472.30,567.56 472.90,548.95 473.50,569.17 474.10,548.73 474.70,546.66 475.30,548.56 475.90,570.70 476.50,543.23 477.10,551.23 477.70,547.02 478.30,557.66 478.90,544.95 479.50,552.42 480.10,544.56 480.70,563.25 481.30,544.30 481.90,566.75 482.50,544.71 483.10,558.71 483.70,544.29 484.30,570.45 484.90,545.05 485.50,554.79 486.10,544.83 486.70,548.41 487.30,547.90 487.90,554.36 488.50,548.19 489.10,550.16 489.70,543.76 490.30,551.01 490.90,546.34 491.50,546.55 492.10,547.03 492.70,570.64 493.30,543.65 493.90,553.62 494.50,545.22 495.10,568.85 495.70,544.85 496.30,571.12 496.90,543.57 497.50,552.05 498.10,543.97 498.70,558.32 499.30,542.86 499.90,546.96 500.50,542.09 501.10,553.14 501.70,547.22 502.30,563.35 502.90,546.11 503.50,545.33 504.10,542.54 504.70,570.04 505.30,543.95 505.90,548.67 506.50,545.36 507.10,570.75 507.70,547.54 508.30,563.68 508.90,545.31 509.50,546.56 510.10,542.57 510.70,570.16 511.30,543.94 511.90,546.77 512.50,542.75 513.10,570.46 513.70,544.72 514.30,568.77 514.90,542.76 515.50,551.09 516.10,546.44 516.70,567.36 517.30,546.20 517.90,567.81 518.50,542.37 519.10,569.42 519.70,545.34 520.30,547.69 520.90,544.61 521.50,564.96 522.10,545.04 522.70,543.99 523.30,541.22 523.90,570.15 524.50,542.74 525.10,548.50 525.70,542.28 526.30,567.29 526.90,541.94 527.50,569.62 528.10,544.37 528.70,564.68 529.30,544.08 529.90,549.50 530.50,541.40 531.10,563.63 531.70,543.10 532.30,550.00 532.90,544.21 533.50,561.35 534.10,543.03 534.70,565.97 535.30,541.50 535.90,552.72 536.50,545.12 537.10,569.49 537.70,543.21 538.30,550.26 538.90,544.68 539.50,555.34 540.10,543.36 540.70,547.95 541.30,542.18 541.90,546.78 542.50,543.01 543.10,567.25 543.70,543.46 544.30,554.79 544.90,544.78 545.50,551.23 546.10,545.83 546.70,570.85 547.30,543.47 547.90,570.16 548.50,547.44 549.10,571.47 549.70,543.10 550.30,570.96 550.90,542.75 551.50,549.14 552.10,545.57 552.70,544.61 553.30,545.73 553.90,572.16 554.50,542.78 555.10,571.83 555.70,547.30 556.30,548.85 556.90,543.67 557.50,567.09 558.10,547.97 558.70,549.53 559.30,544.14 559.90,571.34 560.50,543.00 561.10,571.58 561.70,546.20 562.30,546.64 562.90,546.18 563.50,572.97 564.10,544.46 564.70,545.59 565.30,546.31 565.90,546.22 566.50,547.45 567.10,561.69 567.70,548.11 568.30,570.98 568.90,547.14 569.50,571.41 570.10,548.23 570.70,549.07 571.30,544.00 571.90,561.70 572.50,547.55 573.10,568.89 573.70,548.63 574.30,555.77 574.90,549.39 575.50,571.53 576.10,545.19 576.70,549.10 577.30,549.54 577.90,571.78 578.50,547.98 579.10,570.01 579.70,544.42 580.30,548.67 580.90,549.70 581.50,573.16 582.10,546.04 582.70,570.08 583.30,546.30 583.90,569.26 584.50,548.54 585.10,562.26 585.70,548.23 586.30,573.46 586.90,549.40 587.50,570.72 588.10,547.85 588.70,546.68 589.30,545.68 589.90,553.25 590.50,545.66 591.10,571.21 591.70,549.00 592.30,546.98 592.90,548.38 593.50,572.83 594.10,544.71 594.70,559.76 595.30,548.62 595.90,571.34 596.50,544.75 597.10,553.72 597.70,544.66 598.30,551.18 598.90,550.36 599.50,553.89 600.10,549.70 600.70,552.76 601.30,550.04 601.90,568.45 602.50,546.90 603.10,571.93 603.70,549.00 604.30,559.97 604.90,546.20 605.50,554.51 606.10,547.05 606.70,570.42 607.30,550.26 607.90,550.86 608.50,549.97 609.10,573.37 609.70,547.06 610.30,552.97 610.90,545.88 611.50,573.80 612.10,546.03 612.70,564.34 613.30,548.38 613.90,549.73 614.50,549.02 615.10,573.48 615.70,548.13 616.30,554.89 616.90,545.53 617.50,564.86 618.10,547.82 618.70,551.62 619.30,547.76 619.90,552.18 620.50,545.88 621.10,558.55 621.70,548.46 622.30,548.37 622.90,546.62 623.50,574.36 624.10,549.97 624.70,553.91 625.30,546.94 625.90,564.23 626.50,548.90 627.10,568.07 627.70,550.01 628.30,553.85 628.90,549.17 629.50,572.70 630.10,551.78 630.70,556.47 631.30,546.86 631.90,573.50 632.50,549.34 633.10,563.31 633.70,548.08 634.30,570.43 634.90,550.61 635.50,563.14 636.10,548.29 636.70,572.36 637.30,549.17 637.90,574.27 638.50,551.40 639.10,573.19 639.70,549.76 640.30,560.11 640.90,552.56 641.50,571.68 642.10,551.84 642.70,556.63 643.30,548.46 643.90,571.93 644.50,551.07 645.10,572.57 645.70,550.06 646.30,574.61 646.90,553.22 647.50,571.31 648.10,552.43 648.70,570.26 649.30,551.63 649.90,557.31 650.50,550.28 651.10,572.34 651.70,550.79 652.30,575.71 652.90,554.24 653.50,557.46 654.10,552.20 654.70,573.69 655.30,555.59 655.90,575.11 656.50,550.91 657.10,564.03 657.70,552.15 658.30,574.17 658.90,555.79 659.50,571.97 660.10,554.13 660.70,558.62 661.30,550.75 661.90,574.08 662.50,554.57 663.10,571.39 663.70,554.38 664.30,558.13 664.90,551.39 665.50,559.88 666.10,554.07 666.70,554.87 667.30,553.78 667.90,552.69 668.50,554.77 669.10,553.16 669.70,554.56 670.30,574.43 670.90,554.19 671.50,568.65 672.10,551.28 672.70,575.40 673.30,551.88 673.90,556.70 674.50,548.43 675.10,560.28 675.70,549.25 676.30,574.57 676.90,549.57 677.50,550.67 678.10,550.01 678.70,561.05 679.30,552.84 679.90,572.53 680.50,548.48 681.10,565.89 681.70,552.21 682.30,554.97 682.90,551.83 683.50,573.90 684.10,549.99 684.70,565.64 685.30,551.10 685.90,573.72 686.50,552.32 687.10,551.48 687.70,547.19 688.30,574.03 688.90,547.74 689.50,550.38 690.10,546.85 690.70,573.03 691.30,551.02 691.90,558.31 692.50,550.77 693.10,570.95 693.70,550.54 694.30,553.44 694.90,548.30 695.50,551.59 696.10,550.65 696.70,555.14 697.30,550.80 697.90,548.66 698.50,545.90 699.10,567.76 699.70,549.04 700.30,552.73 700.90,546.19 701.50,571.59 702.10,545.77 702.70,551.58 703.30,546.98 703.90,573.27 704.50,547.24 705.10,547.74 705.70,549.68 706.30,561.45 706.90,545.81 707.50,559.43 708.10,547.54 708.70,573.08 709.30,546.13 709.90,549.52 710.50,545.28 711.10,549.30 711.70,548.16 712.30,552.21 712.90,546.24 713.50,558.76 714.10,549.77 714.70,572.10 715.30,546.83 715.90,573.42 716.50,548.69 717.10,573.33 717.70,549.35 718.30,572.23 718.90,546.73 719.50,568.80 720.10,544.38 720.70,573.31 721.30,547.07 721.90,547.62 722.50,548.80 723.10,555.32 723.70,545.05 724.30,552.46 724.90,547.77 725.50,547.56 726.10,548.74 726.70,561.55 727.30,548.41 727.90,550.61 728.50,543.70 729.10,567.99 729.70,546.13 730.30,571.23 730.90,547.19 731.50,561.15 732.10,545.91 732.70,572.02 733.30,545.64 733.90,550.92 734.50,547.14 735.10,570.69 735.70,545.27 736.30,574.25 736.90,546.74 737.50,570.79 738.10,544.07 738.70,546.23 739.30,544.75 739.90,572.11 740.50,543.49 741.10,571.73 741.70,547.50 742.30,557.26 742.90,543.67 743.50,572.16 744.10,547.81 744.70,571.06 745.30,547.86 745.90,544.57 746.50,547.61 747.10,547.79 747.70,544.52 748.30,544.99 748.90,544.24 749.50,572.28 750.10,546.72 750.70,571.58 751.30,542.80 751.90,552.32 752.50,546.95 753.10,570.44 753.70,543.98 754.30,548.32 754.90,542.47 755.50,571.38 756.10,542.50 756.70,572.71 757.30,545.66 757.90,554.99 758.50,544.18 759.10,553.80 759.70,546.81 760.30,567.86 760.90,543.68 761.50,549.42 762.10,543.55 762.70,546.32 763.30,541.70 763.90,570.68 764.50,542.20 765.10,545.08 765.70,544.92 766.30,571.26 766.90,545.22 767.50,562.74 768.10,546.81 768.70,544.26 769.30,541.85 769.90,554.19 770.50,542.29 771.10,548.87 771.70,544.02 772.30,571.43 772.90,541.89 773.50,546.92 774.10,543.68 774.70,570.76 775.30,544.97 775.90,549.95 776.50,543.50 777.10,550.98 777.70,541.52 778.30,549.51 778.90,546.09 779.50,570.99 780.10,544.83 780.70,543.46 781.30,544.86 781.90,543.99 782.50,543.99 783.10,553.14 783.70,545.68 784.30,555.76 784.90,541.44 785.50,544.45 786.10,545.93 786.70,546.81 787.30,543.60 787.90,565.88 788.50,543.70 789.10,546.04 789.70,542.48 790.30,546.20 790.90,543.75 791.50,571.24 792.10,544.86 792.70,549.95 793.30,543.36 793.90,543.09 794.50,542.02 795.10,544.46 795.70,540.98 796.30,572.56 796.90,540.21 797.50,548.74 798.10,544.75 798.70,547.15 799.30,544.91 799.90,568.85 800.50,542.49 801.10,553.35 801.70,544.75 802.30,543.49 802.90,541.87 803.50,545.23 804.10,544.76 804.70,558.71 805.30,545.51 805.90,569.86 806.50,544.32 807.10,561.08 807.70,544.72 808.30,549.26 808.90,542.66 809.50,570.03 810.10,544.53 810.70,570.73 811.30,544.33 811.90,545.10 812.50,542.55 813.10,543.39 813.70,539.62 814.30,554.27 814.90,545.18 815.50,561.48 816.10,542.32 816.70,565.96 817.30,544.27 817.90,547.88 818.50,539.70 819.10,545.54 819.70,544.40 820.30,541.97 820.90,541.68 821.50,570.68 822.10,539.45 822.70,570.91 823.30,543.21 823.90,542.13 824.50,539.80 825.10,568.11 825.70,543.06 826.30,559.95 826.90,539.98 827.50,566.51 828.10,542.09 828.70,547.96 829.30,543.75 829.90,547.42 830.50,541.38 831.10,568.24 831.70,540.97 832.30,543.64 832.90,543.25 833.50,568.47 834.10,544.41 834.70,570.67 835.30,539.21 835.90,541.42 836.50,543.03 837.10,541.75 837.70,543.42 838.30,568.55 838.90,542.30 839.50,542.59 840.10,540.78 840.70,566.71 841.30,539.18 841.90,546.65 842.50,539.17 843.10,546.40 843.55,545.49 844.00,561.22 844.45,548.13 844.90,565.68 845.35,546.20 845.80,549.73 846.25,544.44 846.70,564.74 847.15,545.49 847.60,543.66 848.05,551.44 848.50,543.54 848.95,547.19 849.40,562.82 849.85,544.37 850.30,550.39 850.75,544.78 851.20,549.90 851.65,548.77 852.10,548.48 852.55,550.50 853.00,551.05 853.45,548.31 853.90,566.46 854.35,549.81 854.80,546.57 855.25,550.14 855.70,559.79 856.15,552.27 856.60,546.92 857.05,548.23 857.50,543.71 857.95,546.32 858.40,544.12 858.85,544.20 859.30,549.55 859.75,552.65 860.20,548.98 860.65,548.96 861.10,563.18 861.55,549.21 862.00,562.23 862.45,544.68 862.90,540.71 863.35,546.78 863.80,547.03 864.25,543.82 864.70,543.48 865.15,543.35 865.60,542.74 866.05,546.86 866.50,546.35 866.95,547.31 867.40,552.70 867.85,552.40 868.30,567.53 868.75,543.93 869.20,549.77 869.65,546.13 870.10,546.42 870.55,551.07 871.00,537.69 871.45,552.95 871.90,552.85 872.35,552.97 872.80,551.54 873.25,550.89 873.70,551.44 874.15,551.47 874.60,543.66 875.05,544.00 875.50,568.05 875.95,547.87 876.40,558.28 876.85,549.79 877.30,549.88 877.75,546.22 878.20,547.47 878.65,547.47 879.10,539.43 879.55,543.86 880.00,543.92 880.45,551.68 880.90,562.89 881.35,548.85 881.80,560.90 882.25,551.13 882.70,545.40 883.15,546.79 883.60,550.91 884.05,553.25 884.50,568.76 884.95,551.23 885.40,548.89 885.85,547.10 886.30,560.01 886.75,545.00 887.20,570.00 887.65,547.57 888.10,552.50 888.55,545.36 889.00,563.18 889.45,551.47 889.90,544.43 890.35,549.84 890.80,535.71 891.25,548.44 891.70,563.78 892.15,548.10 892.60,546.99 893.05,548.43 893.50,563.88 893.95,551.66 894.40,541.99 894.85,546.11 895.30,547.49 895.75,545.38 896.20,550.32 896.65,547.34 897.10,570.10 897.55,551.82 898.00,561.32 898.45,550.46 898.90,535.06 899.35,552.90 899.80,545.10 900.25,549.36 900.70,568.34 901.15,549.19 901.60,569.78 902.05,546.92 902.50,547.80 902.95,551.21 903.40,570.26 903.85,548.77 904.30,552.57 904.75,549.79 905.20,546.30 905.65,550.57 906.10,554.11 906.55,548.72 907.00,563.68 907.45,553.10 907.90,533.33 908.35,555.28 908.80,552.48 909.25,550.00 909.70,567.34 910.15,547.80 910.60,560.94 911.05,554.51 911.50,567.72 911.95,547.30 912.40,548.43 912.85,546.71 913.30,558.89 913.75,551.59 914.20,554.10 914.65,545.88 915.10,571.78 915.55,549.12 916.00,540.20 916.45,546.63 916.90,550.96 917.35,554.51 917.80,552.54 918.25,548.36 918.70,547.88 919.15,554.20 919.60,550.65 920.05,549.61 920.50,540.14 920.85,552.16 921.20,556.03 921.55,556.13 921.90,552.06 922.25,552.55 922.60,555.07 922.95,555.39 923.30,551.09 923.65,555.75 924.00,555.70 924.35,554.54 924.70,556.15 925.05,556.66 925.40,552.03 925.75,556.46 926.10,555.97 926.45,554.33 926.80,551.46 927.15,556.57 927.50,555.26 927.85,553.02 928.20,552.74 928.55,556.51 928.90,552.18 929.25,555.72 929.60,553.46 929.95,554.98 930.30,555.73 930.65,551.40 931.00,552.36 931.35,551.48 931.70,553.21 932.05,551.65 932.40,556.29 932.75,555.53 933.10,554.29 933.45,551.95 933.80,552.06 934.15,554.35 934.50,556.25 934.85,556.40 935.20,556.37 935.55,552.74 935.90,554.99 936.25,553.91 936.60,554.13 936.95,554.86 937.30,552.57 937.65,552.41 938.00,553.27 938.35,552.20 938.70,555.96 939.05,553.00 939.40,551.03 939.75,554.60 940.10,556.72 940.45,554.09 940.80,552.50 941.15,556.21" fill="none" stroke="#000" stroke-opacity="0.6" stroke-width="0.6"/>
<text x="22.10" y="12.10" text-anchor="end" font-size="16.0" fill="#000" color="#000">20</text>
<text x="22.10" y="30.70" text-anchor="end" font-size="16.0" fill="#000" color="#000">15</text>
<text x="22.10" y="51.10" text-anchor="end" font-size="16.0" fill="#000" color="#000">10</text>
<text x="22.10" y="71.60" text-anchor="end" font-size="16.0" fill="#000" color="#000">5</text>
<text x="22.10" y="89.90" text-anchor="end" font-size="16.0" fill="#000" color="#000">0</text>
<text x="22.10" y="111.70" text-anchor="end" font-size="16.0" fill="#000" color="#000">15</text>
<text x="22.10" y="137.70" text-anchor="end" font-size="16.0" fill="#000" color="#000">10</text>
<text x="22.10" y="166.10" text-anchor="end" font-size="16.0" fill="#000" color="#000">5</text>
<text x="22.10" y="189.90" text-anchor="end" font-size="16.0" fill="#000" color="#000">0</text>
<text x="22.10" y="212.50" text-anchor="end" font-size="16.0" fill="#000" color="#000">1.2</text>
<text x="22.10" y="224.50" text-anchor="end" font-size="16.0" fill="#000" color="#000">1.0</text>
<text x="22.10" y="238.00" text-anchor="end" font-size="16.0" fill="#000" color="#000">0.8</text>
<text x="22.10" y="251.90" text-anchor="end" font-size="16.0" fill="#000" color="#000">0.6</text>
<text x="22.10" y="265.70" text-anchor="end" font-size="16.0" fill="#000" color="#000">0.4</text>
<text x="22.10" y="279.50" text-anchor="end" font-size="16.0" fill="#000" color="#000">0.2</text>
<text x="22.10" y="289.90" text-anchor="end" font-size="16.0" fill="#000" color="#000">0.0</text>
<text x="22.10" y="312.50" text-anchor="end" font-size="16.0" fill="#000" color="#000">2.5</text>
<text x="22.10" y="327.60" text-anchor="end" font-size="16.0" fill="#000" color="#000">2.0</text>
<text x="22.10" y="344.10" text-anchor="end" font-size="16.0" fill="#000" color="#000">1.5</text>
<text x="22.10" y="360.20" text-anchor="end" font-size="16.0" fill="#000" color="#000">1.0</text>
<text x="22.10" y="376.90" text-anchor="end" font-size="16.0" fill="#000" color="#000">0.5</text>
<text x="22.10" y="389.60" text-anchor="end" font-size="16.0" fill="#000" color="#000">0.0</text>
<text x="22.10" y="412.80" text-anchor="end" font-size="16.0" fill="#000" color="#000">1.2</text>
<text x="22.10" y="425.10" text-anchor="end" font-size="16.0" fill="#000" color="#000">1.0</text>
<text x="22.10" y="438.80" text-anchor="end" font-size="16.0" fill="#000" color="#000">0.8</text>
<text x="22.10" y="452.60" text-anchor="end" font-size="16.0" fill="#000" color="#000">0.6</text>
<text x="22.10" y="466.40" text-anchor="end" font-size="16.0" fill="#000" color="#000">0.4</text>
<text x="22.10" y="480.20" text-anchor="end" font-size="16.0" fill="#000" color="#000">0.2</text>
<text x="22.10" y="490.40" text-anchor="end" font-size="16.0" fill="#000" color="#000">0.0</text>
<text x="22.10" y="513.80" text-anchor="end" font-size="16.0" fill="#000" color="#000">5</text>
<text x="22.10" y="528.60" text-anchor="end" font-size="16.0" fill="#000" color="#000">4</text>
<text x="22.10" y="544.70" text-anchor="end" font-size="16.0" fill="#000" color="#000">3</text>
<text x="22.10" y="561.50" text-anchor="end" font-size="16.0" fill="#000" color="#000">2</text>
<text x="22.10" y="577.90" text-anchor="end" font-size="16.0" fill="#000" color="#000">1</text>
<text x="22.10" y="591.60" text-anchor="end" font-size="16.0" fill="#000" color="#000">0</text>
<text x="26.40" y="610.90" text-anchor="middle" font-size="16.0" fill="#000" color="#000">1.0</text>
<text x="184.22" y="610.90" text-anchor="middle" font-size="16.0" fill="#000" color="#000">1.5</text>
<text x="342.04" y="610.90" text-anchor="middle" font-size="16.0" fill="#000" color="#000">2.0</text>
<text x="499.86" y="610.90" text-anchor="middle" font-size="16.0" fill="#000" color="#000">2.5</text>
<text x="657.68" y="610.90" text-anchor="middle" font-size="16.0" fill="#000" color="#000">3.0</text>
<text x="815.50" y="610.90" text-anchor="middle" font-size="16.0" fill="#000" color="#000">3.5</text>
<text x="478.60" y="634.10" text-anchor="middle" font-size="16.5" fill="#000" color="#000">Time [s]</text>
<text x="62.00" y="28.50" text-anchor="start" font-size="16.5" fill="#000" color="#000">Total Heating Power [MW]</text>
<text x="358.00" y="29.80" text-anchor="start" font-size="16.5" fill="#000" color="#000">NBI [MW]</text>
<text x="494.00" y="75.70" text-anchor="start" font-size="16.5" fill="#3f8a1f" color="#3f8a1f">ICRH [MW]</text>
<text x="730.80" y="69.30" text-anchor="start" font-size="16.5" fill="#dd0000" color="#dd0000">Radiated Power [MW]</text>
<text x="494.0" y="162.3" font-size="16.5">Line-averaged electron density [10<tspan font-size="11" dy="-5.5">19</tspan><tspan dy="5.5"> m</tspan><tspan font-size="11" dy="-5.5">-3</tspan><tspan dy="5.5">]</tspan></text>
<text x="494.5" y="262.9" font-size="16.5">Greenwald fraction N<tspan font-size="11" dy="-5">GW</tspan></text>
<text x="562.8" y="361.8" font-size="16.5">Normalized beta</text>
<text x="689.3" y="359.6" font-size="14.8" font-family="Liberation Serif" style="stroke-width:0.1px">&#946;</text>
<text x="697.0" y="366.3" font-size="11">N</text>
<text x="587.5" y="459.7" font-size="16.5">H<tspan font-size="11.3" dy="4.3">98!y,2)</tspan></text>
<text x="75.0" y="535" font-size="16.5">H</text>
<text transform="translate(85.4 539.3) scale(1.4 1)" x="0" y="0" font-size="12" font-family="Liberation Serif" style="stroke-width:0.1px">&#945;</text>
<text x="98.0" y="535" font-size="16.5">[a.u.]</text>
<path d="M193.6 36.9L240.8 58.4" stroke="#000" stroke-width="3.0" fill="none"/>
<path d="M233.6 49.0L240.8 58.4L229.0 58.5" stroke="#000" stroke-width="3.0" fill="none" stroke-linejoin="miter" stroke-miterlimit="10"/>
<path d="M384.5 38.6L371.8 64.8" stroke="#000" stroke-width="3.0" fill="none"/>
<path d="M370.9 53.5L371.8 64.8L380.0 58.5" stroke="#000" stroke-width="3.0" fill="none" stroke-linejoin="miter" stroke-miterlimit="10"/>
<path d="M483.7 69.4L443.2 81.5" stroke="#000" stroke-width="3.0" fill="none"/>
<path d="M450.5 74.0L443.2 81.5L453.5 83.4" stroke="#000" stroke-width="3.0" fill="none" stroke-linejoin="miter" stroke-miterlimit="10"/>
<path d="M721.0 63.0L682.5 48.5" stroke="#000" stroke-width="3.0" fill="none"/>
<path d="M693.2 46.8L682.5 48.5L689.1 56.7" stroke="#000" stroke-width="3.0" fill="none" stroke-linejoin="miter" stroke-miterlimit="10"/>
</svg></body></html>
